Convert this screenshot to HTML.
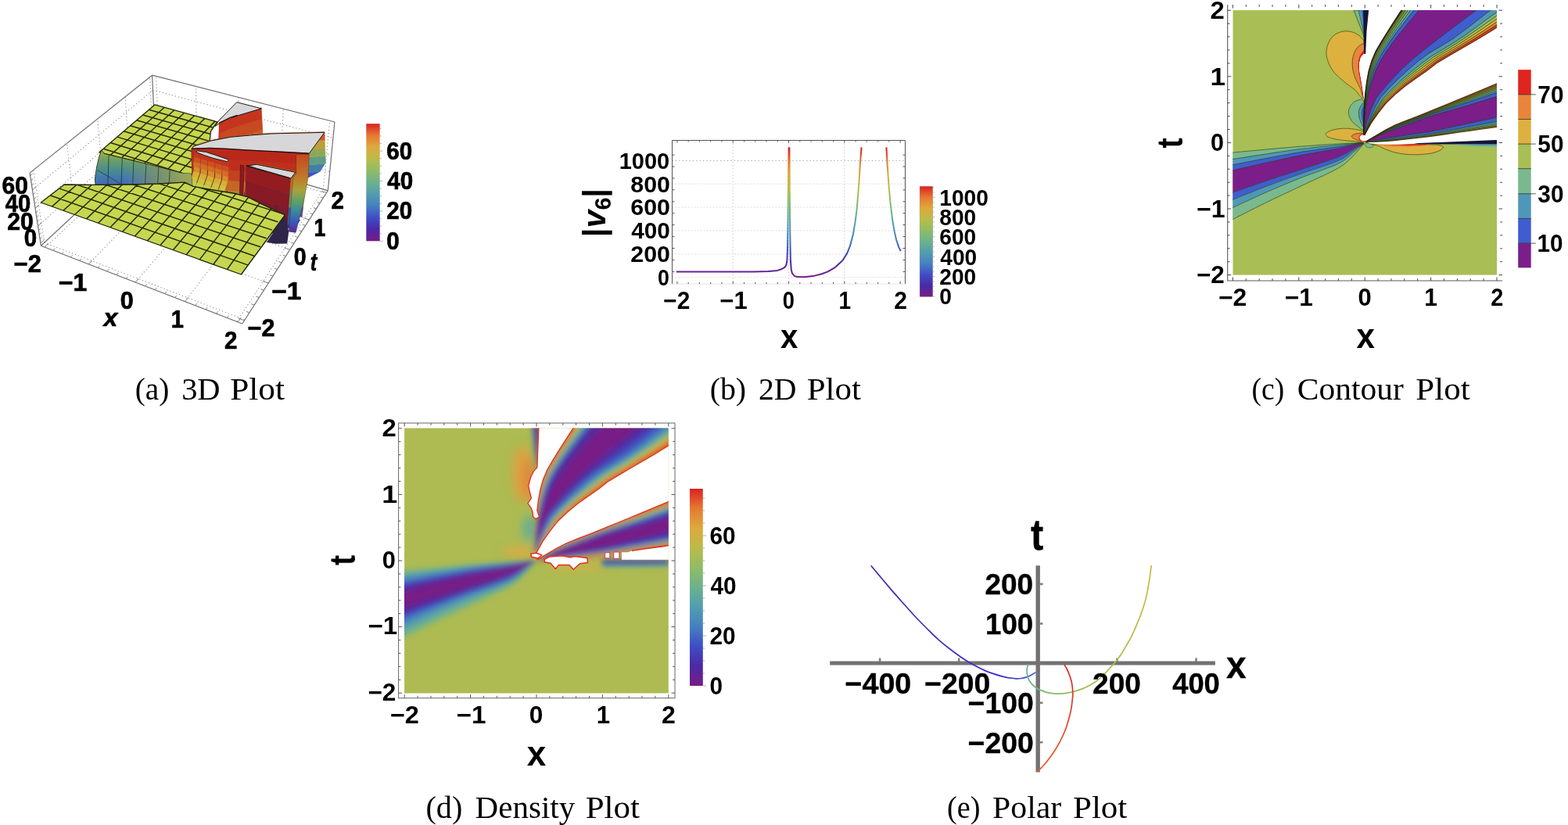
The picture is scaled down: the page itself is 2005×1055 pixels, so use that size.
<!DOCTYPE html>
<html lang="en"><head><meta charset="utf-8"><title>Figure</title>
<style>
html,body{margin:0;padding:0;background:#fff;overflow:hidden}
svg{display:block}
.s{font-family:"Liberation Sans",sans-serif;font-weight:bold;fill:#000}
.si{font-family:"Liberation Sans",sans-serif;font-weight:bold;font-style:italic;fill:#000}
.k7 text{stroke:#000;stroke-width:0.7px;stroke-linejoin:round}
.k4 text{stroke:#000;stroke-width:0.4px;stroke-linejoin:round}
.c{font-family:"Liberation Serif",serif;fill:#000}
</style></head><body>
<svg width="2005" height="1055" viewBox="0 0 2005 1055">
<rect width="2005" height="1055" fill="#fff"/>
<!-- 10_a.svg -->
<g id="plot-a" class="k7">
<g stroke="#6e6e6e" stroke-width="1.2" fill="none"><line x1="38.1" y1="221.1" x2="194.6" y2="96.2"/><line x1="194.6" y1="96.2" x2="427.9" y2="156.0"/><line x1="194.6" y1="96.2" x2="198.4" y2="178.6"/><line x1="427.9" y1="156.0" x2="419.3" y2="243.8"/><line x1="38.1" y1="221.1" x2="52.4" y2="314.2"/><line x1="52.4" y1="314.2" x2="309.8" y2="414.0"/><line x1="309.8" y1="414.0" x2="419.3" y2="243.8"/><line x1="52.4" y1="314.2" x2="198.4" y2="178.6"/><line x1="198.4" y1="178.6" x2="419.3" y2="243.8"/></g>
<g stroke="#7e7e7e" stroke-width="1.05" stroke-dasharray="1.1 3.1" fill="none"><line x1="113.3" y1="337.8" x2="251.6" y2="194.3"/><line x1="96.3" y1="273.5" x2="343.3" y2="362.0"/><line x1="96.3" y1="273.5" x2="85.5" y2="183.3"/><line x1="251.6" y1="194.3" x2="250.5" y2="110.5"/><line x1="173.1" y1="361.0" x2="303.3" y2="209.5"/><line x1="132.8" y1="239.6" x2="370.7" y2="319.3"/><line x1="132.8" y1="239.6" x2="124.7" y2="152.0"/><line x1="303.3" y1="209.5" x2="305.0" y2="124.5"/><line x1="236.6" y1="385.6" x2="357.6" y2="225.6"/><line x1="165.9" y1="208.8" x2="395.4" y2="281.0"/><line x1="165.9" y1="208.8" x2="160.0" y2="123.8"/><line x1="357.6" y1="225.6" x2="362.4" y2="139.2"/><line x1="48.6" y1="288.9" x2="197.4" y2="156.0"/><line x1="197.4" y1="156.0" x2="421.7" y2="219.9"/><line x1="45.1" y1="266.2" x2="196.4" y2="135.9"/><line x1="196.4" y1="135.9" x2="423.8" y2="198.4"/><line x1="41.5" y1="242.8" x2="195.5" y2="115.3"/><line x1="195.5" y1="115.3" x2="425.9" y2="176.4"/><line x1="56.7" y1="310.2" x2="42.7" y2="217.4"/><line x1="195.6" y1="181.2" x2="191.5" y2="98.7"/><line x1="203.2" y1="180.0" x2="199.6" y2="97.5"/><line x1="413.4" y1="242.1" x2="421.7" y2="154.4"/><line x1="57.9" y1="316.3" x2="203.2" y2="180.0"/><line x1="302.9" y1="411.3" x2="413.4" y2="242.1"/><line x1="56.7" y1="310.2" x2="313.1" y2="408.9"/><line x1="195.6" y1="181.2" x2="417.2" y2="247.1"/></g>
<g stroke="#777" stroke-width="0.9" fill="none"><line x1="56.8" y1="315.9" x2="61.5" y2="311.5"/><line x1="312.5" y1="409.9" x2="304.8" y2="407.0"/><line x1="67.9" y1="320.2" x2="70.4" y2="317.8"/><line x1="318.9" y1="399.9" x2="314.8" y2="398.3"/><line x1="79.0" y1="324.5" x2="81.5" y2="322.1"/><line x1="325.2" y1="390.1" x2="321.1" y2="388.6"/><line x1="90.3" y1="328.9" x2="92.8" y2="326.4"/><line x1="331.4" y1="380.5" x2="327.3" y2="379.0"/><line x1="101.7" y1="333.3" x2="104.2" y2="330.8"/><line x1="337.4" y1="371.2" x2="333.4" y2="369.7"/><line x1="113.3" y1="337.8" x2="117.7" y2="333.1"/><line x1="343.3" y1="362.0" x2="335.9" y2="359.4"/><line x1="125.0" y1="342.3" x2="127.4" y2="339.8"/><line x1="349.0" y1="353.1" x2="345.0" y2="351.7"/><line x1="136.8" y1="346.9" x2="139.2" y2="344.3"/><line x1="354.6" y1="344.4" x2="350.7" y2="343.0"/><line x1="148.7" y1="351.5" x2="151.1" y2="348.9"/><line x1="360.1" y1="335.9" x2="356.2" y2="334.5"/><line x1="160.9" y1="356.2" x2="163.2" y2="353.6"/><line x1="365.5" y1="327.5" x2="361.6" y2="326.2"/><line x1="173.1" y1="361.0" x2="177.3" y2="356.1"/><line x1="370.7" y1="319.3" x2="363.7" y2="317.0"/><line x1="185.5" y1="365.8" x2="187.8" y2="363.1"/><line x1="375.9" y1="311.3" x2="372.1" y2="310.1"/><line x1="198.1" y1="370.7" x2="200.3" y2="367.9"/><line x1="380.9" y1="303.5" x2="377.1" y2="302.3"/><line x1="210.8" y1="375.6" x2="213.0" y2="372.8"/><line x1="385.8" y1="295.9" x2="382.1" y2="294.6"/><line x1="223.6" y1="380.6" x2="225.8" y2="377.8"/><line x1="390.7" y1="288.4" x2="386.9" y2="287.2"/><line x1="236.6" y1="385.6" x2="240.6" y2="380.4"/><line x1="395.4" y1="281.0" x2="388.7" y2="278.9"/><line x1="249.8" y1="390.7" x2="252.0" y2="387.8"/><line x1="400.0" y1="273.8" x2="396.4" y2="272.7"/><line x1="263.2" y1="395.9" x2="265.3" y2="393.0"/><line x1="404.5" y1="266.8" x2="400.9" y2="265.6"/><line x1="276.7" y1="401.2" x2="278.8" y2="398.2"/><line x1="409.0" y1="259.8" x2="405.4" y2="258.7"/><line x1="290.4" y1="406.5" x2="292.4" y2="403.5"/><line x1="413.3" y1="253.1" x2="409.8" y2="252.0"/><line x1="304.2" y1="411.9" x2="307.9" y2="406.3"/><line x1="417.6" y1="246.4" x2="411.2" y2="244.5"/><line x1="51.9" y1="311.0" x2="56.7" y2="306.6"/><line x1="51.1" y1="305.5" x2="53.7" y2="303.1"/><line x1="50.3" y1="300.0" x2="52.9" y2="297.7"/><line x1="49.4" y1="294.5" x2="52.0" y2="292.2"/><line x1="48.6" y1="288.9" x2="53.4" y2="284.6"/><line x1="47.7" y1="283.3" x2="50.3" y2="281.0"/><line x1="46.8" y1="277.7" x2="49.5" y2="275.3"/><line x1="45.9" y1="272.0" x2="48.6" y2="269.7"/><line x1="45.1" y1="266.2" x2="50.0" y2="262.0"/><line x1="44.2" y1="260.4" x2="46.9" y2="258.1"/><line x1="43.3" y1="254.6" x2="46.0" y2="252.3"/><line x1="42.4" y1="248.7" x2="45.1" y2="246.5"/><line x1="41.5" y1="242.8" x2="46.4" y2="238.7"/><line x1="40.5" y1="236.8" x2="43.3" y2="234.6"/><line x1="39.6" y1="230.8" x2="42.4" y2="228.6"/><line x1="38.7" y1="224.7" x2="41.4" y2="222.5"/></g>
<defs><clipPath id="cpS2"><polygon points="197.8,133.9 277.8,155.8 269.5,167.8 267.7,184.2 271.7,195.3 280.1,190.8 268.1,199.9 257.2,209.9 247.1,220.6 243.0,223.7 243.2,224.6 231.9,221.5 215.1,216.9 204.0,214.0 192.9,211.1 181.9,208.3 165.5,204.2 154.6,201.6 143.9,199.0 133.2,196.4 126.9,194.8"/></clipPath></defs><polygon points="197.8,133.9 277.8,155.8 269.5,167.8 267.7,184.2 271.7,195.3 280.1,190.8 268.1,199.9 257.2,209.9 247.1,220.6 243.0,223.7 243.2,224.6 231.9,221.5 215.1,216.9 204.0,214.0 192.9,211.1 181.9,208.3 165.5,204.2 154.6,201.6 143.9,199.0 133.2,196.4 126.9,194.8" fill="#c7d650" stroke="#1c2408" stroke-width="1.3" stroke-linejoin="round"/>
<path d="M127.4,210.4L210.3,137.3M141.1,214.8L222.9,140.8M155.1,219.3L235.7,144.3M169.2,223.8L248.7,147.8M183.5,228.4L261.8,151.4M198.0,233.1L275.1,155.1M113.8,206.0L242.8,247.5M212.7,237.8L288.6,158.8M123.2,198.0L251.0,238.4M227.7,242.6L302.2,162.5M132.3,190.2L259.0,229.5M242.8,247.5L316.0,166.3M141.2,182.5L266.8,220.9M149.9,175.1L274.4,212.5M158.3,167.8L281.8,204.3M166.6,160.7L289.0,196.3M174.7,153.7L296.0,188.5M182.6,147.0L302.8,180.9M190.3,140.3L309.5,173.5" stroke="#232b0a" stroke-width="1.5" fill="none" clip-path="url(#cpS2)"/>
<g><polygon points="330.5,220.8 346.2,217.0 367.7,220.9 391.5,226.6 368.0,228.8" fill="#4a2aa5" stroke="#4a2aa5" stroke-width="0.5" stroke-linejoin="round"/>
<polygon points="312.3,225.4 330.5,220.8 368.0,228.8 344.3,231.1" fill="#4a2aa5" stroke="#4a2aa5" stroke-width="0.5" stroke-linejoin="round"/>
<polygon points="395.7,226.2 391.5,226.6 367.7,220.9" fill="#4a2aa5" stroke="#4a2aa5" stroke-width="0.5" stroke-linejoin="round"/>
<polygon points="303.3,228.1 312.3,225.4 344.3,231.1 332.5,232.4" fill="#4a2aa5" stroke="#4a2aa5" stroke-width="0.5" stroke-linejoin="round"/>
<polygon points="286.4,234.5 303.3,228.1 332.5,232.4 309.0,235.6" fill="#4a2aa5" stroke="#4a2aa5" stroke-width="0.5" stroke-linejoin="round"/>
<polygon points="391.5,226.6 395.7,226.2 409.2,219.4 403.0,220.0" fill="#3f4dc5" stroke="#3f4dc5" stroke-width="0.5" stroke-linejoin="round"/>
<polygon points="368.0,228.8 391.5,226.6 403.0,220.0 378.4,222.5" fill="#3f4dc5" stroke="#3f4dc5" stroke-width="0.5" stroke-linejoin="round"/>
<polygon points="344.3,231.1 368.0,228.8 378.4,222.5 353.1,224.0" fill="#3f4dc5" stroke="#3f4dc5" stroke-width="0.5" stroke-linejoin="round"/>
<polygon points="271.8,243.2 286.4,234.5 309.0,235.6 286.0,240.4" fill="#4a2aa5" stroke="#4a2aa5" stroke-width="0.5" stroke-linejoin="round"/>
<polygon points="332.5,232.4 344.3,231.1 353.1,224.0 340.3,224.3" fill="#3f4dc5" stroke="#3f4dc5" stroke-width="0.5" stroke-linejoin="round"/>
<polygon points="309.0,235.6 332.5,232.4 340.3,224.3 315.3,227.0" fill="#3f4dc5" stroke="#3f4dc5" stroke-width="0.5" stroke-linejoin="round"/>
<polygon points="403.0,220.0 409.2,219.4 415.7,209.2 404.4,210.2" fill="#437ea7" stroke="#437ea7" stroke-width="0.5" stroke-linejoin="round"/>
<polygon points="378.4,222.5 403.0,220.0 404.4,210.2 379.6,212.3" fill="#437ea7" stroke="#437ea7" stroke-width="0.5" stroke-linejoin="round"/>
<polygon points="286.0,240.4 309.0,235.6 315.3,227.0 290.7,231.1" fill="#3f4dc5" stroke="#3f4dc5" stroke-width="0.5" stroke-linejoin="round"/>
<polygon points="353.1,224.0 378.4,222.5 379.6,212.3 354.2,213.6" fill="#437ea7" stroke="#437ea7" stroke-width="0.5" stroke-linejoin="round"/>
<polygon points="259.0,253.2 271.8,243.2 286.0,240.4 265.0,247.9" fill="#4a2aa5" stroke="#4a2aa5" stroke-width="0.5" stroke-linejoin="round"/>
<polygon points="340.3,224.3 353.1,224.0 354.2,213.6 341.4,213.9" fill="#437ea7" stroke="#437ea7" stroke-width="0.5" stroke-linejoin="round"/>
<polygon points="315.3,227.0 340.3,224.3 341.4,213.9 316.2,216.5" fill="#437ea7" stroke="#437ea7" stroke-width="0.5" stroke-linejoin="round"/>
<polygon points="404.4,210.2 415.7,209.2 416.4,208.2 416.0,199.4 405.9,200.1" fill="#5e9d84" stroke="#5e9d84" stroke-width="0.5" stroke-linejoin="round"/>
<polygon points="379.6,212.3 404.4,210.2 405.9,200.1 380.8,201.9" fill="#5e9d84" stroke="#5e9d84" stroke-width="0.5" stroke-linejoin="round"/>
<polygon points="265.0,247.9 286.0,240.4 290.7,231.1 267.8,238.0" fill="#3f4dc5" stroke="#3f4dc5" stroke-width="0.5" stroke-linejoin="round"/>
<polygon points="290.7,231.1 315.3,227.0 316.2,216.5 291.4,220.2" fill="#437ea7" stroke="#437ea7" stroke-width="0.5" stroke-linejoin="round"/>
<polygon points="354.2,213.6 379.6,212.3 380.8,201.9 355.3,203.0" fill="#5e9d84" stroke="#5e9d84" stroke-width="0.5" stroke-linejoin="round"/>
<polygon points="341.4,213.9 354.2,213.6 355.3,203.0 342.4,203.3" fill="#5e9d84" stroke="#5e9d84" stroke-width="0.5" stroke-linejoin="round"/>
<polygon points="316.2,216.5 341.4,213.9 342.4,203.3 317.2,205.7" fill="#5e9d84" stroke="#5e9d84" stroke-width="0.5" stroke-linejoin="round"/>
<polygon points="248.0,264.4 259.0,253.2 265.0,247.9 248.1,259.1" fill="#4a2aa5" stroke="#4a2aa5" stroke-width="0.5" stroke-linejoin="round"/>
<polygon points="405.9,200.1 416.0,199.4 415.7,189.4 407.3,189.9" fill="#8ea953" stroke="#8ea953" stroke-width="0.5" stroke-linejoin="round"/>
<polygon points="267.8,238.0 290.7,231.1 291.4,220.2 268.2,226.6" fill="#437ea7" stroke="#437ea7" stroke-width="0.5" stroke-linejoin="round"/>
<polygon points="380.8,201.9 405.9,200.1 407.3,189.9 382.0,191.3" fill="#8ea953" stroke="#8ea953" stroke-width="0.5" stroke-linejoin="round"/>
<polygon points="291.4,220.2 316.2,216.5 317.2,205.7 292.2,209.1" fill="#5e9d84" stroke="#5e9d84" stroke-width="0.5" stroke-linejoin="round"/>
<polygon points="355.3,203.0 380.8,201.9 382.0,191.3 356.4,192.2" fill="#8ea953" stroke="#8ea953" stroke-width="0.5" stroke-linejoin="round"/>
<polygon points="342.4,203.3 355.3,203.0 356.4,192.2 343.5,192.5" fill="#8ea953" stroke="#8ea953" stroke-width="0.5" stroke-linejoin="round"/>
<polygon points="248.1,259.1 265.0,247.9 267.8,238.0 248.1,248.4" fill="#3f4dc5" stroke="#3f4dc5" stroke-width="0.5" stroke-linejoin="round"/>
<polygon points="317.2,205.7 342.4,203.3 343.5,192.5 318.2,194.8" fill="#8ea953" stroke="#8ea953" stroke-width="0.5" stroke-linejoin="round"/>
<polygon points="268.2,226.6 291.4,220.2 292.2,209.1 268.7,215.1" fill="#5e9d84" stroke="#5e9d84" stroke-width="0.5" stroke-linejoin="round"/>
<polygon points="407.3,189.9 415.7,189.4 415.3,179.1 408.8,179.4" fill="#c19d39" stroke="#c19d39" stroke-width="0.5" stroke-linejoin="round"/>
<polygon points="292.2,209.1 317.2,205.7 318.2,194.8 293.0,197.8" fill="#8ea953" stroke="#8ea953" stroke-width="0.5" stroke-linejoin="round"/>
<polygon points="382.0,191.3 407.3,189.9 408.8,179.4 383.3,180.5" fill="#c19d39" stroke="#c19d39" stroke-width="0.5" stroke-linejoin="round"/>
<polygon points="248.1,248.4 267.8,238.0 268.2,226.6 247.9,236.4" fill="#437ea7" stroke="#437ea7" stroke-width="0.5" stroke-linejoin="round"/>
<polygon points="356.4,192.2 382.0,191.3 383.3,180.5 357.5,181.1" fill="#c19d39" stroke="#c19d39" stroke-width="0.5" stroke-linejoin="round"/>
<polygon points="343.5,192.5 356.4,192.2 357.5,181.1 344.6,181.5" fill="#c19d39" stroke="#c19d39" stroke-width="0.5" stroke-linejoin="round"/>
<polygon points="318.2,194.8 343.5,192.5 344.6,181.5 319.2,183.6" fill="#c19d39" stroke="#c19d39" stroke-width="0.5" stroke-linejoin="round"/>
<polygon points="268.7,215.1 292.2,209.1 293.0,197.8 269.2,203.3" fill="#8ea953" stroke="#8ea953" stroke-width="0.5" stroke-linejoin="round"/>
<polygon points="293.0,197.8 318.2,194.8 319.2,183.6 293.9,186.3" fill="#c19d39" stroke="#c19d39" stroke-width="0.5" stroke-linejoin="round"/>
<polygon points="247.9,236.4 268.2,226.6 268.7,215.1 247.7,224.2" fill="#5e9d84" stroke="#5e9d84" stroke-width="0.5" stroke-linejoin="round"/>
<polygon points="408.8,179.4 415.3,179.1 415.0,168.5 410.3,168.7" fill="#cc5829" stroke="#cc5829" stroke-width="0.5" stroke-linejoin="round"/>
<polygon points="383.3,180.5 408.8,179.4 410.3,168.7 384.6,169.4" fill="#cc5829" stroke="#cc5829" stroke-width="0.5" stroke-linejoin="round"/>
<polygon points="357.5,181.1 383.3,180.5 384.6,169.4 358.7,169.9" fill="#cc5829" stroke="#cc5829" stroke-width="0.5" stroke-linejoin="round"/>
<polygon points="344.6,181.5 357.5,181.1 358.7,169.9 345.8,170.2" fill="#cc5829" stroke="#cc5829" stroke-width="0.5" stroke-linejoin="round"/>
<polygon points="319.2,183.6 344.6,181.5 345.8,170.2 320.3,172.2" fill="#cc5829" stroke="#cc5829" stroke-width="0.5" stroke-linejoin="round"/>
<polygon points="269.2,203.3 293.0,197.8 293.9,186.3 269.6,191.4" fill="#c19d39" stroke="#c19d39" stroke-width="0.5" stroke-linejoin="round"/>
<polygon points="247.7,224.2 268.7,215.1 269.2,203.3 247.5,211.8" fill="#8ea953" stroke="#8ea953" stroke-width="0.5" stroke-linejoin="round"/>
<polygon points="293.9,186.3 319.2,183.6 320.3,172.2 294.7,174.5" fill="#cc5829" stroke="#cc5829" stroke-width="0.5" stroke-linejoin="round"/>
<polygon points="269.6,191.4 293.9,186.3 294.7,174.5 270.1,179.2" fill="#cc5829" stroke="#cc5829" stroke-width="0.5" stroke-linejoin="round"/>
<polygon points="247.5,211.8 269.2,203.3 269.6,191.4 247.4,199.2" fill="#c19d39" stroke="#c19d39" stroke-width="0.5" stroke-linejoin="round"/>
<polygon points="247.4,199.2 269.6,191.4 270.1,179.2 247.2,186.4" fill="#cc5829" stroke="#cc5829" stroke-width="0.5" stroke-linejoin="round"/></g>
<g><polygon points="322.8,184.0 336.5,180.0 337.3,193.5 323.4,197.6" fill="#ce7126" stroke="#ce7126" stroke-width="0.5" stroke-linejoin="round"/>
<polygon points="305.5,189.2 322.8,184.0 323.4,197.6 306.1,202.7" fill="#ce7126" stroke="#ce7126" stroke-width="0.5" stroke-linejoin="round"/>
<polygon points="322.1,170.3 335.8,166.3 336.5,180.0 322.8,184.0" fill="#cb5e23" stroke="#cb5e23" stroke-width="0.5" stroke-linejoin="round"/>
<line x1="320.8" y1="142.1" x2="323.4" y2="197.6" stroke="#3a1818" stroke-width="0.8"/>
<polygon points="297.0,192.0 305.5,189.2 306.1,202.7 297.6,205.6" fill="#ce7126" stroke="#ce7126" stroke-width="0.5" stroke-linejoin="round"/>
<polygon points="304.9,175.5 322.1,170.3 322.8,184.0 305.5,189.2" fill="#cb5e23" stroke="#cb5e23" stroke-width="0.5" stroke-linejoin="round"/>
<polygon points="321.5,156.3 335.0,152.3 335.8,166.3 322.1,170.3" fill="#c74a20" stroke="#c74a20" stroke-width="0.5" stroke-linejoin="round"/>
<line x1="303.6" y1="147.3" x2="306.1" y2="202.7" stroke="#3a1818" stroke-width="0.8"/>
<polygon points="281.8,199.3 297.0,192.0 297.6,205.6 282.3,212.8" fill="#ce7126" stroke="#ce7126" stroke-width="0.5" stroke-linejoin="round"/>
<polygon points="296.4,178.3 304.9,175.5 305.5,189.2 297.0,192.0" fill="#cb5e23" stroke="#cb5e23" stroke-width="0.5" stroke-linejoin="round"/>
<polygon points="304.3,161.5 321.5,156.3 322.1,170.3 304.9,175.5" fill="#c74a20" stroke="#c74a20" stroke-width="0.5" stroke-linejoin="round"/>
<polygon points="320.8,142.1 334.2,138.1 335.0,152.3 321.5,156.3" fill="#c4351c" stroke="#c4351c" stroke-width="0.5" stroke-linejoin="round"/>
<line x1="295.1" y1="150.0" x2="297.6" y2="205.6" stroke="#3a1818" stroke-width="0.8"/>
<polygon points="281.3,185.5 296.4,178.3 297.0,192.0 281.8,199.3" fill="#cb5e23" stroke="#cb5e23" stroke-width="0.5" stroke-linejoin="round"/>
<polygon points="295.8,164.3 304.3,161.5 304.9,175.5 296.4,178.3" fill="#c74a20" stroke="#c74a20" stroke-width="0.5" stroke-linejoin="round"/>
<line x1="320.8" y1="142.1" x2="334.2" y2="138.1" stroke="#111" stroke-width="1.3"/>
<polygon points="303.6,147.3 320.8,142.1 321.5,156.3 304.3,161.5" fill="#c4351c" stroke="#c4351c" stroke-width="0.5" stroke-linejoin="round"/>
<polygon points="269.2,212.6 282.0,203.6 283.9,216.3 270.3,225.1" fill="#99b45c" stroke="#99b45c" stroke-width="0.5" stroke-linejoin="round"/>
<line x1="280.3" y1="157.3" x2="282.3" y2="212.8" stroke="#3a1818" stroke-width="0.8"/>
<line x1="303.6" y1="147.3" x2="320.8" y2="142.1" stroke="#111" stroke-width="1.3"/>
<polygon points="280.8,171.5 295.8,164.3 296.4,178.3 281.3,185.5" fill="#c74a20" stroke="#c74a20" stroke-width="0.5" stroke-linejoin="round"/>
<polygon points="295.1,150.0 303.6,147.3 304.3,161.5 295.8,164.3" fill="#c4351c" stroke="#c4351c" stroke-width="0.5" stroke-linejoin="round"/>
<polygon points="268.1,200.0 280.1,190.8 282.0,203.6 269.2,212.6" fill="#b8ca54" stroke="#b8ca54" stroke-width="0.5" stroke-linejoin="round"/>
<polygon points="302.8,130.7 279.1,154.9 275.0,161.4 280.3,158.0 295.1,150.8 303.6,148.0 320.8,142.8 334.2,138.8" fill="#d7d7d9" stroke="#1a1a1a" stroke-width="1.0" stroke-linejoin="round"/>
<line x1="268.1" y1="200.0" x2="270.3" y2="225.1" stroke="#232b0a" stroke-width="0.8"/>
<polygon points="280.3,158.0 282.4,192.2 279.0,190.4" fill="#c8361e" stroke="#c8361e" stroke-width="0.5" stroke-linejoin="round"/>
<line x1="295.1" y1="150.0" x2="303.6" y2="147.3" stroke="#111" stroke-width="1.3"/>
<polygon points="257.7,222.6 269.2,212.6 270.3,225.1 258.3,235.1" fill="#99b45c" stroke="#99b45c" stroke-width="0.5" stroke-linejoin="round"/>
<polygon points="280.3,157.3 295.1,150.0 295.8,164.3 280.8,171.5" fill="#c4351c" stroke="#c4351c" stroke-width="0.5" stroke-linejoin="round"/>
<line x1="280.3" y1="157.3" x2="295.1" y2="150.0" stroke="#111" stroke-width="1.3"/>
<polygon points="257.2,210.0 268.1,200.0 269.2,212.6 257.7,222.6" fill="#b8ca54" stroke="#b8ca54" stroke-width="0.5" stroke-linejoin="round"/>
<line x1="257.2" y1="210.0" x2="258.3" y2="235.1" stroke="#232b0a" stroke-width="0.8"/>
<polygon points="247.3,233.5 257.7,222.6 258.3,235.1 247.6,246.1" fill="#99b45c" stroke="#99b45c" stroke-width="0.5" stroke-linejoin="round"/>
<polygon points="247.1,220.7 257.2,210.0 257.7,222.6 247.3,233.5" fill="#b8ca54" stroke="#b8ca54" stroke-width="0.5" stroke-linejoin="round"/>
<line x1="247.1" y1="220.7" x2="247.6" y2="246.1" stroke="#232b0a" stroke-width="0.8"/></g>
<g><polygon points="247.2,187.2 270.1,180.0 294.7,175.3 320.2,173.0 345.7,171.0 358.7,170.6 384.5,170.1 410.3,169.4 415.0,169.3 394.8,196.9 373.2,195.8 349.7,194.5 338.0,193.9 314.6,192.5 291.4,191.1 268.2,190.2 245.0,190.8" fill="#d7d7d9" stroke="#1a1a1a" stroke-width="1.0" stroke-linejoin="round"/></g>
<g><polygon points="246.5,267.6 268.0,268.4 266.5,271.8 246.6,267.8" fill="#5a2a8a" stroke="#5a2a8a" stroke-width="0.5" stroke-linejoin="round"/>
<polygon points="246.2,255.1 268.2,255.1 268.2,267.5 246.4,267.5" fill="#6b4b6f" stroke="#6b4b6f" stroke-width="0.5" stroke-linejoin="round"/>
<polygon points="268.2,255.1 290.2,256.3 289.9,268.9 268.2,267.5" fill="#6b4b6f" stroke="#6b4b6f" stroke-width="0.5" stroke-linejoin="round"/>
<polygon points="268.0,268.4 289.4,270.1 286.6,276.1 266.5,271.8" fill="#5a2a8a" stroke="#5a2a8a" stroke-width="0.5" stroke-linejoin="round"/>
<polygon points="290.2,256.3 312.2,257.9 311.7,270.5 289.9,268.9" fill="#6b4b6f" stroke="#6b4b6f" stroke-width="0.5" stroke-linejoin="round"/>
<polygon points="312.2,257.9 334.3,259.9 333.6,272.6 311.7,270.5" fill="#6b4b6f" stroke="#6b4b6f" stroke-width="0.5" stroke-linejoin="round"/>
<polygon points="289.4,270.1 311.0,271.9 306.8,280.6 286.6,276.1" fill="#5a2a8a" stroke="#5a2a8a" stroke-width="0.5" stroke-linejoin="round"/>
<polygon points="334.3,259.9 345.4,260.9 344.6,273.7 333.6,272.6" fill="#6b4b6f" stroke="#6b4b6f" stroke-width="0.5" stroke-linejoin="round"/>
<polygon points="245.9,242.5 268.2,242.4 268.2,255.1 246.2,255.1" fill="#ad8033" stroke="#ad8033" stroke-width="0.5" stroke-linejoin="round"/>
<polygon points="268.2,242.4 290.4,243.5 290.2,256.3 268.2,255.1" fill="#ad8033" stroke="#ad8033" stroke-width="0.5" stroke-linejoin="round"/>
<polygon points="345.4,260.9 367.7,262.8 366.6,275.7 344.6,273.7" fill="#6b4b6f" stroke="#6b4b6f" stroke-width="0.5" stroke-linejoin="round"/>
<polygon points="311.0,271.9 332.5,274.6 327.6,284.3 306.8,280.6" fill="#5a2a8a" stroke="#5a2a8a" stroke-width="0.5" stroke-linejoin="round"/>
<polygon points="290.4,243.5 312.7,245.1 312.2,257.9 290.2,256.3" fill="#ad8033" stroke="#ad8033" stroke-width="0.5" stroke-linejoin="round"/>
<polygon points="367.7,262.8 387.7,264.4 386.3,277.4 366.6,275.7" fill="#6b4b6f" stroke="#6b4b6f" stroke-width="0.5" stroke-linejoin="round"/>
<polygon points="312.7,245.1 335.0,246.9 334.3,259.9 312.2,257.9" fill="#ad8033" stroke="#ad8033" stroke-width="0.5" stroke-linejoin="round"/>
<polygon points="332.5,274.6 343.3,276.1 338.1,286.1 327.6,284.3" fill="#5a2a8a" stroke="#5a2a8a" stroke-width="0.5" stroke-linejoin="round"/>
<line x1="268.2" y1="189.4" x2="268.2" y2="267.5" stroke="#3a1818" stroke-width="0.8"/>
<line x1="245.0" y1="190.1" x2="246.4" y2="267.5" stroke="#3a1818" stroke-width="0.8"/>
<polygon points="335.0,246.9 346.2,247.9 345.4,260.9 334.3,259.9" fill="#ad8033" stroke="#ad8033" stroke-width="0.5" stroke-linejoin="round"/>
<line x1="291.4" y1="190.3" x2="289.9" y2="268.9" stroke="#3a1818" stroke-width="0.8"/>
<polygon points="245.7,229.8 268.2,229.5 268.2,242.4 245.9,242.5" fill="#c46625" stroke="#c46625" stroke-width="0.5" stroke-linejoin="round"/>
<polygon points="343.3,276.1 365.0,278.8 359.2,289.9 338.1,286.1" fill="#5a2a8a" stroke="#5a2a8a" stroke-width="0.5" stroke-linejoin="round"/>
<polygon points="268.2,229.5 290.6,230.5 290.4,243.5 268.2,242.4" fill="#c46625" stroke="#c46625" stroke-width="0.5" stroke-linejoin="round"/>
<polygon points="346.2,247.9 368.7,249.6 367.7,262.8 345.4,260.9" fill="#ad8033" stroke="#ad8033" stroke-width="0.5" stroke-linejoin="round"/>
<line x1="314.6" y1="191.8" x2="311.7" y2="270.5" stroke="#3a1818" stroke-width="0.8"/>
<polygon points="290.6,230.5 313.2,232.1 312.7,245.1 290.4,243.5" fill="#c46625" stroke="#c46625" stroke-width="0.5" stroke-linejoin="round"/>
<polygon points="368.7,249.6 389.1,251.2 387.7,264.4 367.7,262.8" fill="#ad8033" stroke="#ad8033" stroke-width="0.5" stroke-linejoin="round"/>
<line x1="338.0" y1="193.1" x2="333.6" y2="272.6" stroke="#3a1818" stroke-width="0.8"/>
<polygon points="365.0,278.8 383.9,281.1 376.1,292.9 359.2,289.9" fill="#5a2a8a" stroke="#5a2a8a" stroke-width="0.5" stroke-linejoin="round"/>
<polygon points="313.2,232.1 335.8,233.8 335.0,246.9 312.7,245.1" fill="#c46625" stroke="#c46625" stroke-width="0.5" stroke-linejoin="round"/>
<line x1="349.7" y1="193.7" x2="344.6" y2="273.7" stroke="#3a1818" stroke-width="0.8"/>
<polygon points="335.8,233.8 347.1,234.7 346.2,247.9 335.0,246.9" fill="#c46625" stroke="#c46625" stroke-width="0.5" stroke-linejoin="round"/>
<line x1="373.2" y1="195.0" x2="366.6" y2="275.7" stroke="#3a1818" stroke-width="0.8"/>
<polygon points="245.5,216.8 268.2,216.4 268.2,229.5 245.7,229.8" fill="#c3421f" stroke="#c3421f" stroke-width="0.5" stroke-linejoin="round"/>
<polygon points="347.1,234.7 369.8,236.3 368.7,249.6 346.2,247.9" fill="#c46625" stroke="#c46625" stroke-width="0.5" stroke-linejoin="round"/>
<polygon points="268.2,216.4 290.9,217.4 290.6,230.5 268.2,229.5" fill="#c3421f" stroke="#c3421f" stroke-width="0.5" stroke-linejoin="round"/>
<polygon points="290.9,217.4 313.6,218.9 313.2,232.1 290.6,230.5" fill="#c3421f" stroke="#c3421f" stroke-width="0.5" stroke-linejoin="round"/>
<polygon points="369.8,236.3 390.5,237.7 389.1,251.2 368.7,249.6" fill="#c46625" stroke="#c46625" stroke-width="0.5" stroke-linejoin="round"/>
<polygon points="313.6,218.9 336.5,220.5 335.8,233.8 313.2,232.1" fill="#c3421f" stroke="#c3421f" stroke-width="0.5" stroke-linejoin="round"/>
<polygon points="336.5,220.5 348.0,221.2 347.1,234.7 335.8,233.8" fill="#c3421f" stroke="#c3421f" stroke-width="0.5" stroke-linejoin="round"/>
<polygon points="348.0,221.2 371.0,222.7 369.8,236.3 347.1,234.7" fill="#c3421f" stroke="#c3421f" stroke-width="0.5" stroke-linejoin="round"/>
<polygon points="245.2,203.5 268.2,203.0 268.2,216.4 245.5,216.8" fill="#bf2f1b" stroke="#bf2f1b" stroke-width="0.5" stroke-linejoin="round"/>
<polygon points="268.2,203.0 291.1,203.9 290.9,217.4 268.2,216.4" fill="#bf2f1b" stroke="#bf2f1b" stroke-width="0.5" stroke-linejoin="round"/>
<polygon points="371.0,222.7 391.9,224.1 390.5,237.7 369.8,236.3" fill="#c3421f" stroke="#c3421f" stroke-width="0.5" stroke-linejoin="round"/>
<polygon points="291.1,203.9 314.1,205.4 313.6,218.9 290.9,217.4" fill="#bf2f1b" stroke="#bf2f1b" stroke-width="0.5" stroke-linejoin="round"/>
<polygon points="314.1,205.4 337.2,206.9 336.5,220.5 313.6,218.9" fill="#bf2f1b" stroke="#bf2f1b" stroke-width="0.5" stroke-linejoin="round"/>
<polygon points="337.2,206.9 348.8,207.6 348.0,221.2 336.5,220.5" fill="#bf2f1b" stroke="#bf2f1b" stroke-width="0.5" stroke-linejoin="round"/>
<polygon points="348.8,207.6 372.1,209.0 371.0,222.7 348.0,221.2" fill="#bf2f1b" stroke="#bf2f1b" stroke-width="0.5" stroke-linejoin="round"/>
<polygon points="245.0,190.1 268.2,189.4 268.2,203.0 245.2,203.5" fill="#ba281a" stroke="#ba281a" stroke-width="0.5" stroke-linejoin="round"/>
<polygon points="268.2,189.4 291.4,190.3 291.1,203.9 268.2,203.0" fill="#ba281a" stroke="#ba281a" stroke-width="0.5" stroke-linejoin="round"/>
<polygon points="372.1,209.0 393.4,210.2 391.9,224.1 371.0,222.7" fill="#bf2f1b" stroke="#bf2f1b" stroke-width="0.5" stroke-linejoin="round"/>
<polygon points="291.4,190.3 314.6,191.8 314.1,205.4 291.1,203.9" fill="#ba281a" stroke="#ba281a" stroke-width="0.5" stroke-linejoin="round"/>
<polygon points="314.6,191.8 338.0,193.1 337.2,206.9 314.1,205.4" fill="#ba281a" stroke="#ba281a" stroke-width="0.5" stroke-linejoin="round"/>
<polygon points="338.0,193.1 349.7,193.7 348.8,207.6 337.2,206.9" fill="#ba281a" stroke="#ba281a" stroke-width="0.5" stroke-linejoin="round"/>
<polygon points="349.7,193.7 373.2,195.0 372.1,209.0 348.8,207.6" fill="#ba281a" stroke="#ba281a" stroke-width="0.5" stroke-linejoin="round"/>
<line x1="245.0" y1="190.1" x2="268.2" y2="189.4" stroke="#111" stroke-width="1.3"/>
<line x1="268.2" y1="189.4" x2="291.4" y2="190.3" stroke="#111" stroke-width="1.3"/>
<polygon points="373.2,195.0 394.9,196.1 393.4,210.2 372.1,209.0" fill="#ba281a" stroke="#ba281a" stroke-width="0.5" stroke-linejoin="round"/>
<line x1="291.4" y1="190.3" x2="314.6" y2="191.8" stroke="#111" stroke-width="1.3"/>
<line x1="314.6" y1="191.8" x2="338.0" y2="193.1" stroke="#111" stroke-width="1.3"/>
<line x1="338.0" y1="193.1" x2="349.7" y2="193.7" stroke="#111" stroke-width="1.3"/>
<line x1="349.7" y1="193.7" x2="373.2" y2="195.0" stroke="#111" stroke-width="1.3"/>
<line x1="373.2" y1="195.0" x2="394.9" y2="196.1" stroke="#111" stroke-width="1.3"/></g>
<g><polygon points="327.8,280.0 338.3,281.8 338.5,259.3 327.8,257.3" fill="#365e9a" stroke="#365e9a" stroke-width="0.5" stroke-linejoin="round"/>
<polygon points="338.3,281.8 359.5,285.5 359.9,263.3 338.5,259.3" fill="#365e9a" stroke="#365e9a" stroke-width="0.5" stroke-linejoin="round"/>
<polygon points="359.5,285.5 376.4,288.5 376.9,266.4 359.9,263.3" fill="#365e9a" stroke="#365e9a" stroke-width="0.5" stroke-linejoin="round"/>
<polygon points="327.8,257.3 338.5,259.3 338.6,235.9 327.9,233.9" fill="#6a935c" stroke="#6a935c" stroke-width="0.5" stroke-linejoin="round"/>
<polygon points="338.5,259.3 359.9,263.3 360.3,240.1 338.6,235.9" fill="#6a935c" stroke="#6a935c" stroke-width="0.5" stroke-linejoin="round"/>
<polygon points="359.9,263.3 376.9,266.4 377.3,243.4 360.3,240.1" fill="#6a935c" stroke="#6a935c" stroke-width="0.5" stroke-linejoin="round"/>
<polygon points="327.9,233.9 338.6,235.9 338.8,211.7 328.0,209.5" fill="#b5722b" stroke="#b5722b" stroke-width="0.5" stroke-linejoin="round"/>
<polygon points="338.6,235.9 360.3,240.1 360.7,216.1 338.8,211.7" fill="#b5722b" stroke="#b5722b" stroke-width="0.5" stroke-linejoin="round"/>
<polygon points="360.3,240.1 377.3,243.4 377.8,219.5 360.7,216.1" fill="#b5722b" stroke="#b5722b" stroke-width="0.5" stroke-linejoin="round"/></g>
<g><defs><linearGradient id="gas" gradientUnits="userSpaceOnUse" x1="0" y1="197" x2="0" y2="298"><stop offset="0" stop-color="#c4481e"/><stop offset="0.3" stop-color="#c07a28"/><stop offset="0.46" stop-color="#a8a23a"/><stop offset="0.6" stop-color="#5fa06a"/><stop offset="0.72" stop-color="#3a8a9c"/><stop offset="0.86" stop-color="#3a58b8"/><stop offset="1" stop-color="#5a2890"/></linearGradient></defs><polygon points="378.5,197.4 395.4,197.4 394.1,227 389.2,254.1 383,278.7 378.1,297.4 369.3,296.2 374.8,227 378.8,222" fill="url(#gas)" stroke="#1a1a1a" stroke-width="0.6" stroke-opacity="0.5"/></g>
<g><polygon points="313.5,268.3 326.5,272.4 325.7,290.5 312.9,286.3" fill="#701834" stroke="#701834" stroke-width="0.5" stroke-linejoin="round"/>
<polygon points="326.5,272.4 339.6,276.6 338.7,294.8 325.7,290.5" fill="#701834" stroke="#701834" stroke-width="0.5" stroke-linejoin="round"/>
<line x1="315.3" y1="211.5" x2="312.9" y2="286.3" stroke="#4a0c10" stroke-width="0.8"/>
<polygon points="339.6,276.6 353.0,280.9 351.9,299.1 338.7,294.8" fill="#701834" stroke="#701834" stroke-width="0.5" stroke-linejoin="round"/>
<polygon points="314.1,249.8 327.2,253.9 326.5,272.4 313.5,268.3" fill="#7c1a2e" stroke="#7c1a2e" stroke-width="0.5" stroke-linejoin="round"/>
<line x1="328.8" y1="215.5" x2="325.7" y2="290.5" stroke="#4a0c10" stroke-width="0.8"/>
<polygon points="353.0,280.9 366.5,285.2 365.2,303.5 351.9,299.1" fill="#701834" stroke="#701834" stroke-width="0.5" stroke-linejoin="round"/>
<polygon points="327.2,253.9 340.6,258.1 339.6,276.6 326.5,272.4" fill="#7c1a2e" stroke="#7c1a2e" stroke-width="0.5" stroke-linejoin="round"/>
<polygon points="366.5,285.2 367.6,285.6 366.3,303.8 365.2,303.5" fill="#701834" stroke="#701834" stroke-width="0.5" stroke-linejoin="round"/>
<line x1="342.5" y1="219.5" x2="338.7" y2="294.8" stroke="#4a0c10" stroke-width="0.8"/>
<polygon points="340.6,258.1 354.1,262.3 353.0,280.9 339.6,276.6" fill="#7c1a2e" stroke="#7c1a2e" stroke-width="0.5" stroke-linejoin="round"/>
<polygon points="314.7,230.9 328.0,234.9 327.2,253.9 314.1,249.8" fill="#881a26" stroke="#881a26" stroke-width="0.5" stroke-linejoin="round"/>
<line x1="356.3" y1="223.6" x2="351.9" y2="299.1" stroke="#4a0c10" stroke-width="0.8"/>
<polygon points="307.5,211.0 312.0,212.3 310.1,272.9 305.8,271.5" fill="#8a1a22" stroke="#4a0c10" stroke-width="0.6" stroke-linejoin="round"/>
<polygon points="354.1,262.3 367.7,266.6 366.5,285.2 353.0,280.9" fill="#7c1a2e" stroke="#7c1a2e" stroke-width="0.5" stroke-linejoin="round"/>
<polygon points="328.0,234.9 341.5,239.0 340.6,258.1 327.2,253.9" fill="#881a26" stroke="#881a26" stroke-width="0.5" stroke-linejoin="round"/>
<line x1="370.4" y1="227.7" x2="365.2" y2="303.5" stroke="#4a0c10" stroke-width="0.8"/>
<polygon points="367.7,266.6 368.8,266.9 367.6,285.6 366.5,285.2" fill="#7c1a2e" stroke="#7c1a2e" stroke-width="0.5" stroke-linejoin="round"/>
<polygon points="341.5,239.0 355.2,243.2 354.1,262.3 340.6,258.1" fill="#881a26" stroke="#881a26" stroke-width="0.5" stroke-linejoin="round"/>
<polygon points="315.3,211.5 328.8,215.5 328.0,234.9 314.7,230.9" fill="#941c20" stroke="#941c20" stroke-width="0.5" stroke-linejoin="round"/>
<polygon points="355.2,243.2 369.0,247.4 367.7,266.6 354.1,262.3" fill="#881a26" stroke="#881a26" stroke-width="0.5" stroke-linejoin="round"/>
<polygon points="328.8,215.5 342.5,219.5 341.5,239.0 328.0,234.9" fill="#941c20" stroke="#941c20" stroke-width="0.5" stroke-linejoin="round"/>
<polygon points="369.0,247.4 370.2,247.7 368.8,266.9 367.7,266.6" fill="#881a26" stroke="#881a26" stroke-width="0.5" stroke-linejoin="round"/>
<polygon points="315.3,212.3 327.9,210.3 338.8,212.4 360.6,216.9 377.7,220.3 371.5,228.8" fill="#d7d7d9" stroke="#1a1a1a" stroke-width="1.0" stroke-linejoin="round"/>
<line x1="315.3" y1="211.5" x2="328.8" y2="215.5" stroke="#111" stroke-width="1.3"/>
<polygon points="342.5,219.5 356.3,223.6 355.2,243.2 341.5,239.0" fill="#941c20" stroke="#941c20" stroke-width="0.5" stroke-linejoin="round"/>
<line x1="328.8" y1="215.5" x2="342.5" y2="219.5" stroke="#111" stroke-width="1.3"/>
<polygon points="356.3,223.6 370.4,227.7 369.0,247.4 355.2,243.2" fill="#941c20" stroke="#941c20" stroke-width="0.5" stroke-linejoin="round"/>
<polygon points="370.4,227.7 371.5,228.0 370.2,247.7 369.0,247.4" fill="#941c20" stroke="#941c20" stroke-width="0.5" stroke-linejoin="round"/>
<line x1="342.5" y1="219.5" x2="356.3" y2="223.6" stroke="#111" stroke-width="1.3"/>
<line x1="356.3" y1="223.6" x2="370.4" y2="227.7" stroke="#111" stroke-width="1.3"/>
<line x1="370.4" y1="227.7" x2="371.5" y2="228.0" stroke="#111" stroke-width="1.3"/></g>
<g><polygon points="247.9,194.6 250.6,191.9 251.0,225.7 247.2,229.9" fill="#b03a2a" stroke="#b03a2a" stroke-width="0.5" stroke-linejoin="round"/>
<polygon points="247.0,218.5 256.0,221.3 253.8,227.6 244.8,224.8" fill="#daad38" stroke="#daad38" stroke-width="0.5" stroke-linejoin="round"/>
<polygon points="247.2,212.4 256.3,215.2 256.0,221.3 247.0,218.5" fill="#d98c2c" stroke="#d98c2c" stroke-width="0.5" stroke-linejoin="round"/>
<polygon points="244.8,224.8 253.8,227.6 251.6,233.9 242.6,231.1" fill="#d2bf42" stroke="#d2bf42" stroke-width="0.5" stroke-linejoin="round"/>
<line x1="247.0" y1="218.5" x2="240.4" y2="237.4" stroke="#2a3010" stroke-width="0.8"/>
<polygon points="242.6,231.1 251.6,233.9 249.4,240.2 240.4,237.4" fill="#cacf4c" stroke="#cacf4c" stroke-width="0.5" stroke-linejoin="round"/>
<line x1="247.9" y1="193.8" x2="247.0" y2="218.5" stroke="#3a1818" stroke-width="0.8"/>
<polygon points="256.0,221.3 265.2,224.1 263.0,230.4 253.8,227.6" fill="#daad38" stroke="#daad38" stroke-width="0.5" stroke-linejoin="round"/>
<polygon points="247.5,206.2 256.6,209.0 256.3,215.2 247.2,212.4" fill="#d36e26" stroke="#d36e26" stroke-width="0.5" stroke-linejoin="round"/>
<polygon points="256.3,215.2 265.5,217.9 265.2,224.1 256.0,221.3" fill="#d98c2c" stroke="#d98c2c" stroke-width="0.5" stroke-linejoin="round"/>
<polygon points="253.8,227.6 263.0,230.4 260.7,236.8 251.6,233.9" fill="#d2bf42" stroke="#d2bf42" stroke-width="0.5" stroke-linejoin="round"/>
<line x1="256.0" y1="221.3" x2="249.4" y2="240.2" stroke="#2a3010" stroke-width="0.8"/>
<polygon points="251.6,233.9 260.7,236.8 258.5,243.1 249.4,240.2" fill="#cacf4c" stroke="#cacf4c" stroke-width="0.5" stroke-linejoin="round"/>
<polygon points="247.7,200.0 256.8,202.8 256.6,209.0 247.5,206.2" fill="#cd5222" stroke="#cd5222" stroke-width="0.5" stroke-linejoin="round"/>
<line x1="257.1" y1="196.5" x2="256.0" y2="221.3" stroke="#3a1818" stroke-width="0.8"/>
<polygon points="265.2,224.1 274.4,226.9 272.2,233.3 263.0,230.4" fill="#daad38" stroke="#daad38" stroke-width="0.5" stroke-linejoin="round"/>
<polygon points="256.6,209.0 265.7,211.8 265.5,217.9 256.3,215.2" fill="#d36e26" stroke="#d36e26" stroke-width="0.5" stroke-linejoin="round"/>
<polygon points="265.5,217.9 274.7,220.8 274.4,226.9 265.2,224.1" fill="#d98c2c" stroke="#d98c2c" stroke-width="0.5" stroke-linejoin="round"/>
<polygon points="263.0,230.4 272.2,233.3 269.9,239.7 260.7,236.8" fill="#d2bf42" stroke="#d2bf42" stroke-width="0.5" stroke-linejoin="round"/>
<line x1="265.2" y1="224.1" x2="258.5" y2="243.1" stroke="#2a3010" stroke-width="0.8"/>
<polygon points="247.9,193.8 257.1,196.5 256.8,202.8 247.7,200.0" fill="#c7341c" stroke="#c7341c" stroke-width="0.5" stroke-linejoin="round"/>
<polygon points="260.7,236.8 269.9,239.7 267.7,246.1 258.5,243.1" fill="#cacf4c" stroke="#cacf4c" stroke-width="0.5" stroke-linejoin="round"/>
<polygon points="256.8,202.8 266.0,205.5 265.7,211.8 256.6,209.0" fill="#cd5222" stroke="#cd5222" stroke-width="0.5" stroke-linejoin="round"/>
<line x1="266.3" y1="199.3" x2="265.2" y2="224.1" stroke="#3a1818" stroke-width="0.8"/>
<polygon points="274.4,226.9 283.6,229.8 281.4,236.2 272.2,233.3" fill="#daad38" stroke="#daad38" stroke-width="0.5" stroke-linejoin="round"/>
<polygon points="265.7,211.8 275.0,214.5 274.7,220.8 265.5,217.9" fill="#d36e26" stroke="#d36e26" stroke-width="0.5" stroke-linejoin="round"/>
<polygon points="274.7,220.8 284.0,223.6 283.6,229.8 274.4,226.9" fill="#d98c2c" stroke="#d98c2c" stroke-width="0.5" stroke-linejoin="round"/>
<polygon points="272.2,233.3 281.4,236.2 279.2,242.6 269.9,239.7" fill="#d2bf42" stroke="#d2bf42" stroke-width="0.5" stroke-linejoin="round"/>
<line x1="274.4" y1="226.9" x2="267.7" y2="246.1" stroke="#2a3010" stroke-width="0.8"/>
<polygon points="257.1,196.5 266.3,199.3 266.0,205.5 256.8,202.8" fill="#c7341c" stroke="#c7341c" stroke-width="0.5" stroke-linejoin="round"/>
<polygon points="269.9,239.7 279.2,242.6 277.0,249.0 267.7,246.1" fill="#cacf4c" stroke="#cacf4c" stroke-width="0.5" stroke-linejoin="round"/>
<polygon points="266.0,205.5 275.3,208.3 275.0,214.5 265.7,211.8" fill="#cd5222" stroke="#cd5222" stroke-width="0.5" stroke-linejoin="round"/>
<line x1="275.7" y1="202.0" x2="274.4" y2="226.9" stroke="#3a1818" stroke-width="0.8"/>
<polygon points="283.6,229.8 291.1,232.1 288.9,238.5 281.4,236.2" fill="#daad38" stroke="#daad38" stroke-width="0.5" stroke-linejoin="round"/>
<polygon points="275.0,214.5 284.3,217.4 284.0,223.6 274.7,220.8" fill="#d36e26" stroke="#d36e26" stroke-width="0.5" stroke-linejoin="round"/>
<polygon points="284.0,223.6 291.5,225.9 291.1,232.1 283.6,229.8" fill="#d98c2c" stroke="#d98c2c" stroke-width="0.5" stroke-linejoin="round"/>
<polygon points="281.4,236.2 288.9,238.5 286.7,244.9 279.2,242.6" fill="#d2bf42" stroke="#d2bf42" stroke-width="0.5" stroke-linejoin="round"/>
<line x1="283.6" y1="229.8" x2="277.0" y2="249.0" stroke="#2a3010" stroke-width="0.8"/>
<polygon points="279.2,242.6 286.7,244.9 284.5,251.4 277.0,249.0" fill="#cacf4c" stroke="#cacf4c" stroke-width="0.5" stroke-linejoin="round"/>
<polygon points="266.3,199.3 275.7,202.0 275.3,208.3 266.0,205.5" fill="#c7341c" stroke="#c7341c" stroke-width="0.5" stroke-linejoin="round"/>
<polygon points="275.3,208.3 284.7,211.1 284.3,217.4 275.0,214.5" fill="#cd5222" stroke="#cd5222" stroke-width="0.5" stroke-linejoin="round"/>
<line x1="285.1" y1="204.8" x2="283.6" y2="229.8" stroke="#3a1818" stroke-width="0.8"/>
<polygon points="284.3,217.4 291.9,219.6 291.5,225.9 284.0,223.6" fill="#d36e26" stroke="#d36e26" stroke-width="0.5" stroke-linejoin="round"/>
<polygon points="275.7,202.0 285.1,204.8 284.7,211.1 275.3,208.3" fill="#c7341c" stroke="#c7341c" stroke-width="0.5" stroke-linejoin="round"/>
<polygon points="284.7,211.1 292.3,213.4 291.9,219.6 284.3,217.4" fill="#cd5222" stroke="#cd5222" stroke-width="0.5" stroke-linejoin="round"/>
<polygon points="285.1,204.8 292.6,207.0 292.3,213.4 284.7,211.1" fill="#c7341c" stroke="#c7341c" stroke-width="0.5" stroke-linejoin="round"/>
<polygon points="252.1,192.8 263.7,194.5 275.7,198.4 292.6,204.2 290.4,206.7 272.2,202.2 260.2,198.2 250.4,194.4" fill="#d7d7d9" stroke="#1a1a1a" stroke-width="1.0" stroke-linejoin="round"/></g>
<g><defs><linearGradient id="gcl" gradientUnits="userSpaceOnUse" x1="0" y1="192" x2="0" y2="237"><stop offset="0" stop-color="#9fb24e"/><stop offset="0.25" stop-color="#74a062"/><stop offset="0.5" stop-color="#4f9284"/><stop offset="0.75" stop-color="#437caa"/><stop offset="1" stop-color="#4466bc"/></linearGradient><linearGradient id="gcl2" gradientUnits="userSpaceOnUse" x1="160" y1="0" x2="236" y2="0"><stop offset="0" stop-color="#7f9468" stop-opacity="0"/><stop offset="0.5" stop-color="#7f9468" stop-opacity="0.75"/><stop offset="1" stop-color="#98a458" stop-opacity="1"/></linearGradient></defs><polygon points="129.9,191.7 133.2,196.4 143.9,199.0 154.6,201.6 165.5,204.2 181.9,208.3 192.9,211.1 204.0,214.0 215.1,216.9 231.9,221.5 244.5,222.0 246.0,238.0 236.0,233.2 203.0,235.0 170.0,236.0 122.0,236.4 121.4,229.0 123.5,214.0 126.5,201.0" fill="url(#gcl)" stroke="#1c2408" stroke-width="0.8"/><polygon points="129.9,191.7 133.2,196.4 143.9,199.0 154.6,201.6 165.5,204.2 181.9,208.3 192.9,211.1 204.0,214.0 215.1,216.9 231.9,221.5 244.5,222.0 246.0,238.0 236.0,233.2 203.0,235.0 170.0,236.0 122.0,236.4 121.4,229.0 123.5,214.0 126.5,201.0" fill="url(#gcl2)"/><path d="M139.1,197.8L137.9,236M156.3,202.0L155.1,236M170.9,205.6L169.7,236M186.8,209.6L185.6,236M202.8,213.7L201.6,236M217.2,217.5L216.0,236M124.6,217.6L153.8,234.8" stroke="#1f3328" stroke-width="0.9" fill="none" stroke-opacity="0.85"/></g>
<defs><clipPath id="cpS1"><polygon points="52.3,259.0 308.4,351.0 364.4,275.0 332.3,259.8 317.6,252.2 300.5,247.5 270.0,242.5 247.0,238.4 236.0,233.2 203.0,235.0 170.0,236.0 122.0,236.4 82.3,236.0"/></clipPath></defs><polygon points="52.3,259.0 308.4,351.0 364.4,275.0 332.3,259.8 317.6,252.2 300.5,247.5 270.0,242.5 247.0,238.4 236.0,233.2 203.0,235.0 170.0,236.0 122.0,236.4 82.3,236.0" fill="#c7d650" stroke="#1c2408" stroke-width="1.3" stroke-linejoin="round"/>
<path d="M66.5,264.1L145.6,194.3M63.2,249.5L316.8,338.9M80.9,269.3L159.1,198.5M73.9,240.4L325.0,327.2M95.6,274.5L172.8,202.8M84.3,231.4L332.9,315.8M110.5,279.9L186.7,207.1M94.4,222.7L340.6,304.8M125.6,285.3L200.8,211.4M104.2,214.3L348.0,294.1M141.0,290.8L215.0,215.9M113.8,206.0L355.3,283.7M156.5,296.4L229.5,220.4M123.2,198.0L362.3,273.6M172.4,302.1L244.2,224.9M132.3,190.2L369.2,263.8M188.4,307.9L259.0,229.5M204.8,313.8L274.1,234.2M221.3,319.7L289.4,239.0M238.2,325.8L304.9,243.8M255.3,331.9L320.6,248.7M272.7,338.2L336.6,253.6M290.4,344.5L352.7,258.7" stroke="#232b0a" stroke-width="1.5" fill="none" clip-path="url(#cpS1)"/>
<polygon points="340.9,309.8 364.4,275 369.3,296 367.2,311.6 352,311.8" fill="#2e2549"/>
<text class="s" x="2.62" y="248.20" font-size="30.5" textLength="33.30" lengthAdjust="spacingAndGlyphs">60</text>
<text class="s" x="6.80" y="271.00" font-size="30.5" textLength="32.50" lengthAdjust="spacingAndGlyphs">40</text>
<text class="s" x="9.21" y="294.00" font-size="30.5" textLength="33.51" lengthAdjust="spacingAndGlyphs">20</text>
<text class="s" x="30.63" y="315.30" font-size="30.5" textLength="16.40" lengthAdjust="spacingAndGlyphs">0</text>
<text class="s" x="17.79" y="347.70" font-size="30.5" textLength="35.10" lengthAdjust="spacingAndGlyphs">−2</text>
<text class="s" x="74.95" y="371.70" font-size="30.5" textLength="36.46" lengthAdjust="spacingAndGlyphs">−1</text>
<text class="s" x="153.70" y="394.70" font-size="30.5" textLength="16.97" lengthAdjust="spacingAndGlyphs">0</text>
<text class="s" x="218.65" y="419.10" font-size="30.5" textLength="16.19" lengthAdjust="spacingAndGlyphs">1</text>
<text class="s" x="287.03" y="445.50" font-size="30.5" textLength="16.40" lengthAdjust="spacingAndGlyphs">2</text>
<text class="si" x="132.63" y="417.00" font-size="31" textLength="17.79" lengthAdjust="spacingAndGlyphs">x</text>
<text class="s" x="423.53" y="267.00" font-size="30.5" textLength="16.40" lengthAdjust="spacingAndGlyphs">2</text>
<text class="s" x="401.62" y="301.60" font-size="30.5" textLength="14.85" lengthAdjust="spacingAndGlyphs">1</text>
<text class="s" x="375.67" y="339.40" font-size="30.5" textLength="15.84" lengthAdjust="spacingAndGlyphs">0</text>
<text class="si" x="396.78" y="346.40" font-size="31" textLength="8.45" lengthAdjust="spacingAndGlyphs">t</text>
<text class="s" x="347.41" y="383.30" font-size="30.5" textLength="37.93" lengthAdjust="spacingAndGlyphs">−1</text>
<text class="s" x="316.80" y="430.00" font-size="30.5" textLength="34.78" lengthAdjust="spacingAndGlyphs">−2</text>
<defs><linearGradient id="gac" gradientUnits="userSpaceOnUse" x1="0" y1="308.3" x2="0" y2="158.2"><stop offset="0.000" stop-color="#781c86"/><stop offset="0.100" stop-color="#4a2aa5"/><stop offset="0.200" stop-color="#3f4dc5"/><stop offset="0.300" stop-color="#4580c0"/><stop offset="0.400" stop-color="#529db0"/><stop offset="0.500" stop-color="#6bb18e"/><stop offset="0.600" stop-color="#90bc65"/><stop offset="0.700" stop-color="#babc4a"/><stop offset="0.800" stop-color="#ddaa3c"/><stop offset="0.900" stop-color="#e67932"/><stop offset="1.000" stop-color="#db2122"/></linearGradient></defs>
<rect x="468.3" y="158.2" width="17.4" height="150.1" fill="url(#gac)"/>
<path d="M485.7,308.3 h3.5 M485.7,298.7 h2 M485.7,289.1 h2 M485.7,279.5 h2 M485.7,269.9 h3.5 M485.7,260.3 h2 M485.7,250.7 h2 M485.7,241.1 h2 M485.7,231.5 h3.5 M485.7,221.9 h2 M485.7,212.3 h2 M485.7,202.7 h2 M485.7,193.1 h3.5 M485.7,183.5 h2 M485.7,173.9 h2 M485.7,164.3 h2" stroke="#999" stroke-width="0.8" fill="none"/>
<text class="s" x="494.33" y="318.70" font-size="30.5" textLength="16.46" lengthAdjust="spacingAndGlyphs">0</text>
<text class="s" x="494.33" y="280.30" font-size="30.5" textLength="32.92" lengthAdjust="spacingAndGlyphs">20</text>
<text class="s" x="495.30" y="241.90" font-size="30.5" textLength="32.92" lengthAdjust="spacingAndGlyphs">40</text>
<text class="s" x="494.33" y="203.50" font-size="30.5" textLength="32.92" lengthAdjust="spacingAndGlyphs">60</text>
</g>

<!-- 20_b.svg -->
<g id="plot-b">
<defs><linearGradient id="gb" gradientUnits="userSpaceOnUse" x1="0" y1="354.6" x2="0" y2="190.425"><stop offset="0.000" stop-color="#781c86"/><stop offset="0.100" stop-color="#4a2aa5"/><stop offset="0.200" stop-color="#3f4dc5"/><stop offset="0.300" stop-color="#4580c0"/><stop offset="0.400" stop-color="#529db0"/><stop offset="0.500" stop-color="#6bb18e"/><stop offset="0.600" stop-color="#90bc65"/><stop offset="0.700" stop-color="#babc4a"/><stop offset="0.800" stop-color="#ddaa3c"/><stop offset="0.900" stop-color="#e67932"/><stop offset="1.000" stop-color="#db2122"/></linearGradient><linearGradient id="gbc" gradientUnits="userSpaceOnUse" x1="0" y1="379.4" x2="0" y2="238.3"><stop offset="0.000" stop-color="#781c86"/><stop offset="0.100" stop-color="#4a2aa5"/><stop offset="0.200" stop-color="#3f4dc5"/><stop offset="0.300" stop-color="#4580c0"/><stop offset="0.400" stop-color="#529db0"/><stop offset="0.500" stop-color="#6bb18e"/><stop offset="0.600" stop-color="#90bc65"/><stop offset="0.700" stop-color="#babc4a"/><stop offset="0.800" stop-color="#ddaa3c"/><stop offset="0.900" stop-color="#e67932"/><stop offset="1.000" stop-color="#db2122"/></linearGradient></defs>
<g stroke="#9a9a9a" stroke-width="0.8" stroke-dasharray="1 3" fill="none"><line x1="937.2" y1="179.5" x2="937.2" y2="363.0"/><line x1="1008.5" y1="179.5" x2="1008.5" y2="363.0"/><line x1="1079.8" y1="179.5" x2="1079.8" y2="363.0"/></g>
<g stroke="#8c8c8c" stroke-width="0.9" stroke-dasharray="1.2 3.2" fill="none"><line x1="859.5" y1="205.4" x2="1157.5" y2="205.4"/></g>
<g stroke="#e4e4e4" stroke-width="1.2" stroke-dasharray="2 2" fill="none"><line x1="859.5" y1="354.6" x2="1157.5" y2="354.6"/><line x1="859.5" y1="324.8" x2="1157.5" y2="324.8"/><line x1="859.5" y1="294.9" x2="1157.5" y2="294.9"/><line x1="859.5" y1="265.1" x2="1157.5" y2="265.1"/><line x1="859.5" y1="235.2" x2="1157.5" y2="235.2"/></g>
<path d="M859.5,363.0 L859.5,179.5 L1157.5,179.5 L1157.5,363.0" fill="none" stroke="#555" stroke-width="1"/>
<line x1="859.5" y1="363.0" x2="1157.5" y2="363.0" stroke="#ddd" stroke-width="0.8"/>
<path d="M865.9,363.0 v-3.2 M865.9,179.5 v3.2 M880.2,363.0 v-2 M880.2,179.5 v2 M894.4,363.0 v-2 M894.4,179.5 v2 M908.7,363.0 v-2 M908.7,179.5 v2 M922.9,363.0 v-2 M922.9,179.5 v2 M937.2,363.0 v-3.2 M937.2,179.5 v3.2 M951.5,363.0 v-2 M951.5,179.5 v2 M965.7,363.0 v-2 M965.7,179.5 v2 M980.0,363.0 v-2 M980.0,179.5 v2 M994.2,363.0 v-2 M994.2,179.5 v2 M1008.5,363.0 v-3.2 M1008.5,179.5 v3.2 M1022.8,363.0 v-2 M1022.8,179.5 v2 M1037.0,363.0 v-2 M1037.0,179.5 v2 M1051.3,363.0 v-2 M1051.3,179.5 v2 M1065.5,363.0 v-2 M1065.5,179.5 v2 M1079.8,363.0 v-3.2 M1079.8,179.5 v3.2 M1094.1,363.0 v-2 M1094.1,179.5 v2 M1108.3,363.0 v-2 M1108.3,179.5 v2 M1122.6,363.0 v-2 M1122.6,179.5 v2 M1136.8,363.0 v-2 M1136.8,179.5 v2 M1151.1,363.0 v-3.2 M1151.1,179.5 v3.2 M859.5,198.1 h3 M1157.5,198.1 h-3 M859.5,213.0 h3 M1157.5,213.0 h-3 M859.5,227.9 h3 M1157.5,227.9 h-3 M859.5,242.8 h3 M1157.5,242.8 h-3 M859.5,257.8 h3 M1157.5,257.8 h-3 M859.5,272.7 h3 M1157.5,272.7 h-3 M859.5,287.6 h3 M1157.5,287.6 h-3 M859.5,302.6 h3 M1157.5,302.6 h-3 M859.5,317.5 h3 M1157.5,317.5 h-3 M859.5,332.4 h3 M1157.5,332.4 h-3 M859.5,347.4 h3 M1157.5,347.4 h-3" stroke="#555" stroke-width="1" fill="none"/>
<path d="M864.8,347.6 L925.8,347.6 L963.7,347.4 L982.7,347.1 L994.1,345.9 L999.8,344.0 L1003.6,341.6 L1005.5,338.7 L1006.4,333.0 L1007.0,317.9 L1007.5,283.7 L1008.1,226.9 L1008.7,188.4" fill="none" stroke="url(#gb)" stroke-width="2" stroke-linejoin="round"/>
<path d="M1009.4,188.4 L1009.8,245.8 L1010.2,293.2 L1010.8,331.1 L1011.7,344.4 L1013.0,349.7 L1015.9,352.9 L1019.7,354.1 L1028.2,354.3 L1039.6,353.1 L1050.9,350.3 L1058.5,347.4 L1068.0,341.8 L1077.5,333.0 L1083.2,323.9 L1087.0,314.5 L1090.8,299.9 L1093.6,283.7 L1095.5,268.6 L1097.0,251.5 L1098.5,232.6 L1100.0,207.9 L1101.6,188.4" fill="none" stroke="url(#gb)" stroke-width="2" stroke-linejoin="round"/>
<path d="M1133.4,188.4 L1134.5,207.9 L1136.3,234.5 L1138.5,259.1 L1141.0,280.0 L1143.5,295.1 L1146.1,306.5 L1149.1,315.6 L1151.8,321.1" fill="none" stroke="url(#gb)" stroke-width="2" stroke-linejoin="round"/>
<text class="s" x="791.72" y="216.00" font-size="29.5" textLength="64.51" lengthAdjust="spacingAndGlyphs">1000</text>
<text class="s" x="806.27" y="245.50" font-size="29.5" textLength="50.60" lengthAdjust="spacingAndGlyphs">800</text>
<text class="s" x="806.27" y="275.00" font-size="29.5" textLength="50.60" lengthAdjust="spacingAndGlyphs">600</text>
<text class="s" x="807.30" y="305.00" font-size="29.5" textLength="49.54" lengthAdjust="spacingAndGlyphs">400</text>
<text class="s" x="806.27" y="335.30" font-size="29.5" textLength="50.60" lengthAdjust="spacingAndGlyphs">200</text>
<text class="s" x="841.09" y="364.80" font-size="29.5" textLength="14.89" lengthAdjust="spacingAndGlyphs">0</text>
<text class="s" x="848.22" y="394.90" font-size="30.5" textLength="34.04" lengthAdjust="spacingAndGlyphs">−2</text>
<text class="s" x="920.59" y="394.90" font-size="30.5" textLength="35.24" lengthAdjust="spacingAndGlyphs">−1</text>
<text class="s" x="1000.71" y="394.90" font-size="30.5" textLength="15.16" lengthAdjust="spacingAndGlyphs">0</text>
<text class="s" x="1072.58" y="394.90" font-size="30.5" textLength="15.59" lengthAdjust="spacingAndGlyphs">1</text>
<text class="s" x="1143.21" y="394.90" font-size="30.5" textLength="16.74" lengthAdjust="spacingAndGlyphs">2</text>
<text class="s" x="997.90" y="445.30" font-size="42" textLength="22.34" lengthAdjust="spacingAndGlyphs">x</text>
<g transform="translate(773.5,302.9) rotate(-90)"><text class="s" x="0" y="0" font-size="41">|<tspan font-style="italic">v</tspan><tspan font-size="29" dy="7.7">6</tspan><tspan dy="-7.7">|</tspan></text></g>
<rect x="1176.1" y="238.3" width="16.6" height="141.1" fill="url(#gbc)"/>
<rect x="1176.1" y="238.3" width="16.6" height="141.1" fill="none" stroke="#777" stroke-width="0.5" stroke-opacity="0.6"/>
<path d="M1192.7,379.0 h3 M1192.7,372.7 h2 M1192.7,366.3 h2 M1192.7,360.0 h2 M1192.7,353.6 h3 M1192.7,347.3 h2 M1192.7,341.0 h2 M1192.7,334.6 h2 M1192.7,328.3 h3 M1192.7,321.9 h2 M1192.7,315.6 h2 M1192.7,309.3 h2 M1192.7,302.9 h3 M1192.7,296.6 h2 M1192.7,290.2 h2 M1192.7,283.9 h2 M1192.7,277.6 h3 M1192.7,271.2 h2 M1192.7,264.9 h2 M1192.7,258.5 h2 M1192.7,252.2 h3 M1192.7,245.9 h2 M1192.7,239.5 h2" stroke="#aaa" stroke-width="0.8" fill="none"/>
<text class="s" x="1201.33" y="389.30" font-size="29" textLength="15.66" lengthAdjust="spacingAndGlyphs">0</text>
<text class="s" x="1201.33" y="363.94" font-size="29" textLength="46.94" lengthAdjust="spacingAndGlyphs">200</text>
<text class="s" x="1202.30" y="338.58" font-size="29" textLength="46.94" lengthAdjust="spacingAndGlyphs">400</text>
<text class="s" x="1201.33" y="313.22" font-size="29" textLength="46.94" lengthAdjust="spacingAndGlyphs">600</text>
<text class="s" x="1201.33" y="287.86" font-size="29" textLength="46.94" lengthAdjust="spacingAndGlyphs">800</text>
<text class="s" x="1201.33" y="262.50" font-size="29" textLength="62.58" lengthAdjust="spacingAndGlyphs">1000</text>
</g>

<!-- 30_c.svg -->
<g id="plot-c">
<defs><clipPath id="cpc"><rect x="1576.3" y="13.1" width="337.70000000000005" height="338.7"/></clipPath></defs>
<g clip-path="url(#cpc)"><rect x="1576.3" y="13.1" width="337.70000000000005" height="338.7" fill="#a9be55"/>
<polygon points="1743.8,182.4 1735.9,182.8 1728.0,183.1 1720.1,183.5 1712.1,183.9 1704.2,184.4 1696.3,184.9 1688.4,185.4 1680.5,186.0 1672.6,186.5 1664.7,187.1 1656.8,187.7 1648.9,188.4 1641.0,189.1 1633.1,189.8 1625.2,190.5 1617.3,191.2 1609.4,192.0 1601.6,192.7 1593.7,193.4 1585.8,194.2 1577.9,194.9 1570.0,195.7 1562.1,196.4 1554.2,197.2 1546.3,197.9 1546.6,208.2 1554.4,207.0 1562.3,205.8 1570.2,204.5 1578.0,203.3 1585.9,202.1 1593.7,200.8 1601.6,199.6 1609.5,198.4 1617.3,197.2 1625.2,196.0 1633.1,194.8 1641.0,193.7 1648.8,192.5 1656.7,191.4 1664.6,190.4 1672.5,189.5 1680.4,188.6 1688.3,187.7 1696.3,186.9 1704.2,186.1 1712.1,185.3 1720.0,184.5 1727.9,183.9 1735.9,183.2 1743.8,182.5" fill="#7ab98d" stroke="#7ab98d" stroke-width="0.4"/>
<polygon points="1743.8,182.5 1735.9,183.2 1727.9,183.9 1720.0,184.5 1712.1,185.3 1704.2,186.1 1696.3,186.9 1688.3,187.7 1680.4,188.6 1672.5,189.5 1664.6,190.4 1656.7,191.4 1648.8,192.5 1641.0,193.7 1633.1,194.8 1625.2,196.0 1617.3,197.2 1609.5,198.4 1601.6,199.6 1593.7,200.8 1585.9,202.1 1578.0,203.3 1570.2,204.5 1562.3,205.8 1554.4,207.0 1546.6,208.2 1546.7,216.5 1554.6,215.0 1562.5,213.5 1570.3,211.9 1578.2,210.4 1586.0,208.9 1593.9,207.3 1601.7,205.8 1609.6,204.3 1617.4,202.8 1625.3,201.3 1633.2,199.8 1641.0,198.4 1648.9,196.9 1656.8,195.5 1664.7,194.2 1672.6,193.0 1680.5,191.9 1688.4,190.8 1696.3,189.7 1704.3,188.6 1712.2,187.5 1720.1,186.3 1728.0,184.9 1735.9,183.7 1743.8,182.6" fill="#4f97b8" stroke="#4f97b8" stroke-width="0.4"/>
<polygon points="1743.8,182.6 1735.9,183.7 1728.0,184.9 1720.1,186.3 1712.2,187.5 1704.3,188.6 1696.3,189.7 1688.4,190.8 1680.5,191.9 1672.6,193.0 1664.7,194.2 1656.8,195.5 1648.9,196.9 1641.0,198.4 1633.2,199.8 1625.3,201.3 1617.4,202.8 1609.6,204.3 1601.7,205.8 1593.9,207.3 1586.0,208.9 1578.2,210.4 1570.3,211.9 1562.5,213.5 1554.6,215.0 1546.7,216.5 1547.0,224.6 1554.8,222.8 1562.7,221.0 1570.5,219.2 1578.4,217.4 1586.2,215.6 1594.0,213.8 1601.9,212.0 1609.7,210.2 1617.6,208.4 1625.5,206.7 1633.3,205.0 1641.2,203.3 1649.1,201.6 1657.0,200.0 1664.9,198.4 1672.8,196.9 1680.7,195.5 1688.6,194.1 1696.6,192.7 1704.5,191.3 1712.4,189.9 1720.3,188.1 1728.0,186.0 1735.9,184.2 1743.8,182.7" fill="#3f5dce" stroke="#3f5dce" stroke-width="0.4"/>
<polygon points="1743.8,182.7 1735.9,184.2 1728.0,186.0 1720.3,188.1 1712.4,189.9 1704.5,191.3 1696.6,192.7 1688.6,194.1 1680.7,195.5 1672.8,196.9 1664.9,198.4 1657.0,200.0 1649.1,201.6 1641.2,203.3 1633.3,205.0 1625.5,206.7 1617.6,208.4 1609.7,210.2 1601.9,212.0 1594.0,213.8 1586.2,215.6 1578.4,217.4 1570.5,219.2 1562.7,221.0 1554.8,222.8 1547.0,224.6 1547.9,256.2 1555.8,253.4 1563.7,250.7 1571.6,247.9 1579.5,245.1 1587.5,242.3 1595.4,239.5 1603.3,236.8 1611.2,234.0 1619.1,231.3 1627.1,228.6 1635.1,226.0 1643.0,223.5 1651.0,220.9 1659.0,218.3 1667.0,215.7 1674.9,213.1 1682.9,210.5 1690.9,207.8 1698.8,205.2 1706.7,202.4 1714.5,199.3 1722.0,195.6 1729.1,191.1 1736.4,187.0 1743.8,183.0" fill="#7b1e8a" stroke="#7b1e8a" stroke-width="0.4"/>
<polygon points="1743.8,183.0 1736.4,187.0 1729.1,191.1 1722.0,195.6 1714.5,199.3 1706.7,202.4 1698.8,205.2 1690.9,207.8 1682.9,210.5 1674.9,213.1 1667.0,215.7 1659.0,218.3 1651.0,220.9 1643.0,223.5 1635.1,226.0 1627.1,228.6 1619.1,231.3 1611.2,234.0 1603.3,236.8 1595.4,239.5 1587.5,242.3 1579.5,245.1 1571.6,247.9 1563.7,250.7 1555.8,253.4 1547.9,256.2 1548.3,266.3 1556.2,263.2 1564.2,260.0 1572.1,256.9 1580.1,253.8 1588.0,250.6 1595.9,247.4 1603.9,244.3 1611.8,241.2 1619.8,238.1 1627.8,235.1 1635.8,232.1 1643.8,229.2 1651.9,226.3 1659.9,223.5 1667.9,220.6 1676.0,217.9 1684.1,215.2 1692.2,212.5 1700.3,209.7 1708.3,206.7 1716.1,203.2 1723.3,198.6 1729.8,193.1 1736.8,188.2 1743.8,183.3" fill="#3f5dce" stroke="#3f5dce" stroke-width="0.4"/>
<polygon points="1743.8,183.3 1736.8,188.2 1729.8,193.1 1723.3,198.6 1716.1,203.2 1708.3,206.7 1700.3,209.7 1692.2,212.5 1684.1,215.2 1676.0,217.9 1667.9,220.6 1659.9,223.5 1651.9,226.3 1643.8,229.2 1635.8,232.1 1627.8,235.1 1619.8,238.1 1611.8,241.2 1603.9,244.3 1595.9,247.4 1588.0,250.6 1580.1,253.8 1572.1,256.9 1564.2,260.0 1556.2,263.2 1548.3,266.3 1549.0,278.3 1556.9,274.6 1564.8,271.0 1572.7,267.3 1580.6,263.6 1588.5,259.9 1596.4,256.2 1604.4,252.6 1612.3,248.9 1620.3,245.4 1628.3,241.9 1636.3,238.5 1644.3,235.2 1652.4,231.9 1660.5,228.6 1668.6,225.4 1676.8,222.4 1685.0,219.5 1693.2,216.5 1701.4,213.5 1709.5,210.2 1717.2,206.1 1724.2,200.9 1730.5,194.9 1737.2,189.3 1743.8,183.6" fill="#4f97b8" stroke="#4f97b8" stroke-width="0.4"/>
<polygon points="1743.8,183.6 1737.2,189.3 1730.5,194.9 1724.2,200.9 1717.2,206.1 1709.5,210.2 1701.4,213.5 1693.2,216.5 1685.0,219.5 1676.8,222.4 1668.6,225.4 1660.5,228.6 1652.4,231.9 1644.3,235.2 1636.3,238.5 1628.3,241.9 1620.3,245.4 1612.3,248.9 1604.4,252.6 1596.4,256.2 1588.5,259.9 1580.6,263.6 1572.7,267.3 1564.8,271.0 1556.9,274.6 1549.0,278.3 1549.4,294.0 1557.4,289.9 1565.5,285.9 1573.6,281.8 1581.6,277.8 1589.6,273.7 1597.7,269.6 1605.7,265.6 1613.8,261.5 1621.9,257.6 1630.0,253.7 1638.2,249.8 1646.3,246.0 1654.5,242.2 1662.6,238.3 1670.8,234.5 1679.0,230.7 1687.2,226.9 1695.3,223.1 1703.4,219.2 1711.4,214.9 1719.0,210.0 1725.7,204.1 1731.9,197.6 1738.0,190.9 1743.8,184.0" fill="#7ab98d" stroke="#7ab98d" stroke-width="0.4"/>
<polyline points="1743.8,182.4 1735.9,182.8 1728.0,183.1 1720.1,183.5 1712.1,183.9 1704.2,184.4 1696.3,184.9 1688.4,185.4 1680.5,186.0 1672.6,186.5 1664.7,187.1 1656.8,187.7 1648.9,188.4 1641.0,189.1 1633.1,189.8 1625.2,190.5 1617.3,191.2 1609.4,192.0 1601.6,192.7 1593.7,193.4 1585.8,194.2 1577.9,194.9 1570.0,195.7 1562.1,196.4 1554.2,197.2 1546.3,197.9" fill="none" stroke="#2a3a10" stroke-width="0.8" stroke-opacity="0.75"/>
<polyline points="1743.8,182.5 1735.9,183.2 1727.9,183.9 1720.0,184.5 1712.1,185.3 1704.2,186.1 1696.3,186.9 1688.3,187.7 1680.4,188.6 1672.5,189.5 1664.6,190.4 1656.7,191.4 1648.8,192.5 1641.0,193.7 1633.1,194.8 1625.2,196.0 1617.3,197.2 1609.5,198.4 1601.6,199.6 1593.7,200.8 1585.9,202.1 1578.0,203.3 1570.2,204.5 1562.3,205.8 1554.4,207.0 1546.6,208.2" fill="none" stroke="#2a3a10" stroke-width="0.8" stroke-opacity="0.75"/>
<polyline points="1743.8,182.6 1735.9,183.7 1728.0,184.9 1720.1,186.3 1712.2,187.5 1704.3,188.6 1696.3,189.7 1688.4,190.8 1680.5,191.9 1672.6,193.0 1664.7,194.2 1656.8,195.5 1648.9,196.9 1641.0,198.4 1633.2,199.8 1625.3,201.3 1617.4,202.8 1609.6,204.3 1601.7,205.8 1593.9,207.3 1586.0,208.9 1578.2,210.4 1570.3,211.9 1562.5,213.5 1554.6,215.0 1546.7,216.5" fill="none" stroke="#2a3a10" stroke-width="0.8" stroke-opacity="0.75"/>
<polyline points="1743.8,182.7 1735.9,184.2 1728.0,186.0 1720.3,188.1 1712.4,189.9 1704.5,191.3 1696.6,192.7 1688.6,194.1 1680.7,195.5 1672.8,196.9 1664.9,198.4 1657.0,200.0 1649.1,201.6 1641.2,203.3 1633.3,205.0 1625.5,206.7 1617.6,208.4 1609.7,210.2 1601.9,212.0 1594.0,213.8 1586.2,215.6 1578.4,217.4 1570.5,219.2 1562.7,221.0 1554.8,222.8 1547.0,224.6" fill="none" stroke="#2a3a10" stroke-width="0.8" stroke-opacity="0.75"/>
<polyline points="1743.8,183.0 1736.4,187.0 1729.1,191.1 1722.0,195.6 1714.5,199.3 1706.7,202.4 1698.8,205.2 1690.9,207.8 1682.9,210.5 1674.9,213.1 1667.0,215.7 1659.0,218.3 1651.0,220.9 1643.0,223.5 1635.1,226.0 1627.1,228.6 1619.1,231.3 1611.2,234.0 1603.3,236.8 1595.4,239.5 1587.5,242.3 1579.5,245.1 1571.6,247.9 1563.7,250.7 1555.8,253.4 1547.9,256.2" fill="none" stroke="#2a3a10" stroke-width="0.8" stroke-opacity="0.75"/>
<polyline points="1743.8,183.3 1736.8,188.2 1729.8,193.1 1723.3,198.6 1716.1,203.2 1708.3,206.7 1700.3,209.7 1692.2,212.5 1684.1,215.2 1676.0,217.9 1667.9,220.6 1659.9,223.5 1651.9,226.3 1643.8,229.2 1635.8,232.1 1627.8,235.1 1619.8,238.1 1611.8,241.2 1603.9,244.3 1595.9,247.4 1588.0,250.6 1580.1,253.8 1572.1,256.9 1564.2,260.0 1556.2,263.2 1548.3,266.3" fill="none" stroke="#2a3a10" stroke-width="0.8" stroke-opacity="0.75"/>
<polyline points="1743.8,183.6 1737.2,189.3 1730.5,194.9 1724.2,200.9 1717.2,206.1 1709.5,210.2 1701.4,213.5 1693.2,216.5 1685.0,219.5 1676.8,222.4 1668.6,225.4 1660.5,228.6 1652.4,231.9 1644.3,235.2 1636.3,238.5 1628.3,241.9 1620.3,245.4 1612.3,248.9 1604.4,252.6 1596.4,256.2 1588.5,259.9 1580.6,263.6 1572.7,267.3 1564.8,271.0 1556.9,274.6 1549.0,278.3" fill="none" stroke="#2a3a10" stroke-width="0.8" stroke-opacity="0.75"/>
<polyline points="1743.8,184.0 1738.0,190.9 1731.9,197.6 1725.7,204.1 1719.0,210.0 1711.4,214.9 1703.4,219.2 1695.3,223.1 1687.2,226.9 1679.0,230.7 1670.8,234.5 1662.6,238.3 1654.5,242.2 1646.3,246.0 1638.2,249.8 1630.0,253.7 1621.9,257.6 1613.8,261.5 1605.7,265.6 1597.7,269.6 1589.6,273.7 1581.6,277.8 1573.6,281.8 1565.5,285.9 1557.4,289.9 1549.4,294.0" fill="none" stroke="#2a3a10" stroke-width="0.8" stroke-opacity="0.75"/>
<path d="M1743.2,124.5 C1741.2,128.6 1736.7,118.2 1732.4,114.7 C1728.1,111.2 1722.2,107.6 1717.5,103.5 C1712.8,99.4 1707.4,94.8 1704.0,90.0 C1700.6,85.2 1698.3,79.5 1697.0,75.0 C1695.7,70.5 1695.6,67.1 1696.3,63.0 C1697.0,58.9 1698.7,53.9 1701.0,50.5 C1703.3,47.1 1706.5,44.3 1710.0,42.5 C1713.5,40.7 1717.9,39.8 1721.7,39.8 C1725.5,39.8 1729.6,40.9 1733.0,42.5 C1736.4,44.1 1740.1,46.9 1742.0,49.5 C1743.9,52.1 1743.8,51.2 1744.2,58.0 C1744.6,64.8 1744.7,78.9 1744.5,90.0 C1744.3,101.1 1745.2,120.4 1743.2,124.5Z" fill="#ddb13f" stroke="#2a3a10" stroke-width="0.8" stroke-opacity="0.8"/>
<path d="M1743.4,123.5 C1742.5,126.4 1740.9,116.2 1739.2,112.5 C1737.5,108.8 1735.0,105.0 1733.5,101.2 C1732.0,97.5 1730.7,93.9 1730.0,90.0 C1729.3,86.1 1729.0,81.7 1729.2,78.0 C1729.5,74.3 1730.4,70.9 1731.5,68.0 C1732.6,65.1 1734.1,62.5 1736.0,60.5 C1737.9,58.5 1741.6,55.8 1743.0,56.0 C1744.4,56.2 1744.3,55.5 1744.6,62.0 C1744.9,68.5 1744.8,84.8 1744.6,95.0 C1744.4,105.2 1744.3,120.6 1743.4,123.5Z" fill="#e8853a" stroke="#2a3a10" stroke-width="0.8" stroke-opacity="0.8"/>
<path d="M1743.8,125.5 C1743.0,127.8 1741.8,114.6 1740.7,108.7 C1739.6,102.8 1738.0,94.8 1737.4,90.0 C1736.8,85.2 1736.9,83.0 1737.2,80.0 C1737.5,77.0 1738.1,74.2 1739.0,72.0 C1739.9,69.8 1741.5,67.5 1742.5,66.5 C1743.5,65.5 1744.5,61.2 1745.0,66.0 C1745.5,70.8 1745.4,85.1 1745.2,95.0 C1745.0,104.9 1744.5,123.2 1743.8,125.5Z" fill="#e0241e" stroke="#7a1010" stroke-width="0.5" stroke-opacity="0.8"/>
<polygon points="1744.3,127.5 1741.6,108.7 1738.3,90.0 1738.1,81.0 1740.0,73.5 1744.0,68.5 1747.0,68.0 1752.0,90.0 1747.0,118.0" fill="#fff" stroke="none" stroke-width="0"/>
<path d="M1743.6,129.0 C1742.2,125.4 1738.6,127.6 1736.2,128.2 C1733.8,128.8 1730.9,130.4 1729.0,132.5 C1727.1,134.6 1725.2,138.2 1724.6,140.9 C1724.0,143.7 1724.6,146.4 1725.5,149.0 C1726.4,151.6 1728.1,154.3 1730.0,156.5 C1731.9,158.7 1734.8,160.8 1737.0,162.3 C1739.2,163.8 1742.0,167.4 1743.2,165.3 C1744.5,163.2 1744.4,156.1 1744.5,150.0 C1744.6,143.9 1745.0,132.6 1743.6,129.0Z" fill="#7ab98d" stroke="#2a3a10" stroke-width="0.8" stroke-opacity="0.8"/>
<path d="M1743.8,132.5 C1743.0,130.6 1740.6,134.8 1739.5,136.5 C1738.4,138.2 1737.7,140.2 1737.4,142.4 C1737.2,144.7 1737.5,147.6 1738.0,150.0 C1738.5,152.4 1739.6,155.1 1740.5,157.0 C1741.4,158.9 1742.6,163.0 1743.3,161.5 C1744.0,160.0 1744.4,152.8 1744.5,148.0 C1744.6,143.2 1744.6,134.4 1743.8,132.5Z" fill="#4f97b8" stroke="#2a3a10" stroke-width="0.8" stroke-opacity="0.8"/>
<path d="M1744.0,136.0 C1743.5,135.0 1742.1,139.2 1741.6,141.0 C1741.1,142.8 1741.1,144.8 1741.2,147.0 C1741.3,149.2 1741.8,152.0 1742.3,154.0 C1742.8,156.0 1743.6,160.2 1744.0,159.0 C1744.4,157.8 1744.8,150.8 1744.8,147.0 C1744.8,143.2 1744.5,137.0 1744.0,136.0Z" fill="#3f5dce" stroke="#2a3a10" stroke-width="0.5" stroke-opacity="0.8"/>
<path d="M1743.0,168.2 C1740.7,166.5 1734.2,165.7 1730.0,165.0 C1725.8,164.3 1721.7,164.0 1717.5,164.2 C1713.3,164.4 1708.3,165.2 1705.0,166.0 C1701.7,166.8 1699.1,168.0 1697.5,169.0 C1695.9,170.0 1695.3,170.9 1695.4,171.9 C1695.5,172.9 1696.2,174.1 1698.0,175.0 C1699.8,175.9 1702.8,176.9 1706.0,177.6 C1709.2,178.3 1713.5,178.9 1717.5,179.4 C1721.5,179.9 1726.1,180.2 1730.0,180.5 C1733.9,180.8 1738.7,182.1 1741.0,181.2 C1743.3,180.3 1743.7,177.2 1744.0,175.0 C1744.3,172.8 1745.3,169.9 1743.0,168.2Z" fill="#ddb13f" stroke="#2a3a10" stroke-width="0.8" stroke-opacity="0.8"/>
<path d="M1742.5,170.5 C1741.0,169.6 1737.1,170.5 1735.0,170.8 C1732.9,171.1 1731.1,171.9 1730.0,172.5 C1728.9,173.1 1728.3,173.6 1728.3,174.3 C1728.3,175.0 1728.8,175.8 1729.8,176.5 C1730.8,177.2 1732.1,177.9 1734.0,178.5 C1735.9,179.1 1739.3,180.7 1741.0,180.3 C1742.7,179.9 1743.8,177.6 1744.0,176.0 C1744.2,174.4 1744.0,171.4 1742.5,170.5Z" fill="#e8853a" stroke="#2a3a10" stroke-width="0.8" stroke-opacity="0.8"/>
<polygon points="1737.7,175.5 1740.0,172.3 1744.0,171.3 1747.5,173.0 1747.4,180.7 1742.0,180.9 1739.0,179.0" fill="#fff" stroke="#e0241e" stroke-width="1.2"/>
<path d="M1752.0,184.6 C1750.7,185.0 1759.1,185.5 1762.4,186.6 C1765.7,187.7 1768.2,189.6 1772.0,191.0 C1775.8,192.4 1780.3,194.2 1785.0,195.3 C1789.7,196.4 1795.0,197.1 1800.0,197.5 C1805.0,197.9 1810.0,197.8 1815.0,197.6 C1820.0,197.3 1825.7,196.8 1830.0,196.0 C1834.3,195.2 1838.4,193.8 1841.0,192.5 C1843.6,191.2 1845.2,189.6 1845.4,188.5 C1845.6,187.4 1844.6,186.6 1842.0,186.0 C1839.4,185.4 1837.0,185.2 1830.0,185.0 C1823.0,184.8 1810.0,184.7 1800.0,184.6 C1790.0,184.5 1778.0,184.3 1770.0,184.3 C1762.0,184.3 1753.3,184.2 1752.0,184.6Z" fill="#ddb13f" stroke="#2a3a10" stroke-width="0.8" stroke-opacity="0.8"/>
<polygon points="1756.0,184.0 1775.0,187.6 1800.0,187.8 1822.0,186.6 1830.0,185.4 1800.0,184.6" fill="#e8853a" stroke="none" stroke-width="0"/>
<polygon points="1770.0,184.8 1800.0,186.2 1822.0,185.6 1826.0,184.2" fill="#e0241e" stroke="none" stroke-width="0"/>
<path d="M1745.5,183.0 C1746.3,182.6 1748.4,183.0 1750.0,183.3 C1751.6,183.6 1754.1,184.3 1755.0,185.0 C1755.9,185.7 1756.0,186.8 1755.5,187.5 C1755.0,188.2 1753.3,188.9 1752.0,189.0 C1750.7,189.1 1748.6,188.6 1747.5,188.0 C1746.4,187.4 1745.5,186.3 1745.2,185.5 C1744.9,184.7 1744.7,183.4 1745.5,183.0Z" fill="#7ab98d" stroke="#2a3a10" stroke-width="0.6" stroke-opacity="0.8"/>
<polygon points="1731.0,13.1 1744.5,13.1 1744.5,49.0 1742.5,42.0" fill="#7ab98d" stroke="#2a3a10" stroke-width="0.7"/>
<polygon points="1737.0,13.1 1744.5,13.1 1744.5,45.0" fill="#4f97b8" stroke="#2a3a10" stroke-width="0.6"/>
<polygon points="1741.0,13.1 1744.5,13.1 1744.5,40.0" fill="#3f5dce" stroke="none" stroke-width="0"/>
<polygon points="1744.5,13.1 1744.5,68.5 1740.0,73.5 1738.1,81.0 1738.3,90.0 1741.6,108.7 1744.3,127.5 1746.0,118.3 1747.7,104.8 1750.1,91.5 1753.8,78.4 1759.1,65.9 1765.9,54.2 1773.1,42.6 1780.3,31.2 1787.7,19.7 1795.0,8.3 1802.2,-3.2 1809.5,-14.6 1816.8,-26.1 1824.1,-37.5" fill="#fff" stroke="none" stroke-width="0"/>
<polygon points="1743.2,13.1 1750.2,13.1 1747.5,40.0 1746.2,69.0 1744.2,69.0 1743.6,40.0" fill="#151530" stroke="none" stroke-width="0"/>
<polygon points="1745.0,172.5 1753.0,158.0 1762.5,144.5 1772.8,131.6 1784.9,120.2 1797.6,109.6 1811.0,100.0 1824.6,90.6 1837.6,80.5 1851.9,72.0 1866.2,63.7 1880.5,55.4 1894.8,47.1 1908.9,38.4 1922.9,29.7 1937.0,21.0 1951.1,12.3 1965.1,3.6 1969.0,84.1 1955.8,89.6 1942.6,95.1 1929.4,100.5 1916.2,106.0 1903.0,111.5 1889.8,117.0 1876.6,122.5 1863.4,127.9 1850.2,133.4 1836.9,138.8 1823.7,144.2 1810.4,149.5 1797.1,154.6 1783.8,159.9 1771.1,166.4 1758.8,173.7 1746.5,181.0" fill="#fff" stroke="none" stroke-width="0"/>
<polygon points="1744.0,172.5 1743.8,158.9 1744.1,145.4 1744.8,131.8 1746.0,118.3 1747.7,104.8 1750.1,91.5 1753.8,78.4 1759.1,65.9 1765.9,54.2 1773.1,42.6 1780.3,31.2 1787.7,19.7 1795.0,8.3 1802.2,-3.2 1809.5,-14.6 1816.8,-26.1 1824.1,-37.5 1827.0,-37.1 1819.5,-25.7 1812.1,-14.3 1804.6,-2.9 1797.2,8.5 1789.7,19.9 1782.2,31.2 1774.7,42.6 1767.5,54.2 1760.5,65.9 1755.0,78.3 1751.0,91.3 1748.4,104.6 1746.4,118.1 1745.0,131.7 1744.3,145.3 1743.9,158.9 1744.0,172.5" fill="#5a3a20" stroke="#5a3a20" stroke-width="0.4"/>
<polygon points="1744.0,172.5 1743.9,158.9 1744.3,145.3 1745.0,131.7 1746.4,118.1 1748.4,104.6 1751.0,91.3 1755.0,78.3 1760.5,65.9 1767.5,54.2 1774.7,42.6 1782.2,31.2 1789.7,19.9 1797.2,8.5 1804.6,-2.9 1812.1,-14.3 1819.5,-25.7 1827.0,-37.1 1830.4,-36.6 1822.8,-25.2 1815.1,-13.9 1807.4,-2.6 1799.8,8.7 1792.1,20.0 1784.4,31.3 1776.8,42.7 1769.3,54.1 1762.2,65.8 1756.4,78.2 1752.1,91.1 1749.2,104.5 1747.0,117.9 1745.3,131.5 1744.5,145.1 1744.0,158.8 1744.1,172.5" fill="#8a8a3a" stroke="#8a8a3a" stroke-width="0.4"/>
<polygon points="1744.1,172.5 1744.0,158.8 1744.5,145.1 1745.3,131.5 1747.0,117.9 1749.2,104.5 1752.1,91.1 1756.4,78.2 1762.2,65.8 1769.3,54.1 1776.8,42.7 1784.4,31.3 1792.1,20.0 1799.8,8.7 1807.4,-2.6 1815.1,-13.9 1822.8,-25.2 1830.4,-36.6 1835.0,-35.9 1827.1,-24.6 1819.2,-13.4 1811.2,-2.2 1803.3,9.1 1795.4,20.3 1787.4,31.5 1779.5,42.7 1771.7,54.1 1764.4,65.7 1758.3,78.0 1753.6,90.8 1750.3,104.2 1747.7,117.7 1745.8,131.3 1744.8,145.0 1744.1,158.7 1744.1,172.5" fill="#6f9a50" stroke="#6f9a50" stroke-width="0.4"/>
<polygon points="1744.1,172.5 1744.1,158.7 1744.8,145.0 1745.8,131.3 1747.7,117.7 1750.3,104.2 1753.6,90.8 1758.3,78.0 1764.4,65.7 1771.7,54.1 1779.5,42.7 1787.4,31.5 1795.4,20.3 1803.3,9.1 1811.2,-2.2 1819.2,-13.4 1827.1,-24.6 1835.0,-35.9 1839.1,-35.2 1830.9,-24.1 1822.7,-13.0 1814.5,-1.8 1806.4,9.3 1798.2,20.5 1790.0,31.6 1781.8,42.7 1773.9,54.0 1766.4,65.6 1759.9,77.8 1754.8,90.6 1751.3,104.0 1748.4,117.4 1746.1,131.1 1745.0,144.8 1744.3,158.7 1744.2,172.5" fill="#7ab98d" stroke="#7ab98d" stroke-width="0.4"/>
<polygon points="1744.2,172.5 1744.3,158.7 1745.0,144.8 1746.1,131.1 1748.4,117.4 1751.3,104.0 1754.8,90.6 1759.9,77.8 1766.4,65.6 1773.9,54.0 1781.8,42.7 1790.0,31.6 1798.2,20.5 1806.4,9.3 1814.5,-1.8 1822.7,-13.0 1830.9,-24.1 1839.1,-35.2 1844.2,-34.4 1835.8,-23.4 1827.3,-12.4 1818.8,-1.3 1810.3,9.7 1801.8,20.7 1793.3,31.7 1784.8,42.7 1776.6,54.0 1768.9,65.5 1762.1,77.6 1756.5,90.3 1752.6,103.7 1749.2,117.2 1746.6,130.8 1745.3,144.7 1744.5,158.6 1744.2,172.5" fill="#4f97b8" stroke="#4f97b8" stroke-width="0.4"/>
<polygon points="1744.2,172.5 1744.5,158.6 1745.3,144.7 1746.6,130.8 1749.2,117.2 1752.6,103.7 1756.5,90.3 1762.1,77.6 1768.9,65.5 1776.6,54.0 1784.8,42.7 1793.3,31.7 1801.8,20.7 1810.3,9.7 1818.8,-1.3 1827.3,-12.4 1835.8,-23.4 1844.2,-34.4 1852.9,-33.1 1843.9,-22.3 1834.9,-11.4 1825.9,-0.6 1816.9,10.3 1807.9,21.1 1798.9,31.9 1789.9,42.8 1781.2,53.9 1773.1,65.4 1765.6,77.3 1759.2,89.8 1754.6,103.2 1750.6,116.7 1747.3,130.4 1745.8,144.4 1744.7,158.4 1744.3,172.5" fill="#3f5dce" stroke="#3f5dce" stroke-width="0.4"/>
<polygon points="1744.3,172.5 1744.7,158.4 1745.8,144.4 1747.3,130.4 1750.6,116.7 1754.6,103.2 1759.2,89.8 1765.6,77.3 1773.1,65.4 1781.2,53.9 1789.9,42.8 1798.9,31.9 1807.9,21.1 1816.9,10.3 1825.9,-0.6 1834.9,-11.4 1843.9,-22.3 1852.9,-33.1 1935.5,-23.0 1922.3,-13.1 1909.1,-3.1 1896.0,6.8 1882.8,16.7 1869.6,26.6 1856.4,36.6 1843.2,46.5 1830.1,56.6 1817.2,66.8 1804.5,77.4 1792.3,88.5 1780.8,100.4 1769.9,112.7 1759.6,125.6 1752.8,140.6 1747.7,156.3 1744.6,172.5" fill="#7b1e8a" stroke="#7b1e8a" stroke-width="0.4"/>
<polygon points="1744.6,172.5 1747.7,156.3 1752.8,140.6 1759.6,125.6 1769.9,112.7 1780.8,100.4 1792.3,88.5 1804.5,77.4 1817.2,66.8 1830.1,56.6 1843.2,46.5 1856.4,36.6 1869.6,26.6 1882.8,16.7 1896.0,6.8 1909.1,-3.1 1922.3,-13.1 1935.5,-23.0 1953.2,-23.5 1939.5,-13.0 1925.9,-2.5 1912.3,8.0 1898.7,18.5 1885.2,29.1 1871.6,39.6 1857.7,49.7 1843.0,58.7 1828.3,67.4 1814.3,77.5 1801.3,88.7 1788.7,100.3 1776.5,112.4 1765.1,125.3 1756.8,140.3 1750.2,156.2 1744.8,172.5" fill="#3f5dce" stroke="#3f5dce" stroke-width="0.4"/>
<polygon points="1744.8,172.5 1750.2,156.2 1756.8,140.3 1765.1,125.3 1776.5,112.4 1788.7,100.3 1801.3,88.7 1814.3,77.5 1828.3,67.4 1843.0,58.7 1857.7,49.7 1871.6,39.6 1885.2,29.1 1898.7,18.5 1912.3,8.0 1925.9,-2.5 1939.5,-13.0 1953.2,-23.5 1956.8,-15.4 1943.0,-5.4 1929.2,4.5 1915.5,14.5 1901.7,24.4 1888.1,34.5 1874.3,44.4 1860.2,53.9 1845.7,62.7 1831.1,71.4 1817.4,81.4 1804.2,92.1 1791.3,103.1 1779.0,114.8 1767.4,127.2 1758.5,141.6 1751.0,156.7 1744.9,172.5" fill="#4f97b8" stroke="#4f97b8" stroke-width="0.4"/>
<polygon points="1744.9,172.5 1751.0,156.7 1758.5,141.6 1767.4,127.2 1779.0,114.8 1791.3,103.1 1804.2,92.1 1817.4,81.4 1831.1,71.4 1845.7,62.7 1860.2,53.9 1874.3,44.4 1888.1,34.5 1901.7,24.4 1915.5,14.5 1929.2,4.5 1943.0,-5.4 1956.8,-15.4 1958.6,-11.3 1944.7,-1.6 1930.9,8.0 1917.1,17.7 1903.3,27.4 1889.5,37.2 1875.6,46.7 1861.5,56.0 1847.0,64.7 1832.5,73.3 1819.0,83.4 1805.7,93.8 1792.7,104.5 1780.2,115.9 1768.6,128.1 1759.4,142.2 1751.4,157.0 1744.9,172.5" fill="#7ab98d" stroke="#7ab98d" stroke-width="0.4"/>
<polygon points="1744.9,172.5 1751.4,157.0 1759.4,142.2 1768.6,128.1 1780.2,115.9 1792.7,104.5 1805.7,93.8 1819.0,83.4 1832.5,73.3 1847.0,64.7 1861.5,56.0 1875.6,46.7 1889.5,37.2 1903.3,27.4 1917.1,17.7 1930.9,8.0 1944.7,-1.6 1958.6,-11.3 1960.3,-7.3 1946.5,2.2 1932.6,11.6 1918.7,21.0 1904.8,30.4 1890.9,39.9 1876.9,49.1 1862.8,58.1 1848.3,66.7 1833.9,75.3 1820.5,85.3 1807.1,95.5 1794.0,105.9 1781.5,117.1 1769.7,129.1 1760.2,142.8 1751.9,157.3 1744.9,172.5" fill="#a9be55" stroke="#a9be55" stroke-width="0.4"/>
<polygon points="1744.9,172.5 1751.9,157.3 1760.2,142.8 1769.7,129.1 1781.5,117.1 1794.0,105.9 1807.1,95.5 1820.5,85.3 1833.9,75.3 1848.3,66.7 1862.8,58.1 1876.9,49.1 1890.9,39.9 1904.8,30.4 1918.7,21.0 1932.6,11.6 1946.5,2.2 1960.3,-7.3 1962.0,-3.5 1948.1,5.7 1934.1,14.8 1920.2,24.0 1906.2,33.2 1892.3,42.4 1878.2,51.3 1864.0,60.0 1849.6,68.5 1835.2,77.1 1821.9,87.2 1808.5,97.1 1795.2,107.2 1782.7,118.2 1770.8,129.9 1761.0,143.4 1752.3,157.5 1744.9,172.5" fill="#ddb13f" stroke="#ddb13f" stroke-width="0.4"/>
<polygon points="1744.9,172.5 1752.3,157.5 1761.0,143.4 1770.8,129.9 1782.7,118.2 1795.2,107.2 1808.5,97.1 1821.9,87.2 1835.2,77.1 1849.6,68.5 1864.0,60.0 1878.2,51.3 1892.3,42.4 1906.2,33.2 1920.2,24.0 1934.1,14.8 1948.1,5.7 1962.0,-3.5 1963.6,0.0 1949.6,9.0 1935.5,17.9 1921.5,26.8 1907.5,35.8 1893.5,44.7 1879.3,53.3 1865.1,61.9 1850.7,70.3 1836.4,78.8 1823.3,88.9 1809.8,98.6 1796.4,108.4 1783.8,119.2 1771.8,130.8 1761.8,143.9 1752.6,157.8 1745.0,172.5" fill="#e8853a" stroke="#e8853a" stroke-width="0.4"/>
<polygon points="1745.0,172.5 1752.6,157.8 1761.8,143.9 1771.8,130.8 1783.8,119.2 1796.4,108.4 1809.8,98.6 1823.3,88.9 1836.4,78.8 1850.7,70.3 1865.1,61.9 1879.3,53.3 1893.5,44.7 1907.5,35.8 1921.5,26.8 1935.5,17.9 1949.6,9.0 1963.6,0.0 1965.1,3.6 1951.1,12.3 1937.0,21.0 1922.9,29.7 1908.9,38.4 1894.8,47.1 1880.5,55.4 1866.2,63.7 1851.9,72.0 1837.6,80.5 1824.6,90.6 1811.0,100.0 1797.6,109.6 1784.9,120.2 1772.8,131.6 1762.5,144.5 1753.0,158.0 1745.0,172.5" fill="#c8401e" stroke="#c8401e" stroke-width="0.4"/>
<polyline points="1744.0,172.5 1743.8,158.9 1744.1,145.4 1744.8,131.8 1746.0,118.3 1747.7,104.8 1750.1,91.5 1753.8,78.4 1759.1,65.9 1765.9,54.2 1773.1,42.6 1780.3,31.2 1787.7,19.7 1795.0,8.3 1802.2,-3.2 1809.5,-14.6 1816.8,-26.1 1824.1,-37.5" fill="none" stroke="#2a3a10" stroke-width="0.6" stroke-opacity="0.75"/>
<polyline points="1744.0,172.5 1743.9,158.9 1744.3,145.3 1745.0,131.7 1746.4,118.1 1748.4,104.6 1751.0,91.3 1755.0,78.3 1760.5,65.9 1767.5,54.2 1774.7,42.6 1782.2,31.2 1789.7,19.9 1797.2,8.5 1804.6,-2.9 1812.1,-14.3 1819.5,-25.7 1827.0,-37.1" fill="none" stroke="#2a3a10" stroke-width="0.6" stroke-opacity="0.75"/>
<polyline points="1744.0,172.5 1743.9,158.9 1744.3,145.3 1745.0,131.7 1746.4,118.1 1748.4,104.6 1751.0,91.3 1755.0,78.3 1760.5,65.9 1767.5,54.2 1774.7,42.6 1782.2,31.2 1789.7,19.9 1797.2,8.5 1804.6,-2.9 1812.1,-14.3 1819.5,-25.7 1827.0,-37.1" fill="none" stroke="#2a3a10" stroke-width="0.6" stroke-opacity="0.75"/>
<polyline points="1744.1,172.5 1744.0,158.8 1744.5,145.1 1745.3,131.5 1747.0,117.9 1749.2,104.5 1752.1,91.1 1756.4,78.2 1762.2,65.8 1769.3,54.1 1776.8,42.7 1784.4,31.3 1792.1,20.0 1799.8,8.7 1807.4,-2.6 1815.1,-13.9 1822.8,-25.2 1830.4,-36.6" fill="none" stroke="#2a3a10" stroke-width="0.6" stroke-opacity="0.75"/>
<polyline points="1744.1,172.5 1744.0,158.8 1744.5,145.1 1745.3,131.5 1747.0,117.9 1749.2,104.5 1752.1,91.1 1756.4,78.2 1762.2,65.8 1769.3,54.1 1776.8,42.7 1784.4,31.3 1792.1,20.0 1799.8,8.7 1807.4,-2.6 1815.1,-13.9 1822.8,-25.2 1830.4,-36.6" fill="none" stroke="#2a3a10" stroke-width="0.6" stroke-opacity="0.75"/>
<polyline points="1744.1,172.5 1744.1,158.7 1744.8,145.0 1745.8,131.3 1747.7,117.7 1750.3,104.2 1753.6,90.8 1758.3,78.0 1764.4,65.7 1771.7,54.1 1779.5,42.7 1787.4,31.5 1795.4,20.3 1803.3,9.1 1811.2,-2.2 1819.2,-13.4 1827.1,-24.6 1835.0,-35.9" fill="none" stroke="#2a3a10" stroke-width="0.6" stroke-opacity="0.75"/>
<polyline points="1744.1,172.5 1744.1,158.7 1744.8,145.0 1745.8,131.3 1747.7,117.7 1750.3,104.2 1753.6,90.8 1758.3,78.0 1764.4,65.7 1771.7,54.1 1779.5,42.7 1787.4,31.5 1795.4,20.3 1803.3,9.1 1811.2,-2.2 1819.2,-13.4 1827.1,-24.6 1835.0,-35.9" fill="none" stroke="#2a3a10" stroke-width="0.6" stroke-opacity="0.75"/>
<polyline points="1744.2,172.5 1744.3,158.7 1745.0,144.8 1746.1,131.1 1748.4,117.4 1751.3,104.0 1754.8,90.6 1759.9,77.8 1766.4,65.6 1773.9,54.0 1781.8,42.7 1790.0,31.6 1798.2,20.5 1806.4,9.3 1814.5,-1.8 1822.7,-13.0 1830.9,-24.1 1839.1,-35.2" fill="none" stroke="#2a3a10" stroke-width="0.6" stroke-opacity="0.75"/>
<polyline points="1744.2,172.5 1744.3,158.7 1745.0,144.8 1746.1,131.1 1748.4,117.4 1751.3,104.0 1754.8,90.6 1759.9,77.8 1766.4,65.6 1773.9,54.0 1781.8,42.7 1790.0,31.6 1798.2,20.5 1806.4,9.3 1814.5,-1.8 1822.7,-13.0 1830.9,-24.1 1839.1,-35.2" fill="none" stroke="#2a3a10" stroke-width="0.6" stroke-opacity="0.75"/>
<polyline points="1744.2,172.5 1744.5,158.6 1745.3,144.7 1746.6,130.8 1749.2,117.2 1752.6,103.7 1756.5,90.3 1762.1,77.6 1768.9,65.5 1776.6,54.0 1784.8,42.7 1793.3,31.7 1801.8,20.7 1810.3,9.7 1818.8,-1.3 1827.3,-12.4 1835.8,-23.4 1844.2,-34.4" fill="none" stroke="#2a3a10" stroke-width="0.6" stroke-opacity="0.75"/>
<polyline points="1744.2,172.5 1744.5,158.6 1745.3,144.7 1746.6,130.8 1749.2,117.2 1752.6,103.7 1756.5,90.3 1762.1,77.6 1768.9,65.5 1776.6,54.0 1784.8,42.7 1793.3,31.7 1801.8,20.7 1810.3,9.7 1818.8,-1.3 1827.3,-12.4 1835.8,-23.4 1844.2,-34.4" fill="none" stroke="#2a3a10" stroke-width="0.6" stroke-opacity="0.75"/>
<polyline points="1744.3,172.5 1744.7,158.4 1745.8,144.4 1747.3,130.4 1750.6,116.7 1754.6,103.2 1759.2,89.8 1765.6,77.3 1773.1,65.4 1781.2,53.9 1789.9,42.8 1798.9,31.9 1807.9,21.1 1816.9,10.3 1825.9,-0.6 1834.9,-11.4 1843.9,-22.3 1852.9,-33.1" fill="none" stroke="#2a3a10" stroke-width="0.6" stroke-opacity="0.75"/>
<polyline points="1744.3,172.5 1744.7,158.4 1745.8,144.4 1747.3,130.4 1750.6,116.7 1754.6,103.2 1759.2,89.8 1765.6,77.3 1773.1,65.4 1781.2,53.9 1789.9,42.8 1798.9,31.9 1807.9,21.1 1816.9,10.3 1825.9,-0.6 1834.9,-11.4 1843.9,-22.3 1852.9,-33.1" fill="none" stroke="#2a3a10" stroke-width="0.6" stroke-opacity="0.75"/>
<polyline points="1744.6,172.5 1747.7,156.3 1752.8,140.6 1759.6,125.6 1769.9,112.7 1780.8,100.4 1792.3,88.5 1804.5,77.4 1817.2,66.8 1830.1,56.6 1843.2,46.5 1856.4,36.6 1869.6,26.6 1882.8,16.7 1896.0,6.8 1909.1,-3.1 1922.3,-13.1 1935.5,-23.0" fill="none" stroke="#2a3a10" stroke-width="0.6" stroke-opacity="0.75"/>
<polyline points="1744.6,172.5 1747.7,156.3 1752.8,140.6 1759.6,125.6 1769.9,112.7 1780.8,100.4 1792.3,88.5 1804.5,77.4 1817.2,66.8 1830.1,56.6 1843.2,46.5 1856.4,36.6 1869.6,26.6 1882.8,16.7 1896.0,6.8 1909.1,-3.1 1922.3,-13.1 1935.5,-23.0" fill="none" stroke="#2a3a10" stroke-width="0.6" stroke-opacity="0.75"/>
<polyline points="1744.8,172.5 1750.2,156.2 1756.8,140.3 1765.1,125.3 1776.5,112.4 1788.7,100.3 1801.3,88.7 1814.3,77.5 1828.3,67.4 1843.0,58.7 1857.7,49.7 1871.6,39.6 1885.2,29.1 1898.7,18.5 1912.3,8.0 1925.9,-2.5 1939.5,-13.0 1953.2,-23.5" fill="none" stroke="#2a3a10" stroke-width="0.6" stroke-opacity="0.75"/>
<polyline points="1744.8,172.5 1750.2,156.2 1756.8,140.3 1765.1,125.3 1776.5,112.4 1788.7,100.3 1801.3,88.7 1814.3,77.5 1828.3,67.4 1843.0,58.7 1857.7,49.7 1871.6,39.6 1885.2,29.1 1898.7,18.5 1912.3,8.0 1925.9,-2.5 1939.5,-13.0 1953.2,-23.5" fill="none" stroke="#2a3a10" stroke-width="0.6" stroke-opacity="0.75"/>
<polyline points="1744.9,172.5 1751.0,156.7 1758.5,141.6 1767.4,127.2 1779.0,114.8 1791.3,103.1 1804.2,92.1 1817.4,81.4 1831.1,71.4 1845.7,62.7 1860.2,53.9 1874.3,44.4 1888.1,34.5 1901.7,24.4 1915.5,14.5 1929.2,4.5 1943.0,-5.4 1956.8,-15.4" fill="none" stroke="#2a3a10" stroke-width="0.6" stroke-opacity="0.75"/>
<polyline points="1744.9,172.5 1751.0,156.7 1758.5,141.6 1767.4,127.2 1779.0,114.8 1791.3,103.1 1804.2,92.1 1817.4,81.4 1831.1,71.4 1845.7,62.7 1860.2,53.9 1874.3,44.4 1888.1,34.5 1901.7,24.4 1915.5,14.5 1929.2,4.5 1943.0,-5.4 1956.8,-15.4" fill="none" stroke="#2a3a10" stroke-width="0.6" stroke-opacity="0.75"/>
<polyline points="1744.9,172.5 1751.4,157.0 1759.4,142.2 1768.6,128.1 1780.2,115.9 1792.7,104.5 1805.7,93.8 1819.0,83.4 1832.5,73.3 1847.0,64.7 1861.5,56.0 1875.6,46.7 1889.5,37.2 1903.3,27.4 1917.1,17.7 1930.9,8.0 1944.7,-1.6 1958.6,-11.3" fill="none" stroke="#2a3a10" stroke-width="0.6" stroke-opacity="0.75"/>
<polyline points="1744.9,172.5 1751.4,157.0 1759.4,142.2 1768.6,128.1 1780.2,115.9 1792.7,104.5 1805.7,93.8 1819.0,83.4 1832.5,73.3 1847.0,64.7 1861.5,56.0 1875.6,46.7 1889.5,37.2 1903.3,27.4 1917.1,17.7 1930.9,8.0 1944.7,-1.6 1958.6,-11.3" fill="none" stroke="#2a3a10" stroke-width="0.6" stroke-opacity="0.75"/>
<polyline points="1744.9,172.5 1751.9,157.3 1760.2,142.8 1769.7,129.1 1781.5,117.1 1794.0,105.9 1807.1,95.5 1820.5,85.3 1833.9,75.3 1848.3,66.7 1862.8,58.1 1876.9,49.1 1890.9,39.9 1904.8,30.4 1918.7,21.0 1932.6,11.6 1946.5,2.2 1960.3,-7.3" fill="none" stroke="#2a3a10" stroke-width="0.6" stroke-opacity="0.75"/>
<polyline points="1744.9,172.5 1751.9,157.3 1760.2,142.8 1769.7,129.1 1781.5,117.1 1794.0,105.9 1807.1,95.5 1820.5,85.3 1833.9,75.3 1848.3,66.7 1862.8,58.1 1876.9,49.1 1890.9,39.9 1904.8,30.4 1918.7,21.0 1932.6,11.6 1946.5,2.2 1960.3,-7.3" fill="none" stroke="#2a3a10" stroke-width="0.6" stroke-opacity="0.75"/>
<polyline points="1744.9,172.5 1752.3,157.5 1761.0,143.4 1770.8,129.9 1782.7,118.2 1795.2,107.2 1808.5,97.1 1821.9,87.2 1835.2,77.1 1849.6,68.5 1864.0,60.0 1878.2,51.3 1892.3,42.4 1906.2,33.2 1920.2,24.0 1934.1,14.8 1948.1,5.7 1962.0,-3.5" fill="none" stroke="#2a3a10" stroke-width="0.6" stroke-opacity="0.75"/>
<polyline points="1744.9,172.5 1752.3,157.5 1761.0,143.4 1770.8,129.9 1782.7,118.2 1795.2,107.2 1808.5,97.1 1821.9,87.2 1835.2,77.1 1849.6,68.5 1864.0,60.0 1878.2,51.3 1892.3,42.4 1906.2,33.2 1920.2,24.0 1934.1,14.8 1948.1,5.7 1962.0,-3.5" fill="none" stroke="#2a3a10" stroke-width="0.6" stroke-opacity="0.75"/>
<polyline points="1745.0,172.5 1752.6,157.8 1761.8,143.9 1771.8,130.8 1783.8,119.2 1796.4,108.4 1809.8,98.6 1823.3,88.9 1836.4,78.8 1850.7,70.3 1865.1,61.9 1879.3,53.3 1893.5,44.7 1907.5,35.8 1921.5,26.8 1935.5,17.9 1949.6,9.0 1963.6,0.0" fill="none" stroke="#2a3a10" stroke-width="0.6" stroke-opacity="0.75"/>
<polyline points="1745.0,172.5 1752.6,157.8 1761.8,143.9 1771.8,130.8 1783.8,119.2 1796.4,108.4 1809.8,98.6 1823.3,88.9 1836.4,78.8 1850.7,70.3 1865.1,61.9 1879.3,53.3 1893.5,44.7 1907.5,35.8 1921.5,26.8 1935.5,17.9 1949.6,9.0 1963.6,0.0" fill="none" stroke="#2a3a10" stroke-width="0.6" stroke-opacity="0.75"/>
<polyline points="1745.0,172.5 1753.0,158.0 1762.5,144.5 1772.8,131.6 1784.9,120.2 1797.6,109.6 1811.0,100.0 1824.6,90.6 1837.6,80.5 1851.9,72.0 1866.2,63.7 1880.5,55.4 1894.8,47.1 1908.9,38.4 1922.9,29.7 1937.0,21.0 1951.1,12.3 1965.1,3.6" fill="none" stroke="#2a3a10" stroke-width="0.6" stroke-opacity="0.75"/>
<polyline points="1744.0,172.5 1743.8,158.9 1744.1,145.4 1744.8,131.8 1746.0,118.3 1747.7,104.8 1750.1,91.5 1753.8,78.4 1759.1,65.9 1765.9,54.2 1773.1,42.6 1780.3,31.2 1787.7,19.7 1795.0,8.3 1802.2,-3.2 1809.5,-14.6 1816.8,-26.1 1824.1,-37.5" fill="none" stroke="#1a1a1a" stroke-width="1.3" stroke-opacity="0.9"/>
<polyline points="1745.0,172.5 1753.0,158.0 1762.5,144.5 1772.8,131.6 1784.9,120.2 1797.6,109.6 1811.0,100.0 1824.6,90.6 1837.6,80.5 1851.9,72.0 1866.2,63.7 1880.5,55.4 1894.8,47.1 1908.9,38.4 1922.9,29.7 1937.0,21.0 1951.1,12.3 1965.1,3.6" fill="none" stroke="#5a1a10" stroke-width="0.9" stroke-opacity="0.8"/>
<polygon points="1746.5,181.0 1758.8,173.7 1771.1,166.4 1783.8,159.9 1797.1,154.6 1810.4,149.5 1823.7,144.2 1836.9,138.8 1850.2,133.4 1863.4,127.9 1876.6,122.5 1889.8,117.0 1903.0,111.5 1916.2,106.0 1929.4,100.5 1942.6,95.1 1955.8,89.6 1969.0,84.1 1969.3,87.2 1956.1,92.5 1942.9,97.8 1929.6,103.0 1916.4,108.3 1903.2,113.6 1890.0,118.9 1876.8,124.2 1863.5,129.4 1850.3,134.6 1837.0,139.8 1823.8,145.0 1810.5,150.2 1797.2,155.4 1784.0,160.5 1771.2,166.8 1758.9,173.9 1746.5,181.0" fill="#a04a1e" stroke="#a04a1e" stroke-width="0.4"/>
<polygon points="1746.5,181.0 1758.9,173.9 1771.2,166.8 1784.0,160.5 1797.2,155.4 1810.5,150.2 1823.8,145.0 1837.0,139.8 1850.3,134.6 1863.5,129.4 1876.8,124.2 1890.0,118.9 1903.2,113.6 1916.4,108.3 1929.6,103.0 1942.9,97.8 1956.1,92.5 1969.3,87.2 1969.6,90.3 1956.3,95.4 1943.1,100.5 1929.9,105.5 1916.6,110.6 1903.4,115.7 1890.2,120.8 1876.9,125.9 1863.7,130.9 1850.4,135.9 1837.1,140.8 1823.9,145.8 1810.7,151.0 1797.4,156.1 1784.2,161.2 1771.4,167.3 1759.0,174.1 1746.6,181.1" fill="#8a7a2a" stroke="#8a7a2a" stroke-width="0.4"/>
<polygon points="1746.6,181.1 1759.0,174.1 1771.4,167.3 1784.2,161.2 1797.4,156.1 1810.7,151.0 1823.9,145.8 1837.1,140.8 1850.4,135.9 1863.7,130.9 1876.9,125.9 1890.2,120.8 1903.4,115.7 1916.6,110.6 1929.9,105.5 1943.1,100.5 1956.3,95.4 1969.6,90.3 1969.8,93.4 1956.6,98.3 1943.3,103.1 1930.1,108.0 1916.8,112.9 1903.6,117.8 1890.3,122.7 1877.1,127.6 1863.8,132.4 1850.5,137.1 1837.2,141.8 1823.9,146.7 1810.8,151.8 1797.5,156.8 1784.3,161.8 1771.5,167.7 1759.0,174.4 1746.6,181.1" fill="#6f9040" stroke="#6f9040" stroke-width="0.4"/>
<polygon points="1746.6,181.1 1759.0,174.4 1771.5,167.7 1784.3,161.8 1797.5,156.8 1810.8,151.8 1823.9,146.7 1837.2,141.8 1850.5,137.1 1863.8,132.4 1877.1,127.6 1890.3,122.7 1903.6,117.8 1916.8,112.9 1930.1,108.0 1943.3,103.1 1956.6,98.3 1969.8,93.4 1970.1,96.0 1956.8,100.7 1943.6,105.5 1930.3,110.2 1917.0,114.9 1903.8,119.6 1890.5,124.4 1877.2,129.1 1863.9,133.7 1850.6,138.2 1837.3,142.7 1824.0,147.4 1810.9,152.5 1797.7,157.4 1784.5,162.4 1771.6,168.1 1759.1,174.5 1746.7,181.1" fill="#7ab98d" stroke="#7ab98d" stroke-width="0.4"/>
<polygon points="1746.7,181.1 1759.1,174.5 1771.6,168.1 1784.5,162.4 1797.7,157.4 1810.9,152.5 1824.0,147.4 1837.3,142.7 1850.6,138.2 1863.9,133.7 1877.2,129.1 1890.5,124.4 1903.8,119.6 1917.0,114.9 1930.3,110.2 1943.6,105.5 1956.8,100.7 1970.1,96.0 1970.4,99.1 1957.1,103.6 1943.8,108.2 1930.5,112.7 1917.2,117.2 1904.0,121.7 1890.7,126.3 1877.4,130.8 1864.1,135.2 1850.7,139.4 1837.4,143.7 1824.1,148.2 1811.0,153.3 1797.8,158.2 1784.7,163.0 1771.8,168.6 1759.2,174.8 1746.7,181.1" fill="#4f97b8" stroke="#4f97b8" stroke-width="0.4"/>
<polygon points="1746.7,181.1 1759.2,174.8 1771.8,168.6 1784.7,163.0 1797.8,158.2 1811.0,153.3 1824.1,148.2 1837.4,143.7 1850.7,139.4 1864.1,135.2 1877.4,130.8 1890.7,126.3 1904.0,121.7 1917.2,117.2 1930.5,112.7 1943.8,108.2 1957.1,103.6 1970.4,99.1 1971.0,106.2 1957.7,110.3 1944.4,114.3 1931.0,118.4 1917.7,122.4 1904.4,126.5 1891.1,130.6 1877.8,134.7 1864.4,138.6 1851.0,142.3 1837.6,146.0 1824.3,150.1 1811.3,155.1 1798.2,159.8 1785.1,164.5 1772.1,169.6 1759.4,175.3 1746.8,181.2" fill="#3f5dce" stroke="#3f5dce" stroke-width="0.4"/>
<polygon points="1746.8,181.2 1759.4,175.3 1772.1,169.6 1785.1,164.5 1798.2,159.8 1811.3,155.1 1824.3,150.1 1837.6,146.0 1851.0,142.3 1864.4,138.6 1877.8,134.7 1891.1,130.6 1904.4,126.5 1917.7,122.4 1931.0,118.4 1944.4,114.3 1957.7,110.3 1971.0,106.2 1972.3,137.7 1959.1,140.5 1945.9,143.3 1932.7,146.1 1919.5,148.9 1906.3,151.8 1893.1,154.6 1879.9,157.4 1866.7,160.2 1853.5,163.1 1840.3,166.0 1827.1,168.7 1813.8,170.6 1800.4,172.6 1787.1,174.7 1773.8,176.8 1760.5,179.1 1747.2,181.6" fill="#7b1e8a" stroke="#7b1e8a" stroke-width="0.4"/>
<polygon points="1747.2,181.6 1760.5,179.1 1773.8,176.8 1787.1,174.7 1800.4,172.6 1813.8,170.6 1827.1,168.7 1840.3,166.0 1853.5,163.1 1866.7,160.2 1879.9,157.4 1893.1,154.6 1906.3,151.8 1919.5,148.9 1932.7,146.1 1945.9,143.3 1959.1,140.5 1972.3,137.7 1972.6,144.8 1959.4,147.2 1946.2,149.6 1932.9,152.0 1919.7,154.5 1906.5,156.9 1893.3,159.3 1880.1,161.7 1866.9,164.2 1853.7,166.6 1840.5,169.1 1827.2,171.4 1813.9,173.2 1800.6,175.0 1787.3,176.8 1774.0,178.6 1760.6,180.2 1747.3,181.8" fill="#3f5dce" stroke="#3f5dce" stroke-width="0.4"/>
<polygon points="1747.3,181.8 1760.6,180.2 1774.0,178.6 1787.3,176.8 1800.6,175.0 1813.9,173.2 1827.2,171.4 1840.5,169.1 1853.7,166.6 1866.9,164.2 1880.1,161.7 1893.3,159.3 1906.5,156.9 1919.7,154.5 1932.9,152.0 1946.2,149.6 1959.4,147.2 1972.6,144.8 1972.7,148.1 1959.5,150.4 1946.3,152.6 1933.1,154.9 1919.8,157.1 1906.6,159.3 1893.4,161.6 1880.2,163.8 1866.9,166.0 1853.7,168.3 1840.5,170.6 1827.3,172.7 1814.0,174.4 1800.7,176.1 1787.4,177.9 1774.0,179.5 1760.7,180.8 1747.4,181.8" fill="#4f97b8" stroke="#4f97b8" stroke-width="0.4"/>
<polygon points="1747.4,181.8 1760.7,180.8 1774.0,179.5 1787.4,177.9 1800.7,176.1 1814.0,174.4 1827.3,172.7 1840.5,170.6 1853.7,168.3 1866.9,166.0 1880.2,163.8 1893.4,161.6 1906.6,159.3 1919.8,157.1 1933.1,154.9 1946.3,152.6 1959.5,150.4 1972.7,148.1 1972.8,150.5 1959.6,152.6 1946.4,154.7 1933.1,156.8 1919.9,158.9 1906.7,161.0 1893.5,163.1 1880.2,165.2 1867.0,167.4 1853.8,169.5 1840.6,171.6 1827.3,173.7 1814.0,175.3 1800.7,176.9 1787.4,178.6 1774.1,180.0 1760.8,181.1 1747.4,181.9" fill="#7ab98d" stroke="#7ab98d" stroke-width="0.4"/>
<polygon points="1747.4,181.9 1760.8,181.1 1774.1,180.0 1787.4,178.6 1800.7,176.9 1814.0,175.3 1827.3,173.7 1840.6,171.6 1853.8,169.5 1867.0,167.4 1880.2,165.2 1893.5,163.1 1906.7,161.0 1919.9,158.9 1933.1,156.8 1946.4,154.7 1959.6,152.6 1972.8,150.5 1972.9,152.5 1959.7,154.5 1946.4,156.5 1933.2,158.5 1920.0,160.5 1906.8,162.5 1893.5,164.5 1880.3,166.5 1867.1,168.5 1853.8,170.5 1840.6,172.5 1827.3,174.4 1814.1,176.0 1800.8,177.6 1787.5,179.2 1774.2,180.6 1760.8,181.4 1747.5,182.0" fill="#7f9a40" stroke="#7f9a40" stroke-width="0.4"/>
<polygon points="1747.5,182.0 1760.8,181.4 1774.2,180.6 1787.5,179.2 1800.8,177.6 1814.1,176.0 1827.3,174.4 1840.6,172.5 1853.8,170.5 1867.1,168.5 1880.3,166.5 1893.5,164.5 1906.8,162.5 1920.0,160.5 1933.2,158.5 1946.4,156.5 1959.7,154.5 1972.9,152.5 1973.0,154.6 1959.8,156.4 1946.5,158.3 1933.3,160.2 1920.1,162.1 1906.8,164.0 1893.6,165.8 1880.3,167.7 1867.1,169.6 1853.9,171.5 1840.6,173.4 1827.4,175.2 1814.1,176.8 1800.8,178.3 1787.5,179.8 1774.2,181.1 1760.9,181.8 1747.5,182.0" fill="#9a6a25" stroke="#9a6a25" stroke-width="0.4"/>
<polyline points="1746.5,181.0 1758.8,173.7 1771.1,166.4 1783.8,159.9 1797.1,154.6 1810.4,149.5 1823.7,144.2 1836.9,138.8 1850.2,133.4 1863.4,127.9 1876.6,122.5 1889.8,117.0 1903.0,111.5 1916.2,106.0 1929.4,100.5 1942.6,95.1 1955.8,89.6 1969.0,84.1" fill="none" stroke="#2a3a10" stroke-width="0.6" stroke-opacity="0.75"/>
<polyline points="1746.5,181.0 1758.9,173.9 1771.2,166.8 1784.0,160.5 1797.2,155.4 1810.5,150.2 1823.8,145.0 1837.0,139.8 1850.3,134.6 1863.5,129.4 1876.8,124.2 1890.0,118.9 1903.2,113.6 1916.4,108.3 1929.6,103.0 1942.9,97.8 1956.1,92.5 1969.3,87.2" fill="none" stroke="#2a3a10" stroke-width="0.6" stroke-opacity="0.75"/>
<polyline points="1746.5,181.0 1758.9,173.9 1771.2,166.8 1784.0,160.5 1797.2,155.4 1810.5,150.2 1823.8,145.0 1837.0,139.8 1850.3,134.6 1863.5,129.4 1876.8,124.2 1890.0,118.9 1903.2,113.6 1916.4,108.3 1929.6,103.0 1942.9,97.8 1956.1,92.5 1969.3,87.2" fill="none" stroke="#2a3a10" stroke-width="0.6" stroke-opacity="0.75"/>
<polyline points="1746.6,181.1 1759.0,174.1 1771.4,167.3 1784.2,161.2 1797.4,156.1 1810.7,151.0 1823.9,145.8 1837.1,140.8 1850.4,135.9 1863.7,130.9 1876.9,125.9 1890.2,120.8 1903.4,115.7 1916.6,110.6 1929.9,105.5 1943.1,100.5 1956.3,95.4 1969.6,90.3" fill="none" stroke="#2a3a10" stroke-width="0.6" stroke-opacity="0.75"/>
<polyline points="1746.6,181.1 1759.0,174.1 1771.4,167.3 1784.2,161.2 1797.4,156.1 1810.7,151.0 1823.9,145.8 1837.1,140.8 1850.4,135.9 1863.7,130.9 1876.9,125.9 1890.2,120.8 1903.4,115.7 1916.6,110.6 1929.9,105.5 1943.1,100.5 1956.3,95.4 1969.6,90.3" fill="none" stroke="#2a3a10" stroke-width="0.6" stroke-opacity="0.75"/>
<polyline points="1746.6,181.1 1759.0,174.4 1771.5,167.7 1784.3,161.8 1797.5,156.8 1810.8,151.8 1823.9,146.7 1837.2,141.8 1850.5,137.1 1863.8,132.4 1877.1,127.6 1890.3,122.7 1903.6,117.8 1916.8,112.9 1930.1,108.0 1943.3,103.1 1956.6,98.3 1969.8,93.4" fill="none" stroke="#2a3a10" stroke-width="0.6" stroke-opacity="0.75"/>
<polyline points="1746.6,181.1 1759.0,174.4 1771.5,167.7 1784.3,161.8 1797.5,156.8 1810.8,151.8 1823.9,146.7 1837.2,141.8 1850.5,137.1 1863.8,132.4 1877.1,127.6 1890.3,122.7 1903.6,117.8 1916.8,112.9 1930.1,108.0 1943.3,103.1 1956.6,98.3 1969.8,93.4" fill="none" stroke="#2a3a10" stroke-width="0.6" stroke-opacity="0.75"/>
<polyline points="1746.7,181.1 1759.1,174.5 1771.6,168.1 1784.5,162.4 1797.7,157.4 1810.9,152.5 1824.0,147.4 1837.3,142.7 1850.6,138.2 1863.9,133.7 1877.2,129.1 1890.5,124.4 1903.8,119.6 1917.0,114.9 1930.3,110.2 1943.6,105.5 1956.8,100.7 1970.1,96.0" fill="none" stroke="#2a3a10" stroke-width="0.6" stroke-opacity="0.75"/>
<polyline points="1746.7,181.1 1759.1,174.5 1771.6,168.1 1784.5,162.4 1797.7,157.4 1810.9,152.5 1824.0,147.4 1837.3,142.7 1850.6,138.2 1863.9,133.7 1877.2,129.1 1890.5,124.4 1903.8,119.6 1917.0,114.9 1930.3,110.2 1943.6,105.5 1956.8,100.7 1970.1,96.0" fill="none" stroke="#2a3a10" stroke-width="0.6" stroke-opacity="0.75"/>
<polyline points="1746.7,181.1 1759.2,174.8 1771.8,168.6 1784.7,163.0 1797.8,158.2 1811.0,153.3 1824.1,148.2 1837.4,143.7 1850.7,139.4 1864.1,135.2 1877.4,130.8 1890.7,126.3 1904.0,121.7 1917.2,117.2 1930.5,112.7 1943.8,108.2 1957.1,103.6 1970.4,99.1" fill="none" stroke="#2a3a10" stroke-width="0.6" stroke-opacity="0.75"/>
<polyline points="1746.7,181.1 1759.2,174.8 1771.8,168.6 1784.7,163.0 1797.8,158.2 1811.0,153.3 1824.1,148.2 1837.4,143.7 1850.7,139.4 1864.1,135.2 1877.4,130.8 1890.7,126.3 1904.0,121.7 1917.2,117.2 1930.5,112.7 1943.8,108.2 1957.1,103.6 1970.4,99.1" fill="none" stroke="#2a3a10" stroke-width="0.6" stroke-opacity="0.75"/>
<polyline points="1746.8,181.2 1759.4,175.3 1772.1,169.6 1785.1,164.5 1798.2,159.8 1811.3,155.1 1824.3,150.1 1837.6,146.0 1851.0,142.3 1864.4,138.6 1877.8,134.7 1891.1,130.6 1904.4,126.5 1917.7,122.4 1931.0,118.4 1944.4,114.3 1957.7,110.3 1971.0,106.2" fill="none" stroke="#2a3a10" stroke-width="0.6" stroke-opacity="0.75"/>
<polyline points="1746.8,181.2 1759.4,175.3 1772.1,169.6 1785.1,164.5 1798.2,159.8 1811.3,155.1 1824.3,150.1 1837.6,146.0 1851.0,142.3 1864.4,138.6 1877.8,134.7 1891.1,130.6 1904.4,126.5 1917.7,122.4 1931.0,118.4 1944.4,114.3 1957.7,110.3 1971.0,106.2" fill="none" stroke="#2a3a10" stroke-width="0.6" stroke-opacity="0.75"/>
<polyline points="1747.2,181.6 1760.5,179.1 1773.8,176.8 1787.1,174.7 1800.4,172.6 1813.8,170.6 1827.1,168.7 1840.3,166.0 1853.5,163.1 1866.7,160.2 1879.9,157.4 1893.1,154.6 1906.3,151.8 1919.5,148.9 1932.7,146.1 1945.9,143.3 1959.1,140.5 1972.3,137.7" fill="none" stroke="#2a3a10" stroke-width="0.6" stroke-opacity="0.75"/>
<polyline points="1747.2,181.6 1760.5,179.1 1773.8,176.8 1787.1,174.7 1800.4,172.6 1813.8,170.6 1827.1,168.7 1840.3,166.0 1853.5,163.1 1866.7,160.2 1879.9,157.4 1893.1,154.6 1906.3,151.8 1919.5,148.9 1932.7,146.1 1945.9,143.3 1959.1,140.5 1972.3,137.7" fill="none" stroke="#2a3a10" stroke-width="0.6" stroke-opacity="0.75"/>
<polyline points="1747.3,181.8 1760.6,180.2 1774.0,178.6 1787.3,176.8 1800.6,175.0 1813.9,173.2 1827.2,171.4 1840.5,169.1 1853.7,166.6 1866.9,164.2 1880.1,161.7 1893.3,159.3 1906.5,156.9 1919.7,154.5 1932.9,152.0 1946.2,149.6 1959.4,147.2 1972.6,144.8" fill="none" stroke="#2a3a10" stroke-width="0.6" stroke-opacity="0.75"/>
<polyline points="1747.3,181.8 1760.6,180.2 1774.0,178.6 1787.3,176.8 1800.6,175.0 1813.9,173.2 1827.2,171.4 1840.5,169.1 1853.7,166.6 1866.9,164.2 1880.1,161.7 1893.3,159.3 1906.5,156.9 1919.7,154.5 1932.9,152.0 1946.2,149.6 1959.4,147.2 1972.6,144.8" fill="none" stroke="#2a3a10" stroke-width="0.6" stroke-opacity="0.75"/>
<polyline points="1747.4,181.8 1760.7,180.8 1774.0,179.5 1787.4,177.9 1800.7,176.1 1814.0,174.4 1827.3,172.7 1840.5,170.6 1853.7,168.3 1866.9,166.0 1880.2,163.8 1893.4,161.6 1906.6,159.3 1919.8,157.1 1933.1,154.9 1946.3,152.6 1959.5,150.4 1972.7,148.1" fill="none" stroke="#2a3a10" stroke-width="0.6" stroke-opacity="0.75"/>
<polyline points="1747.4,181.8 1760.7,180.8 1774.0,179.5 1787.4,177.9 1800.7,176.1 1814.0,174.4 1827.3,172.7 1840.5,170.6 1853.7,168.3 1866.9,166.0 1880.2,163.8 1893.4,161.6 1906.6,159.3 1919.8,157.1 1933.1,154.9 1946.3,152.6 1959.5,150.4 1972.7,148.1" fill="none" stroke="#2a3a10" stroke-width="0.6" stroke-opacity="0.75"/>
<polyline points="1747.4,181.9 1760.8,181.1 1774.1,180.0 1787.4,178.6 1800.7,176.9 1814.0,175.3 1827.3,173.7 1840.6,171.6 1853.8,169.5 1867.0,167.4 1880.2,165.2 1893.5,163.1 1906.7,161.0 1919.9,158.9 1933.1,156.8 1946.4,154.7 1959.6,152.6 1972.8,150.5" fill="none" stroke="#2a3a10" stroke-width="0.6" stroke-opacity="0.75"/>
<polyline points="1747.4,181.9 1760.8,181.1 1774.1,180.0 1787.4,178.6 1800.7,176.9 1814.0,175.3 1827.3,173.7 1840.6,171.6 1853.8,169.5 1867.0,167.4 1880.2,165.2 1893.5,163.1 1906.7,161.0 1919.9,158.9 1933.1,156.8 1946.4,154.7 1959.6,152.6 1972.8,150.5" fill="none" stroke="#2a3a10" stroke-width="0.6" stroke-opacity="0.75"/>
<polyline points="1747.5,182.0 1760.8,181.4 1774.2,180.6 1787.5,179.2 1800.8,177.6 1814.1,176.0 1827.3,174.4 1840.6,172.5 1853.8,170.5 1867.1,168.5 1880.3,166.5 1893.5,164.5 1906.8,162.5 1920.0,160.5 1933.2,158.5 1946.4,156.5 1959.7,154.5 1972.9,152.5" fill="none" stroke="#2a3a10" stroke-width="0.6" stroke-opacity="0.75"/>
<polyline points="1747.5,182.0 1760.8,181.4 1774.2,180.6 1787.5,179.2 1800.8,177.6 1814.1,176.0 1827.3,174.4 1840.6,172.5 1853.8,170.5 1867.1,168.5 1880.3,166.5 1893.5,164.5 1906.8,162.5 1920.0,160.5 1933.2,158.5 1946.4,156.5 1959.7,154.5 1972.9,152.5" fill="none" stroke="#2a3a10" stroke-width="0.6" stroke-opacity="0.75"/>
<polyline points="1747.5,182.0 1760.9,181.8 1774.2,181.1 1787.5,179.8 1800.8,178.3 1814.1,176.8 1827.4,175.2 1840.6,173.4 1853.9,171.5 1867.1,169.6 1880.3,167.7 1893.6,165.8 1906.8,164.0 1920.1,162.1 1933.3,160.2 1946.5,158.3 1959.8,156.4 1973.0,154.6" fill="none" stroke="#2a3a10" stroke-width="0.6" stroke-opacity="0.75"/>
<polyline points="1746.5,181.0 1758.8,173.7 1771.1,166.4 1783.8,159.9 1797.1,154.6 1810.4,149.5 1823.7,144.2 1836.9,138.8 1850.2,133.4 1863.4,127.9 1876.6,122.5 1889.8,117.0 1903.0,111.5 1916.2,106.0 1929.4,100.5 1942.6,95.1 1955.8,89.6 1969.0,84.1" fill="none" stroke="#5a1a10" stroke-width="0.9" stroke-opacity="0.8"/>
<polyline points="1747.5,182.0 1760.9,181.8 1774.2,181.1 1787.5,179.8 1800.8,178.3 1814.1,176.8 1827.4,175.2 1840.6,173.4 1853.9,171.5 1867.1,169.6 1880.3,167.7 1893.6,165.8 1906.8,164.0 1920.1,162.1 1933.3,160.2 1946.5,158.3 1959.8,156.4 1973.0,154.6" fill="none" stroke="#5a1a10" stroke-width="0.9" stroke-opacity="0.8"/>
<polygon points="1747.5,182.0 1760.9,181.8 1774.2,181.1 1787.5,179.8 1800.8,178.3 1814.1,176.8 1827.4,175.2 1840.6,173.4 1853.9,171.5 1867.1,169.6 1880.3,167.7 1893.6,165.8 1906.8,164.0 1920.1,162.1 1933.3,160.2 1946.5,158.3 1959.8,156.4 1973.0,154.6 1960.0,179.0 1914.0,179.3 1811.0,183.6 1790.0,184.8 1765.0,184.5 1752.0,183.2" fill="#fff" stroke="none" stroke-width="0"/>
<polygon points="1808.0,183.2 1860.0,181.2 1914.0,179.1 1914.0,184.4 1860.0,184.4 1815.0,184.2" fill="#14143a" stroke="none" stroke-width="0"/>
<polygon points="1850.0,184.4 1914.0,184.4 1914.0,186.6 1880.0,185.8" fill="#4f97b8" stroke="none" stroke-width="0"/>
<polygon points="1860.0,185.6 1914.0,186.6 1914.0,188.6 1885.0,187.2" fill="#7ab98d" stroke="none" stroke-width="0"/></g>
<path d="M1569.7,6 V359.0 H1921" fill="none" stroke="#5a5a5a" stroke-width="1.1"/>
<path d="M1576.4,359.0 v-4.5 M1576.4,6 v4.5 M1569.7,351.6 h4.5 M1921,351.6 h-4.5 M1593.3,359.0 v-2.8 M1593.3,6 v2.8 M1569.7,334.7 h2.8 M1921,334.7 h-2.8 M1610.2,359.0 v-2.8 M1610.2,6 v2.8 M1569.7,317.8 h2.8 M1921,317.8 h-2.8 M1627.0,359.0 v-2.8 M1627.0,6 v2.8 M1569.7,300.8 h2.8 M1921,300.8 h-2.8 M1643.9,359.0 v-2.8 M1643.9,6 v2.8 M1569.7,283.9 h2.8 M1921,283.9 h-2.8 M1660.8,359.0 v-4.5 M1660.8,6 v4.5 M1569.7,267.0 h4.5 M1921,267.0 h-4.5 M1677.7,359.0 v-2.8 M1677.7,6 v2.8 M1569.7,250.1 h2.8 M1921,250.1 h-2.8 M1694.6,359.0 v-2.8 M1694.6,6 v2.8 M1569.7,233.2 h2.8 M1921,233.2 h-2.8 M1711.4,359.0 v-2.8 M1711.4,6 v2.8 M1569.7,216.2 h2.8 M1921,216.2 h-2.8 M1728.3,359.0 v-2.8 M1728.3,6 v2.8 M1569.7,199.3 h2.8 M1921,199.3 h-2.8 M1745.2,359.0 v-4.5 M1745.2,6 v4.5 M1569.7,182.4 h4.5 M1921,182.4 h-4.5 M1762.1,359.0 v-2.8 M1762.1,6 v2.8 M1569.7,165.5 h2.8 M1921,165.5 h-2.8 M1779.0,359.0 v-2.8 M1779.0,6 v2.8 M1569.7,148.6 h2.8 M1921,148.6 h-2.8 M1795.8,359.0 v-2.8 M1795.8,6 v2.8 M1569.7,131.6 h2.8 M1921,131.6 h-2.8 M1812.7,359.0 v-2.8 M1812.7,6 v2.8 M1569.7,114.7 h2.8 M1921,114.7 h-2.8 M1829.6,359.0 v-4.5 M1829.6,6 v4.5 M1569.7,97.8 h4.5 M1921,97.8 h-4.5 M1846.5,359.0 v-2.8 M1846.5,6 v2.8 M1569.7,80.9 h2.8 M1921,80.9 h-2.8 M1863.4,359.0 v-2.8 M1863.4,6 v2.8 M1569.7,64.0 h2.8 M1921,64.0 h-2.8 M1880.2,359.0 v-2.8 M1880.2,6 v2.8 M1569.7,47.0 h2.8 M1921,47.0 h-2.8 M1897.1,359.0 v-2.8 M1897.1,6 v2.8 M1569.7,30.1 h2.8 M1921,30.1 h-2.8 M1914.0,359.0 v-4.5 M1914.0,6 v4.5 M1569.7,13.2 h4.5 M1921,13.2 h-4.5" stroke="#444" stroke-width="1" fill="none"/>
<text class="s" x="1547.54" y="23.90" font-size="31" textLength="18.29" lengthAdjust="spacingAndGlyphs">2</text>
<text class="s" x="1547.44" y="109.00" font-size="31" textLength="19.50" lengthAdjust="spacingAndGlyphs">1</text>
<text class="s" x="1548.11" y="192.90" font-size="31" textLength="17.02" lengthAdjust="spacingAndGlyphs">0</text>
<text class="s" x="1529.96" y="277.80" font-size="31" textLength="36.62" lengthAdjust="spacingAndGlyphs">−1</text>
<text class="s" x="1529.98" y="362.00" font-size="31" textLength="35.90" lengthAdjust="spacingAndGlyphs">−2</text>
<text class="s" x="1557.97" y="390.90" font-size="31" textLength="36.32" lengthAdjust="spacingAndGlyphs">−2</text>
<text class="s" x="1642.68" y="390.90" font-size="31" textLength="36.14" lengthAdjust="spacingAndGlyphs">−1</text>
<text class="s" x="1736.50" y="390.90" font-size="31" textLength="17.25" lengthAdjust="spacingAndGlyphs">0</text>
<text class="s" x="1821.37" y="390.90" font-size="31" textLength="16.67" lengthAdjust="spacingAndGlyphs">1</text>
<text class="s" x="1906.17" y="390.90" font-size="31" textLength="16.10" lengthAdjust="spacingAndGlyphs">2</text>
<text class="s" x="1734.50" y="444.50" font-size="44" textLength="23.46" lengthAdjust="spacingAndGlyphs">x</text>
<g transform="translate(1511.9,183.0) rotate(-90)"><text class="s" x="-6.45" y="0.00" font-size="46" textLength="13.18" lengthAdjust="spacingAndGlyphs">t</text></g>
<rect x="1941.2" y="89.2" width="16.5" height="32.0" fill="#e0241e"/>
<rect x="1941.2" y="120.9" width="16.5" height="31.9" fill="#e8853a"/>
<rect x="1941.2" y="152.5" width="16.5" height="31.9" fill="#ddb13f"/>
<rect x="1941.2" y="184.1" width="16.5" height="31.9" fill="#a9be55"/>
<rect x="1941.2" y="215.7" width="16.5" height="32.4" fill="#7ab98d"/>
<rect x="1941.2" y="247.8" width="16.5" height="32.0" fill="#4f97b8"/>
<rect x="1941.2" y="279.5" width="16.5" height="31.9" fill="#3f5dce"/>
<rect x="1941.2" y="311.1" width="16.5" height="31.3" fill="#7b1e8a"/>
<path d="M1941.2,120.9 H1963.8 M1941.2,152.5 H1957.7 M1941.2,184.1 H1963.8 M1941.2,215.7 H1957.7 M1941.2,247.8 H1963.8 M1941.2,279.5 H1957.7 M1941.2,311.1 H1963.8" stroke="#333" stroke-width="0.8" fill="none"/>
<text class="s" x="1966.34" y="131.60" font-size="31" textLength="33.11" lengthAdjust="spacingAndGlyphs">70</text>
<text class="s" x="1966.34" y="194.80" font-size="31" textLength="33.11" lengthAdjust="spacingAndGlyphs">50</text>
<text class="s" x="1966.34" y="258.50" font-size="31" textLength="33.11" lengthAdjust="spacingAndGlyphs">30</text>
<text class="s" x="1965.38" y="321.80" font-size="31" textLength="33.11" lengthAdjust="spacingAndGlyphs">10</text>
</g>

<!-- 40_d.svg -->
<g id="plot-d">
<defs><clipPath id="cpd"><rect x="517.1" y="547.6" width="337.69999999999993" height="338.79999999999995"/></clipPath><filter id="bl3" x="-20%" y="-20%" width="140%" height="140%"><feGaussianBlur stdDeviation="3.2"/></filter><filter id="bl6" x="-50%" y="-50%" width="200%" height="200%"><feGaussianBlur stdDeviation="6"/></filter><filter id="bl10" x="-50%" y="-50%" width="200%" height="200%"><feGaussianBlur stdDeviation="9"/></filter></defs>
<g clip-path="url(#cpd)"><rect x="487.1" y="517.6" width="397.69999999999993" height="398.79999999999995" fill="#adbb52"/>
<g filter="url(#bl6)"><ellipse cx="668" cy="606" rx="13" ry="36" fill="#e0a040" opacity="0.9"/><ellipse cx="676" cy="612" rx="6" ry="28" fill="#e87a35" opacity="0.9"/><ellipse cx="677" cy="676" rx="9" ry="17" fill="#5fae9a" opacity="0.9"/><ellipse cx="664" cy="706" rx="20" ry="7" fill="#dfa843" opacity="0.9"/><ellipse cx="740" cy="724" rx="42" ry="6" fill="#d0b048" opacity="0.8"/></g>
<g filter="url(#bl3)"><polygon points="684.6,717.0 676.7,717.4 668.8,717.7 660.9,718.1 652.9,718.5 645.0,719.0 637.1,719.5 629.2,720.0 621.3,720.6 613.4,721.1 605.5,721.7 597.6,722.3 589.7,723.0 581.8,723.7 573.9,724.4 566.0,725.1 558.1,725.8 550.2,726.6 542.4,727.3 534.5,728.0 526.6,728.8 518.7,729.5 510.8,730.3 502.9,731.0 495.0,731.8 487.1,732.5 487.2,737.6 495.1,736.7 503.0,735.7 510.9,734.7 518.8,733.7 526.6,732.7 534.5,731.7 542.4,730.8 550.3,729.8 558.1,728.8 566.0,727.9 573.9,726.9 581.8,726.0 589.7,725.1 597.6,724.2 605.5,723.4 613.4,722.6 621.3,721.9 629.2,721.2 637.1,720.5 645.0,719.9 652.9,719.2 660.8,718.6 668.8,718.1 676.7,717.6 684.6,717.0" fill="#74b484" stroke="#74b484" stroke-width="0.5"/><polygon points="684.6,717.0 676.7,717.6 668.8,718.1 660.8,718.6 652.9,719.2 645.0,719.9 637.1,720.5 629.2,721.2 621.3,721.9 613.4,722.6 605.5,723.4 597.6,724.2 589.7,725.1 581.8,726.0 573.9,726.9 566.0,727.9 558.1,728.8 550.3,729.8 542.4,730.8 534.5,731.7 526.6,732.7 518.8,733.7 510.9,734.7 503.0,735.7 495.1,736.7 487.2,737.6 487.4,742.8 495.2,741.6 503.1,740.4 511.0,739.1 518.8,737.9 526.7,736.7 534.5,735.4 542.4,734.2 550.3,733.0 558.1,731.8 566.0,730.6 573.9,729.4 581.8,728.3 589.6,727.1 597.5,726.0 605.4,725.0 613.3,724.1 621.2,723.2 629.1,722.3 637.1,721.5 645.0,720.7 652.9,719.9 660.8,719.1 668.7,718.5 676.7,717.8 684.6,717.1" fill="#58a2a8" stroke="#58a2a8" stroke-width="0.5"/><polygon points="684.6,717.1 676.7,717.8 668.7,718.5 660.8,719.1 652.9,719.9 645.0,720.7 637.1,721.5 629.1,722.3 621.2,723.2 613.3,724.1 605.4,725.0 597.5,726.0 589.6,727.1 581.8,728.3 573.9,729.4 566.0,730.6 558.1,731.8 550.3,733.0 542.4,734.2 534.5,735.4 526.7,736.7 518.8,737.9 511.0,739.1 503.1,740.4 495.2,741.6 487.4,742.8 487.5,747.0 495.3,745.6 503.2,744.2 511.0,742.8 518.9,741.5 526.7,740.1 534.6,738.7 542.5,737.3 550.3,735.9 558.2,734.6 566.0,733.3 573.9,731.9 581.8,730.6 589.7,729.3 597.5,728.1 605.4,726.9 613.3,725.8 621.3,724.8 629.2,723.9 637.1,722.9 645.0,722.0 652.9,721.0 660.8,720.0 668.8,719.0 676.7,718.0 684.6,717.2" fill="#4c8eb8" stroke="#4c8eb8" stroke-width="0.5"/><polygon points="684.6,717.2 676.7,718.0 668.8,719.0 660.8,720.0 652.9,721.0 645.0,722.0 637.1,722.9 629.2,723.9 621.3,724.8 613.3,725.8 605.4,726.9 597.5,728.1 589.7,729.3 581.8,730.6 573.9,731.9 566.0,733.3 558.2,734.6 550.3,735.9 542.5,737.3 534.6,738.7 526.7,740.1 518.9,741.5 511.0,742.8 503.2,744.2 495.3,745.6 487.5,747.0 487.5,751.1 495.4,749.6 503.3,748.1 511.1,746.5 519.0,745.0 526.8,743.5 534.7,741.9 542.5,740.4 550.4,738.9 558.2,737.4 566.1,735.9 574.0,734.4 581.8,733.0 589.7,731.5 597.6,730.1 605.5,728.8 613.4,727.6 621.3,726.5 629.2,725.4 637.1,724.3 645.1,723.2 653.0,722.1 660.9,720.9 668.8,719.5 676.7,718.3 684.6,717.2" fill="#4473c1" stroke="#4473c1" stroke-width="0.5"/><polygon points="684.6,717.2 676.7,718.3 668.8,719.5 660.9,720.9 653.0,722.1 645.1,723.2 637.1,724.3 629.2,725.4 621.3,726.5 613.4,727.6 605.5,728.8 597.6,730.1 589.7,731.5 581.8,733.0 574.0,734.4 566.1,735.9 558.2,737.4 550.4,738.9 542.5,740.4 534.7,741.9 526.8,743.5 519.0,745.0 511.1,746.5 503.3,748.1 495.4,749.6 487.5,751.1 487.7,755.1 495.5,753.5 503.4,751.8 511.2,750.2 519.1,748.5 526.9,746.8 534.8,745.2 542.6,743.5 550.5,741.8 558.3,740.2 566.2,738.6 574.0,737.0 581.9,735.4 589.8,733.9 597.7,732.3 605.6,730.9 613.5,729.6 621.4,728.3 629.3,727.0 637.3,725.8 645.2,724.6 653.1,723.3 661.0,721.8 668.8,720.0 676.7,718.5 684.6,717.2" fill="#3f4dc5" stroke="#3f4dc5" stroke-width="0.5"/><polygon points="684.6,717.2 676.7,718.5 668.8,720.0 661.0,721.8 653.1,723.3 645.2,724.6 637.3,725.8 629.3,727.0 621.4,728.3 613.5,729.6 605.6,730.9 597.7,732.3 589.8,733.9 581.9,735.4 574.0,737.0 566.2,738.6 558.3,740.2 550.5,741.8 542.6,743.5 534.8,745.2 526.9,746.8 519.1,748.5 511.2,750.2 503.4,751.8 495.5,753.5 487.7,755.1 487.8,759.2 495.6,757.4 503.5,755.6 511.3,753.8 519.2,752.0 527.0,750.2 534.8,748.4 542.7,746.6 550.5,744.8 558.4,743.0 566.3,741.3 574.1,739.6 582.0,737.9 589.9,736.2 597.8,734.6 605.7,733.0 613.6,731.5 621.5,730.1 629.4,728.7 637.4,727.3 645.3,725.9 653.2,724.5 661.1,722.7 668.8,720.6 676.7,718.8 684.6,717.3" fill="#4a2aa5" stroke="#4a2aa5" stroke-width="0.5"/><polygon points="684.6,717.3 676.7,718.8 668.8,720.6 661.1,722.7 653.2,724.5 645.3,725.9 637.4,727.3 629.4,728.7 621.5,730.1 613.6,731.5 605.7,733.0 597.8,734.6 589.9,736.2 582.0,737.9 574.1,739.6 566.3,741.3 558.4,743.0 550.5,744.8 542.7,746.6 534.8,748.4 527.0,750.2 519.2,752.0 511.3,753.8 503.5,755.6 495.6,757.4 487.8,759.2 488.0,767.1 495.9,765.0 503.7,763.0 511.6,761.0 519.5,758.9 527.3,756.9 535.2,754.8 543.0,752.8 550.9,750.7 558.8,748.7 566.7,746.8 574.6,744.8 582.5,742.9 590.4,741.0 598.3,739.2 606.2,737.3 614.1,735.5 622.1,733.8 630.0,732.1 637.9,730.4 645.9,728.7 653.7,726.8 661.5,724.6 669.1,721.8 676.8,719.5 684.6,717.4" fill="#672192" stroke="#672192" stroke-width="0.5"/><polygon points="684.6,717.4 676.8,719.5 669.1,721.8 661.5,724.6 653.7,726.8 645.9,728.7 637.9,730.4 630.0,732.1 622.1,733.8 614.1,735.5 606.2,737.3 598.3,739.2 590.4,741.0 582.5,742.9 574.6,744.8 566.7,746.8 558.8,748.7 550.9,750.7 543.0,752.8 535.2,754.8 527.3,756.9 519.5,758.9 511.6,761.0 503.7,763.0 495.9,765.0 488.0,767.1 488.2,775.0 496.1,772.7 504.0,770.4 511.9,768.1 519.7,765.9 527.6,763.6 535.5,761.3 543.4,759.0 551.3,756.7 559.2,754.5 567.1,752.3 575.0,750.1 582.9,748.0 590.9,745.8 598.8,743.7 606.7,741.6 614.7,739.6 622.6,737.6 630.5,735.6 638.5,733.5 646.4,731.5 654.3,729.2 662.0,726.5 669.4,723.1 677.0,720.2 684.6,717.5" fill="#781c86" stroke="#781c86" stroke-width="0.5"/><polygon points="684.6,717.5 677.0,720.2 669.4,723.1 662.0,726.5 654.3,729.2 646.4,731.5 638.5,733.5 630.5,735.6 622.6,737.6 614.7,739.6 606.7,741.6 598.8,743.7 590.9,745.8 582.9,748.0 575.0,750.1 567.1,752.3 559.2,754.5 551.3,756.7 543.4,759.0 535.5,761.3 527.6,763.6 519.7,765.9 511.9,768.1 504.0,770.4 496.1,772.7 488.2,775.0 488.4,782.9 496.3,780.4 504.2,777.8 512.1,775.3 520.0,772.8 527.9,770.3 535.8,767.7 543.7,765.2 551.6,762.7 559.5,760.2 567.5,757.8 575.4,755.4 583.4,753.0 591.3,750.7 599.3,748.3 607.2,746.0 615.2,743.6 623.2,741.3 631.1,739.0 639.1,736.7 647.0,734.2 654.8,731.6 662.4,728.3 669.6,724.4 677.1,720.9 684.6,717.5" fill="#781c86" stroke="#781c86" stroke-width="0.5"/><polygon points="684.6,717.5 677.1,720.9 669.6,724.4 662.4,728.3 654.8,731.6 647.0,734.2 639.1,736.7 631.1,739.0 623.2,741.3 615.2,743.6 607.2,746.0 599.3,748.3 591.3,750.7 583.4,753.0 575.4,755.4 567.5,757.8 559.5,760.2 551.6,762.7 543.7,765.2 535.8,767.7 527.9,770.3 520.0,772.8 512.1,775.3 504.2,777.8 496.3,780.4 488.4,782.9 488.7,790.8 496.6,788.0 504.5,785.3 512.4,782.5 520.3,779.7 528.3,776.9 536.2,774.1 544.1,771.4 552.0,768.6 559.9,765.9 567.9,763.2 575.9,760.6 583.8,758.1 591.8,755.5 599.8,752.9 607.8,750.3 615.7,747.7 623.7,745.1 631.7,742.4 639.6,739.8 647.5,737.0 655.3,733.9 662.8,730.2 669.9,725.7 677.2,721.6 684.6,717.6" fill="#672192" stroke="#672192" stroke-width="0.5"/><polygon points="684.6,717.6 677.2,721.6 669.9,725.7 662.8,730.2 655.3,733.9 647.5,737.0 639.6,739.8 631.7,742.4 623.7,745.1 615.7,747.7 607.8,750.3 599.8,752.9 591.8,755.5 583.8,758.1 575.9,760.6 567.9,763.2 559.9,765.9 552.0,768.6 544.1,771.4 536.2,774.1 528.3,776.9 520.3,779.7 512.4,782.5 504.5,785.3 496.6,788.0 488.7,790.8 488.9,795.9 496.8,792.9 504.7,790.0 512.7,787.0 520.6,784.0 528.5,781.1 536.4,778.1 544.4,775.1 552.3,772.2 560.3,769.3 568.2,766.5 576.2,763.7 584.2,760.9 592.2,758.2 600.2,755.5 608.3,752.7 616.3,750.1 624.3,747.4 632.4,744.8 640.4,742.0 648.3,739.1 656.1,735.9 663.5,731.7 670.3,726.7 677.4,722.2 684.6,717.8" fill="#4a2aa5" stroke="#4a2aa5" stroke-width="0.5"/><polygon points="684.6,717.8 677.4,722.2 670.3,726.7 663.5,731.7 656.1,735.9 648.3,739.1 640.4,742.0 632.4,744.8 624.3,747.4 616.3,750.1 608.3,752.7 600.2,755.5 592.2,758.2 584.2,760.9 576.2,763.7 568.2,766.5 560.3,769.3 552.3,772.2 544.4,775.1 536.4,778.1 528.5,781.1 520.6,784.0 512.7,787.0 504.7,790.0 496.8,792.9 488.9,795.9 489.1,800.9 497.0,797.8 505.0,794.6 512.9,791.5 520.9,788.4 528.8,785.2 536.7,782.0 544.7,778.9 552.6,775.8 560.6,772.7 568.6,769.7 576.6,766.7 584.6,763.8 592.7,760.9 600.7,758.1 608.7,755.2 616.8,752.5 624.9,749.8 633.0,747.1 641.1,744.3 649.1,741.3 656.9,737.8 664.1,733.2 670.6,727.7 677.6,722.8 684.6,717.9" fill="#3f4dc5" stroke="#3f4dc5" stroke-width="0.5"/><polygon points="684.6,717.9 677.6,722.8 670.6,727.7 664.1,733.2 656.9,737.8 649.1,741.3 641.1,744.3 633.0,747.1 624.9,749.8 616.8,752.5 608.7,755.2 600.7,758.1 592.7,760.9 584.6,763.8 576.6,766.7 568.6,769.7 560.6,772.7 552.6,775.8 544.7,778.9 536.7,782.0 528.8,785.2 520.9,788.4 512.9,791.5 505.0,794.6 497.0,797.8 489.1,800.9 489.4,806.9 497.4,803.5 505.3,800.1 513.2,796.7 521.2,793.3 529.1,789.9 537.0,786.4 544.9,783.0 552.8,779.6 560.8,776.3 568.8,773.1 576.8,769.9 584.9,766.8 592.9,763.7 601.0,760.6 609.1,757.6 617.2,754.7 625.4,751.9 633.5,749.1 641.7,746.2 649.7,743.0 657.5,739.3 664.5,734.3 671.0,728.6 677.8,723.4 684.6,718.1" fill="#4473c1" stroke="#4473c1" stroke-width="0.5"/><polygon points="684.6,718.1 677.8,723.4 671.0,728.6 664.5,734.3 657.5,739.3 649.7,743.0 641.7,746.2 633.5,749.1 625.4,751.9 617.2,754.7 609.1,757.6 601.0,760.6 592.9,763.7 584.9,766.8 576.8,769.9 568.8,773.1 560.8,776.3 552.8,779.6 544.9,783.0 537.0,786.4 529.1,789.9 521.2,793.3 513.2,796.7 505.3,800.1 497.4,803.5 489.4,806.9 489.8,812.9 497.7,809.2 505.6,805.6 513.5,801.9 521.4,798.2 529.3,794.5 537.2,790.8 545.2,787.2 553.1,783.5 561.1,780.0 569.1,776.5 577.1,773.1 585.1,769.8 593.2,766.5 601.3,763.2 609.4,760.0 617.6,757.0 625.8,754.1 634.0,751.1 642.2,748.1 650.3,744.8 658.0,740.7 665.0,735.5 671.3,729.5 678.0,723.9 684.6,718.2" fill="#4c8eb8" stroke="#4c8eb8" stroke-width="0.5"/><polygon points="684.6,718.2 678.0,723.9 671.3,729.5 665.0,735.5 658.0,740.7 650.3,744.8 642.2,748.1 634.0,751.1 625.8,754.1 617.6,757.0 609.4,760.0 601.3,763.2 593.2,766.5 585.1,769.8 577.1,773.1 569.1,776.5 561.1,780.0 553.1,783.5 545.2,787.2 537.2,790.8 529.3,794.5 521.4,798.2 513.5,801.9 505.6,805.6 497.7,809.2 489.8,812.9 490.0,820.7 498.0,816.9 506.0,813.0 513.9,809.2 521.9,805.3 529.9,801.4 537.9,797.5 545.8,793.7 553.8,789.8 561.9,786.1 569.9,782.4 578.0,778.8 586.1,775.2 594.3,771.6 602.4,768.1 610.5,764.5 618.7,761.1 626.9,757.8 635.1,754.4 643.2,750.9 651.2,747.2 658.9,742.7 665.7,737.1 672.0,730.8 678.4,724.7 684.6,718.4" fill="#58a2a8" stroke="#58a2a8" stroke-width="0.5"/><polygon points="684.6,718.4 678.4,724.7 672.0,730.8 665.7,737.1 658.9,742.7 651.2,747.2 643.2,750.9 635.1,754.4 626.9,757.8 618.7,761.1 610.5,764.5 602.4,768.1 594.3,771.6 586.1,775.2 578.0,778.8 569.9,782.4 561.9,786.1 553.8,789.8 545.8,793.7 537.9,797.5 529.9,801.4 521.9,805.3 513.9,809.2 506.0,813.0 498.0,816.9 490.0,820.7 490.2,828.6 498.2,824.5 506.3,820.5 514.4,816.4 522.4,812.4 530.4,808.3 538.5,804.2 546.5,800.2 554.6,796.1 562.7,792.2 570.8,788.3 579.0,784.4 587.1,780.6 595.3,776.8 603.4,772.9 611.6,769.1 619.8,765.3 628.0,761.5 636.1,757.7 644.2,753.8 652.2,749.5 659.8,744.6 666.5,738.7 672.7,732.2 678.8,725.5 684.6,718.6" fill="#74b484" stroke="#74b484" stroke-width="0.5"/></g>
<g filter="url(#bl3)"><polygon points="684.8,707.1 684.4,693.6 684.7,680.1 685.2,666.6 686.1,653.1 687.5,639.7 689.6,626.3 692.8,613.1 697.8,600.6 704.4,588.8 711.3,577.2 718.4,565.7 725.4,554.1 732.5,542.6 739.5,531.0 746.5,519.5 753.5,507.9 760.6,496.4 768.3,497.6 760.9,509.0 753.4,520.4 745.9,531.7 738.4,543.1 730.9,554.5 723.4,565.9 715.9,577.2 708.6,588.7 701.6,600.5 696.0,612.9 692.0,625.9 689.3,639.2 687.3,652.7 685.9,666.2 685.1,679.8 684.7,693.5 684.8,707.1" fill="#de3726" stroke="#de3726" stroke-width="0.5"/><polygon points="684.8,707.1 684.7,693.5 685.1,679.8 685.9,666.2 687.3,652.7 689.3,639.2 692.0,625.9 696.0,612.9 701.6,600.5 708.6,588.7 715.9,577.2 723.4,565.9 730.9,554.5 738.4,543.1 745.9,531.7 753.4,520.4 760.9,509.0 768.3,497.6 773.5,498.4 765.7,509.7 757.9,520.9 750.1,532.2 742.3,543.5 734.5,554.8 726.7,566.0 718.9,577.3 711.3,588.7 704.1,600.4 698.1,612.7 693.7,625.6 690.6,638.9 688.2,652.4 686.4,666.0 685.4,679.7 684.9,693.4 684.9,707.1" fill="#ccb343" stroke="#ccb343" stroke-width="0.5"/><polygon points="684.9,707.1 684.9,693.4 685.4,679.7 686.4,666.0 688.2,652.4 690.6,638.9 693.7,625.6 698.1,612.7 704.1,600.4 711.3,588.7 718.9,577.3 726.7,566.0 734.5,554.8 742.3,543.5 750.1,532.2 757.9,520.9 765.7,509.7 773.5,498.4 779.3,499.3 771.1,510.4 763.0,521.6 754.9,532.7 746.7,543.9 738.6,555.0 730.4,566.1 722.3,577.3 714.4,588.6 706.9,600.3 700.5,612.5 695.5,625.3 692.0,638.6 689.1,652.1 686.9,665.7 685.8,679.5 685.1,693.3 684.9,707.1" fill="#82b874" stroke="#82b874" stroke-width="0.5"/><polygon points="684.9,707.1 685.1,693.3 685.8,679.5 686.9,665.7 689.1,652.1 692.0,638.6 695.5,625.3 700.5,612.5 706.9,600.3 714.4,588.6 722.3,577.3 730.4,566.1 738.6,555.0 746.7,543.9 754.9,532.7 763.0,521.6 771.1,510.4 779.3,499.3 785.0,500.2 776.6,511.2 768.1,522.2 759.6,533.3 751.1,544.3 742.6,555.3 734.1,566.3 725.6,577.3 717.4,588.6 709.7,600.1 702.9,612.2 697.3,624.9 693.4,638.3 690.0,651.8 687.4,665.4 686.1,679.3 685.3,693.2 685.0,707.1" fill="#4f96b4" stroke="#4f96b4" stroke-width="0.5"/><polygon points="685.0,707.1 685.3,693.2 686.1,679.3 687.4,665.4 690.0,651.8 693.4,638.3 697.3,624.9 702.9,612.2 709.7,600.1 717.4,588.6 725.6,577.3 734.1,566.3 742.6,555.3 751.1,544.3 759.6,533.3 768.1,522.2 776.6,511.2 785.0,500.2 789.3,500.8 780.6,511.8 771.9,522.7 763.2,533.6 754.4,544.6 745.7,555.5 736.9,566.4 728.2,577.4 719.7,588.5 711.8,600.1 704.6,612.1 698.6,624.7 694.4,638.0 690.7,651.5 687.8,665.2 686.3,679.1 685.4,693.1 685.1,707.1" fill="#4266c2" stroke="#4266c2" stroke-width="0.5"/><polygon points="685.1,707.1 685.4,693.1 686.3,679.1 687.8,665.2 690.7,651.5 694.4,638.0 698.6,624.7 704.6,612.1 711.8,600.1 719.7,588.5 728.2,577.4 736.9,566.4 745.7,555.5 754.4,544.6 763.2,533.6 771.9,522.7 780.6,511.8 789.3,500.8 793.7,501.5 784.7,512.3 775.7,523.2 766.7,534.0 757.7,544.9 748.7,555.7 739.7,566.5 730.7,577.4 722.0,588.5 713.9,600.0 706.4,611.9 700.0,624.4 695.4,637.8 691.4,651.3 688.1,665.0 686.6,679.0 685.5,693.0 685.1,707.1" fill="#443cb5" stroke="#443cb5" stroke-width="0.5"/><polygon points="685.1,707.1 685.5,693.0 686.6,679.0 688.1,665.0 691.4,651.3 695.4,637.8 700.0,624.4 706.4,611.9 713.9,600.0 722.0,588.5 730.7,577.4 739.7,566.5 748.7,555.7 757.7,544.9 766.7,534.0 775.7,523.2 784.7,512.3 793.7,501.5 810.2,503.5 800.4,514.2 790.5,524.8 780.7,535.5 770.9,546.2 761.0,556.8 751.2,567.4 741.4,578.1 731.8,589.0 722.7,600.3 714.2,611.9 706.6,624.2 700.7,637.2 695.3,650.5 690.6,664.0 688.0,678.2 686.1,692.6 685.2,707.1" fill="#56269d" stroke="#56269d" stroke-width="0.5"/><polygon points="685.2,707.1 686.1,692.6 688.0,678.2 690.6,664.0 695.3,650.5 700.7,637.2 706.6,624.2 714.2,611.9 722.7,600.3 731.8,589.0 741.4,578.1 751.2,567.4 761.0,556.8 770.9,546.2 780.7,535.5 790.5,524.8 800.4,514.2 810.2,503.5 859.8,509.6 847.4,519.7 835.1,529.8 822.8,539.9 810.4,550.0 798.0,560.1 785.7,570.2 773.4,580.4 761.2,590.6 749.2,601.1 737.5,612.0 726.5,623.4 716.4,635.5 706.8,648.1 698.0,661.2 692.2,675.9 687.9,691.3 685.3,707.1" fill="#781c86" stroke="#781c86" stroke-width="0.5"/><polygon points="685.3,707.1 687.9,691.3 692.2,675.9 698.0,661.2 706.8,648.1 716.4,635.5 726.5,623.4 737.5,612.0 749.2,601.1 761.2,590.6 773.4,580.4 785.7,570.2 798.0,560.1 810.4,550.0 822.8,539.9 835.1,529.8 847.4,519.7 859.8,509.6 876.3,511.6 863.1,521.5 849.9,531.5 836.8,541.4 823.6,551.3 810.4,561.2 797.2,571.2 784.0,581.1 770.9,591.2 758.0,601.4 745.3,612.0 733.1,623.1 721.6,635.0 710.7,647.3 700.4,660.2 693.6,675.2 688.5,690.9 685.4,707.1" fill="#56269d" stroke="#56269d" stroke-width="0.5"/><polygon points="685.4,707.1 688.5,690.9 693.6,675.2 700.4,660.2 710.7,647.3 721.6,635.0 733.1,623.1 745.3,612.0 758.0,601.4 770.9,591.2 784.0,581.1 797.2,571.2 810.4,561.2 823.6,551.3 836.8,541.4 849.9,531.5 863.1,521.5 876.3,511.6 885.1,511.4 871.7,521.6 858.3,531.8 844.9,542.0 831.5,552.2 818.2,562.5 804.8,572.7 791.3,582.7 777.4,592.2 763.5,601.7 750.2,612.1 737.6,623.2 725.5,635.0 714.0,647.2 703.2,660.1 695.6,675.1 689.7,690.8 685.5,707.1" fill="#443cb5" stroke="#443cb5" stroke-width="0.5"/><polygon points="685.5,707.1 689.7,690.8 695.6,675.1 703.2,660.1 714.0,647.2 725.5,635.0 737.6,623.2 750.2,612.1 763.5,601.7 777.4,592.2 791.3,582.7 804.8,572.7 818.2,562.5 831.5,552.2 844.9,542.0 858.3,531.8 871.7,521.6 885.1,511.4 894.0,511.1 880.3,521.6 866.7,532.1 853.1,542.6 839.5,553.1 826.0,563.7 812.4,574.2 798.5,584.3 783.8,593.3 769.1,602.0 755.1,612.1 742.1,623.3 729.5,634.9 717.3,647.0 705.9,659.9 697.6,674.9 691.0,690.8 685.6,707.1" fill="#405ac4" stroke="#405ac4" stroke-width="0.5"/><polygon points="685.6,707.1 691.0,690.8 697.6,674.9 705.9,659.9 717.3,647.0 729.5,634.9 742.1,623.3 755.1,612.1 769.1,602.0 783.8,593.3 798.5,584.3 812.4,574.2 826.0,563.7 839.5,553.1 853.1,542.6 866.7,532.1 880.3,521.6 894.0,511.1 896.4,516.5 882.6,526.6 868.9,536.8 855.2,546.9 841.5,557.0 827.9,567.3 814.2,577.4 800.2,587.1 785.6,595.9 770.9,604.7 757.2,614.7 744.0,625.6 731.2,636.8 718.9,648.6 707.4,661.2 698.8,675.8 691.5,691.2 685.6,707.1" fill="#4580c0" stroke="#4580c0" stroke-width="0.5"/><polygon points="685.6,707.1 691.5,691.2 698.8,675.8 707.4,661.2 718.9,648.6 731.2,636.8 744.0,625.6 757.2,614.7 770.9,604.7 785.6,595.9 800.2,587.1 814.2,577.4 827.9,567.3 841.5,557.0 855.2,546.9 868.9,536.8 882.6,526.6 896.4,516.5 898.3,520.9 884.5,530.7 870.7,540.5 856.9,550.4 843.2,560.2 829.4,570.2 815.6,579.9 801.5,589.3 787.0,598.1 772.4,606.7 758.8,616.8 745.6,627.4 732.7,638.3 720.3,649.8 708.7,662.2 699.7,676.4 692.0,691.4 685.7,707.1" fill="#529db0" stroke="#529db0" stroke-width="0.5"/><polygon points="685.7,707.1 692.0,691.4 699.7,676.4 708.7,662.2 720.3,649.8 732.7,638.3 745.6,627.4 758.8,616.8 772.4,606.7 787.0,598.1 801.5,589.3 815.6,579.9 829.4,570.2 843.2,560.2 856.9,550.4 870.7,540.5 884.5,530.7 898.3,520.9 899.9,524.6 886.1,534.2 872.3,543.8 858.4,553.4 844.6,563.0 830.8,572.7 816.8,582.1 802.7,591.3 788.2,599.9 773.8,608.6 760.3,618.6 747.0,629.0 733.9,639.6 721.5,650.9 709.8,663.0 700.5,677.0 692.4,691.7 685.7,707.1" fill="#6bb18e" stroke="#6bb18e" stroke-width="0.5"/><polygon points="685.7,707.1 692.4,691.7 700.5,677.0 709.8,663.0 721.5,650.9 733.9,639.6 747.0,629.0 760.3,618.6 773.8,608.6 788.2,599.9 802.7,591.3 816.8,582.1 830.8,572.7 844.6,563.0 858.4,553.4 872.3,543.8 886.1,534.2 899.9,524.6 901.6,528.4 887.7,537.8 873.8,547.1 859.9,556.4 846.0,565.8 832.1,575.2 818.1,584.3 803.9,593.2 789.5,601.8 775.1,610.4 761.7,620.5 748.3,630.6 735.2,640.9 722.6,652.0 710.8,663.9 701.3,677.6 692.8,692.0 685.7,707.1" fill="#9abc5e" stroke="#9abc5e" stroke-width="0.5"/><polygon points="685.7,707.1 692.8,692.0 701.3,677.6 710.8,663.9 722.6,652.0 735.2,640.9 748.3,630.6 761.7,620.5 775.1,610.4 789.5,601.8 803.9,593.2 818.1,584.3 832.1,575.2 846.0,565.8 859.9,556.4 873.8,547.1 887.7,537.8 901.6,528.4 903.3,532.2 889.3,541.3 875.4,550.4 861.4,559.5 847.4,568.6 833.5,577.7 819.3,586.5 805.1,595.2 790.7,603.7 776.4,612.2 763.2,622.3 749.7,632.1 736.4,642.2 723.8,653.1 711.9,664.8 702.1,678.2 693.2,692.2 685.8,707.1" fill="#ccb343" stroke="#ccb343" stroke-width="0.5"/><polygon points="685.8,707.1 693.2,692.2 702.1,678.2 711.9,664.8 723.8,653.1 736.4,642.2 749.7,632.1 763.2,622.3 776.4,612.2 790.7,603.7 805.1,595.2 819.3,586.5 833.5,577.7 847.4,568.6 861.4,559.5 875.4,550.4 889.3,541.3 903.3,532.2 904.7,535.5 890.7,544.3 876.7,553.2 862.7,562.1 848.6,571.0 834.6,579.9 820.4,588.4 806.1,596.9 791.8,605.3 777.5,613.8 764.4,623.9 750.9,633.5 737.5,643.3 724.8,654.1 712.8,665.5 702.7,678.7 693.5,692.4 685.8,707.1" fill="#e48534" stroke="#e48534" stroke-width="0.5"/><polygon points="685.8,707.1 693.5,692.4 702.7,678.7 712.8,665.5 724.8,654.1 737.5,643.3 750.9,633.5 764.4,623.9 777.5,613.8 791.8,605.3 806.1,596.9 820.4,588.4 834.6,579.9 848.6,571.0 862.7,562.1 876.7,553.2 890.7,544.3 904.7,535.5 907.4,541.4 893.2,549.9 879.1,558.4 865.0,566.9 850.9,575.4 836.7,583.8 822.3,591.9 808.0,600.0 793.7,608.2 779.6,616.6 766.6,626.7 753.0,636.0 739.4,645.3 726.7,655.8 714.5,666.9 704.0,679.6 694.1,692.8 685.8,707.1" fill="#db2122" stroke="#db2122" stroke-width="0.5"/><polygon points="687.3,715.6 699.5,708.1 711.7,700.5 724.4,693.8 737.7,688.4 751.1,683.2 764.4,677.9 777.6,672.3 790.8,666.6 804.0,660.9 817.2,655.2 830.4,649.5 843.6,643.9 856.8,638.2 870.0,632.5 883.1,626.8 896.3,621.1 909.5,615.4 910.1,621.8 896.9,627.1 883.7,632.4 870.4,637.6 857.2,642.9 844.0,648.2 830.8,653.5 817.6,658.8 804.3,664.0 791.1,669.2 777.8,674.4 764.6,679.6 751.3,684.8 738.0,690.0 724.8,695.1 712.0,701.4 699.7,708.5 687.3,715.6" fill="#db2122" stroke="#db2122" stroke-width="0.5"/><polygon points="687.3,715.6 699.7,708.5 712.0,701.4 724.8,695.1 738.0,690.0 751.3,684.8 764.6,679.6 777.8,674.4 791.1,669.2 804.3,664.0 817.6,658.8 830.8,653.5 844.0,648.2 857.2,642.9 870.4,637.6 883.7,632.4 896.9,627.1 910.1,621.8 910.4,625.3 897.2,630.4 883.9,635.4 870.7,640.5 857.5,645.5 844.2,650.6 831.0,655.7 817.8,660.7 804.5,665.7 791.2,670.6 777.9,675.6 764.7,680.6 751.5,685.8 738.2,690.8 725.0,695.9 712.2,701.9 699.8,708.8 687.4,715.7" fill="#dea43b" stroke="#dea43b" stroke-width="0.5"/><polygon points="687.4,715.7 699.8,708.8 712.2,701.9 725.0,695.9 738.2,690.8 751.5,685.8 764.7,680.6 777.9,675.6 791.2,670.6 804.5,665.7 817.8,660.7 831.0,655.7 844.2,650.6 857.5,645.5 870.7,640.5 883.9,635.4 897.2,630.4 910.4,625.3 910.7,628.6 897.4,633.5 884.2,638.3 870.9,643.2 857.7,648.0 844.4,652.9 831.2,657.7 817.9,662.6 804.7,667.3 791.3,672.0 778.0,676.6 764.8,681.4 751.6,686.6 738.4,691.6 725.2,696.6 712.3,702.4 699.9,709.0 687.4,715.7" fill="#9abc5e" stroke="#9abc5e" stroke-width="0.5"/><polygon points="687.4,715.7 699.9,709.0 712.3,702.4 725.2,696.6 738.4,691.6 751.6,686.6 764.8,681.4 778.0,676.6 791.3,672.0 804.7,667.3 817.9,662.6 831.2,657.7 844.4,652.9 857.7,648.0 870.9,643.2 884.2,638.3 897.4,633.5 910.7,628.6 911.0,632.0 897.7,636.6 884.5,641.2 871.2,645.8 857.9,650.5 844.6,655.1 831.4,659.8 818.1,664.4 804.8,668.9 791.5,673.3 778.1,677.7 764.8,682.3 751.7,687.4 738.5,692.4 725.4,697.3 712.5,702.9 700.0,709.2 687.5,715.7" fill="#65ac96" stroke="#65ac96" stroke-width="0.5"/><polygon points="687.5,715.7 700.0,709.2 712.5,702.9 725.4,697.3 738.5,692.4 751.7,687.4 764.8,682.3 778.1,677.7 791.5,673.3 804.8,668.9 818.1,664.4 831.4,659.8 844.6,655.1 857.9,650.5 871.2,645.8 884.5,641.2 897.7,636.6 911.0,632.0 911.3,635.3 898.0,639.7 884.7,644.1 871.4,648.5 858.1,652.9 844.9,657.4 831.6,661.8 818.3,666.2 805.0,670.5 791.6,674.7 778.2,678.8 764.9,683.2 751.9,688.3 738.7,693.1 725.5,697.9 712.7,703.4 700.0,709.5 687.5,715.8" fill="#4887bc" stroke="#4887bc" stroke-width="0.5"/><polygon points="687.5,715.8 700.0,709.5 712.7,703.4 725.5,697.9 738.7,693.1 751.9,688.3 764.9,683.2 778.2,678.8 791.6,674.7 805.0,670.5 818.3,666.2 831.6,661.8 844.9,657.4 858.1,652.9 871.4,648.5 884.7,644.1 898.0,639.7 911.3,635.3 911.8,640.8 898.5,644.9 885.2,648.9 871.8,653.0 858.5,657.0 845.2,661.1 831.9,665.2 818.6,669.3 805.2,673.2 791.8,676.9 778.4,680.6 765.1,684.7 752.1,689.7 739.0,694.4 725.9,699.1 712.9,704.2 700.2,709.9 687.6,715.8" fill="#4244bd" stroke="#4244bd" stroke-width="0.5"/><polygon points="687.6,715.8 700.2,709.9 712.9,704.2 725.9,699.1 739.0,694.4 752.1,689.7 765.1,684.7 778.4,680.6 791.8,676.9 805.2,673.2 818.6,669.3 831.9,665.2 845.2,661.1 858.5,657.0 871.8,653.0 885.2,648.9 898.5,644.9 911.8,640.8 912.0,647.1 898.8,650.9 885.5,654.7 872.2,658.5 858.9,662.3 845.6,666.2 832.3,670.0 819.0,673.8 805.7,677.5 792.3,681.1 778.9,684.6 765.6,688.4 752.6,692.8 739.4,697.0 726.3,701.1 713.3,705.7 700.4,710.6 687.7,715.9" fill="#56269d" stroke="#56269d" stroke-width="0.5"/><polygon points="687.7,715.9 700.4,710.6 713.3,705.7 726.3,701.1 739.4,697.0 752.6,692.8 765.6,688.4 778.9,684.6 792.3,681.1 805.7,677.5 819.0,673.8 832.3,670.0 845.6,666.2 858.9,662.3 872.2,658.5 885.5,654.7 898.8,650.9 912.0,647.1 912.8,666.0 899.6,669.0 886.4,672.1 873.2,675.2 859.9,678.2 846.7,681.3 833.5,684.4 820.3,687.4 807.0,690.5 793.8,693.6 780.6,696.6 767.4,699.6 754.1,702.1 740.8,704.6 727.5,707.2 714.2,710.0 701.1,712.9 687.9,716.1" fill="#781c86" stroke="#781c86" stroke-width="0.5"/><polygon points="687.9,716.1 701.1,712.9 714.2,710.0 727.5,707.2 740.8,704.6 754.1,702.1 767.4,699.6 780.6,696.6 793.8,693.6 807.0,690.5 820.3,687.4 833.5,684.4 846.7,681.3 859.9,678.2 873.2,675.2 886.4,672.1 899.6,669.0 912.8,666.0 913.1,672.3 899.9,675.1 886.7,677.9 873.5,680.7 860.3,683.5 847.1,686.4 833.9,689.2 820.7,692.0 807.5,694.8 794.3,697.7 781.1,700.6 767.9,703.3 754.6,705.2 741.2,707.2 727.9,709.3 714.6,711.4 701.3,713.7 688.0,716.2" fill="#56269d" stroke="#56269d" stroke-width="0.5"/><polygon points="688.0,716.2 701.3,713.7 714.6,711.4 727.9,709.3 741.2,707.2 754.6,705.2 767.9,703.3 781.1,700.6 794.3,697.7 807.5,694.8 820.7,692.0 833.9,689.2 847.1,686.4 860.3,683.5 873.5,680.7 886.7,677.9 899.9,675.1 913.1,672.3 913.3,677.3 900.1,679.9 886.9,682.4 873.7,685.0 860.5,687.5 847.2,690.0 834.0,692.6 820.8,695.1 807.6,697.6 794.4,700.2 781.2,702.8 768.0,705.3 754.7,707.1 741.3,708.9 728.0,710.8 714.7,712.7 701.4,714.5 688.1,716.3" fill="#443cb5" stroke="#443cb5" stroke-width="0.5"/><polygon points="688.1,716.3 701.4,714.5 714.7,712.7 728.0,710.8 741.3,708.9 754.7,707.1 768.0,705.3 781.2,702.8 794.4,700.2 807.6,697.6 820.8,695.1 834.0,692.6 847.2,690.0 860.5,687.5 873.7,685.0 886.9,682.4 900.1,679.9 913.3,677.3 913.4,680.7 900.2,683.1 887.0,685.4 873.8,687.8 860.6,690.1 847.4,692.5 834.1,694.8 820.9,697.2 807.7,699.5 794.5,701.9 781.3,704.3 768.0,706.6 754.7,708.3 741.4,710.0 728.1,711.8 714.8,713.5 701.5,715.0 688.1,716.4" fill="#4473c1" stroke="#4473c1" stroke-width="0.5"/><polygon points="688.1,716.4 701.5,715.0 714.8,713.5 728.1,711.8 741.4,710.0 754.7,708.3 768.0,706.6 781.3,704.3 794.5,701.9 807.7,699.5 820.9,697.2 834.1,694.8 847.4,692.5 860.6,690.1 873.8,687.8 887.0,685.4 900.2,683.1 913.4,680.7 913.5,683.2 900.3,685.5 887.1,687.7 873.9,689.9 860.7,692.1 847.4,694.3 834.2,696.5 821.0,698.7 807.8,700.9 794.5,703.2 781.3,705.4 768.1,707.5 754.8,709.2 741.5,710.9 728.2,712.6 714.9,714.2 701.5,715.4 688.2,716.5" fill="#5ea79f" stroke="#5ea79f" stroke-width="0.5"/><polygon points="688.2,716.5 701.5,715.4 714.9,714.2 728.2,712.6 741.5,710.9 754.8,709.2 768.1,707.5 781.3,705.4 794.5,703.2 807.8,700.9 821.0,698.7 834.2,696.5 847.4,694.3 860.7,692.1 873.9,689.9 887.1,687.7 900.3,685.5 913.5,683.2 913.7,685.8 900.4,687.8 887.2,689.9 874.0,692.0 860.7,694.1 847.5,696.1 834.3,698.2 821.0,700.3 807.8,702.3 794.6,704.4 781.4,706.5 768.1,708.5 754.8,710.1 741.5,711.7 728.2,713.4 714.9,714.8 701.6,715.8 688.2,716.5" fill="#a5bc57" stroke="#a5bc57" stroke-width="0.5"/><polygon points="688.2,716.5 701.6,715.8 714.9,714.8 728.2,713.4 741.5,711.7 754.8,710.1 768.1,708.5 781.4,706.5 794.6,704.4 807.8,702.3 821.0,700.3 834.3,698.2 847.5,696.1 860.7,694.1 874.0,692.0 887.2,689.9 900.4,687.8 913.7,685.8 913.7,687.5 900.5,689.4 887.3,691.4 874.0,693.4 860.8,695.4 847.6,697.3 834.3,699.3 821.1,701.3 807.9,703.3 794.6,705.3 781.4,707.3 768.2,709.2 754.9,710.7 741.6,712.3 728.3,713.9 715.0,715.2 701.6,716.1 688.3,716.6" fill="#e29237" stroke="#e29237" stroke-width="0.5"/><polygon points="688.3,716.6 701.6,716.1 715.0,715.2 728.3,713.9 741.6,712.3 754.9,710.7 768.2,709.2 781.4,707.3 794.6,705.3 807.9,703.3 821.1,701.3 834.3,699.3 847.6,697.3 860.8,695.4 874.0,693.4 887.3,691.4 900.5,689.4 913.7,687.5 913.9,690.8 900.6,692.6 887.4,694.4 874.1,696.2 860.9,698.0 847.7,699.8 834.4,701.6 821.2,703.4 807.9,705.2 794.7,707.0 781.5,708.7 768.2,710.5 754.9,712.0 741.7,713.4 728.4,714.9 715.1,716.1 701.7,716.6 688.3,716.6" fill="#db2122" stroke="#db2122" stroke-width="0.5"/><polygon points="681.5,540.0 690.0,540.0 689.0,575.0 687.0,606.0 684.5,575.0" fill="#6a1a86" stroke="none" stroke-width="0" stroke-linejoin="round"/><polygon points="680.0,547.0 683.0,547.0 685.0,575.0 686.0,595.0 683.0,575.0" fill="#4784be" stroke="none" stroke-width="0" stroke-linejoin="round"/><polygon points="770.0,716.0 855.0,716.0 855.0,721.0 770.0,722.0" fill="#4a2aa5" stroke="none" stroke-width="0" stroke-linejoin="round"/><polygon points="770.0,721.0 855.0,720.5 855.0,724.0 770.0,725.0" fill="#4f96b4" stroke="none" stroke-width="0" stroke-linejoin="round"/></g>
<g><polygon points="688.9,545.4 687.8,573.7 686.9,597.9 682.4,602.6 678.8,610.0 675.7,620.8 677.0,627.5 679.5,637.0 674.9,643.7 678.8,649.1 681.1,654.5 681.6,660.5 684.8,663.6 689.6,661.2 686.8,652.9 688.5,639.4 690.9,626.1 694.6,613.0 699.9,600.5 706.7,588.8 713.9,577.2 721.1,565.8 728.5,554.3 735.8,542.9 743.0,531.4 750.3,520.0 757.6,508.5 764.9,497.1" fill="#fff" stroke="#e0301e" stroke-width="1.3" stroke-linejoin="round"/><polygon points="685.8,707.1 693.8,692.6 703.3,679.1 713.6,666.2 725.7,654.8 738.4,644.2 751.8,634.6 765.4,625.2 778.4,615.1 792.7,606.6 807.0,598.3 821.3,590.0 835.6,581.7 849.7,573.0 863.7,564.3 877.8,555.6 891.9,546.9 905.9,538.2 909.8,618.7 896.6,624.2 883.4,629.7 870.2,635.1 857.0,640.6 843.8,646.1 830.6,651.6 817.4,657.1 804.2,662.5 791.0,668.0 777.7,673.4 764.5,678.8 751.2,684.1 737.9,689.2 724.6,694.5 711.9,701.0 699.6,708.3 687.3,715.6" fill="#fff" stroke="#e0301e" stroke-width="1.3" stroke-linejoin="round"/><polygon points="678.8,708.0 686.2,707.3 692.9,710.0 687.5,714.1 679.5,712.0" fill="#fff" stroke="#e0301e" stroke-width="1.5" stroke-linejoin="round"/><polygon points="696.3,715.4 702.3,712.0 718.5,710.7 729.3,712.7 734.7,711.4 750.8,713.4 751.5,719.5 741.4,720.8 733.3,728.2 727.9,722.4 714.5,722.4 710.4,727.5 703.7,720.1 696.3,718.8" fill="#fff" stroke="#e0301e" stroke-width="1.5" stroke-linejoin="round"/><polygon points="807.9,704.2 821.1,702.3 834.4,700.4 847.6,698.6 860.9,696.7 874.1,694.8 887.3,692.9 900.6,691.0 913.8,689.2 870.0,706.0 870.0,715.8 795.0,715.8 795.0,706.3 803.0,706.3" fill="#fff" stroke="none" stroke-width="0" stroke-linejoin="round"/><polyline points="807.9,704.2 821.1,702.3 834.4,700.4 847.6,698.6 860.9,696.7 874.1,694.8 887.3,692.9 900.6,691.0 913.8,689.2" fill="none" stroke="#e0301e" stroke-width="1.6"/><polygon points="773.7,706.7 779.8,706.7 779.8,713.8 773.7,713.8" fill="#fff" stroke="#c04060" stroke-width="1" stroke-linejoin="round"/><polygon points="784.8,706.0 791.9,706.0 791.9,714.3 784.8,714.3" fill="#fff" stroke="#c04060" stroke-width="1" stroke-linejoin="round"/></g></g>
<rect x="509.6" y="541.0" width="353.4" height="351.70000000000005" fill="none" stroke="#666" stroke-width="1"/>
<path d="M517.2,892.7 v-4.5 M517.2,541.0 v4.5 M509.6,886.2 h4.5 M863.0,886.2 h-4.5 M534.1,892.7 v-2.8 M534.1,541.0 v2.8 M509.6,869.3 h2.8 M863.0,869.3 h-2.8 M551.0,892.7 v-2.8 M551.0,541.0 v2.8 M509.6,852.4 h2.8 M863.0,852.4 h-2.8 M567.8,892.7 v-2.8 M567.8,541.0 v2.8 M509.6,835.4 h2.8 M863.0,835.4 h-2.8 M584.7,892.7 v-2.8 M584.7,541.0 v2.8 M509.6,818.5 h2.8 M863.0,818.5 h-2.8 M601.6,892.7 v-4.5 M601.6,541.0 v4.5 M509.6,801.6 h4.5 M863.0,801.6 h-4.5 M618.5,892.7 v-2.8 M618.5,541.0 v2.8 M509.6,784.7 h2.8 M863.0,784.7 h-2.8 M635.4,892.7 v-2.8 M635.4,541.0 v2.8 M509.6,767.8 h2.8 M863.0,767.8 h-2.8 M652.2,892.7 v-2.8 M652.2,541.0 v2.8 M509.6,750.8 h2.8 M863.0,750.8 h-2.8 M669.1,892.7 v-2.8 M669.1,541.0 v2.8 M509.6,733.9 h2.8 M863.0,733.9 h-2.8 M686.0,892.7 v-4.5 M686.0,541.0 v4.5 M509.6,717.0 h4.5 M863.0,717.0 h-4.5 M702.9,892.7 v-2.8 M702.9,541.0 v2.8 M509.6,700.1 h2.8 M863.0,700.1 h-2.8 M719.8,892.7 v-2.8 M719.8,541.0 v2.8 M509.6,683.2 h2.8 M863.0,683.2 h-2.8 M736.6,892.7 v-2.8 M736.6,541.0 v2.8 M509.6,666.2 h2.8 M863.0,666.2 h-2.8 M753.5,892.7 v-2.8 M753.5,541.0 v2.8 M509.6,649.3 h2.8 M863.0,649.3 h-2.8 M770.4,892.7 v-4.5 M770.4,541.0 v4.5 M509.6,632.4 h4.5 M863.0,632.4 h-4.5 M787.3,892.7 v-2.8 M787.3,541.0 v2.8 M509.6,615.5 h2.8 M863.0,615.5 h-2.8 M804.2,892.7 v-2.8 M804.2,541.0 v2.8 M509.6,598.6 h2.8 M863.0,598.6 h-2.8 M821.0,892.7 v-2.8 M821.0,541.0 v2.8 M509.6,581.6 h2.8 M863.0,581.6 h-2.8 M837.9,892.7 v-2.8 M837.9,541.0 v2.8 M509.6,564.7 h2.8 M863.0,564.7 h-2.8 M854.8,892.7 v-4.5 M854.8,541.0 v4.5 M509.6,547.8 h4.5 M863.0,547.8 h-4.5" stroke="#555" stroke-width="1" fill="none"/>
<text class="s" x="488.64" y="557.90" font-size="31" textLength="18.29" lengthAdjust="spacingAndGlyphs">2</text>
<text class="s" x="488.28" y="643.00" font-size="31" textLength="20.00" lengthAdjust="spacingAndGlyphs">1</text>
<text class="s" x="488.71" y="727.00" font-size="31" textLength="17.14" lengthAdjust="spacingAndGlyphs">0</text>
<text class="s" x="470.43" y="811.40" font-size="31" textLength="37.83" lengthAdjust="spacingAndGlyphs">−1</text>
<text class="s" x="470.48" y="896.30" font-size="31" textLength="35.90" lengthAdjust="spacingAndGlyphs">−2</text>
<text class="s" x="498.75" y="924.50" font-size="31" textLength="37.07" lengthAdjust="spacingAndGlyphs">−2</text>
<text class="s" x="583.53" y="924.50" font-size="31" textLength="37.95" lengthAdjust="spacingAndGlyphs">−1</text>
<text class="s" x="676.78" y="924.50" font-size="31" textLength="17.60" lengthAdjust="spacingAndGlyphs">0</text>
<text class="s" x="762.79" y="924.50" font-size="31" textLength="17.33" lengthAdjust="spacingAndGlyphs">1</text>
<text class="s" x="846.07" y="924.50" font-size="31" textLength="17.83" lengthAdjust="spacingAndGlyphs">2</text>
<text class="s" x="673.70" y="978.80" font-size="44" textLength="24.48" lengthAdjust="spacingAndGlyphs">x</text>
<g transform="translate(453.8,716.5) rotate(-90)"><text class="s" x="-6.45" y="0.00" font-size="46" textLength="13.18" lengthAdjust="spacingAndGlyphs">t</text></g>
<defs><linearGradient id="gdc" gradientUnits="userSpaceOnUse" x1="0" y1="877.0" x2="0" y2="625.0"><stop offset="0.000" stop-color="#781c86"/><stop offset="0.100" stop-color="#4a2aa5"/><stop offset="0.200" stop-color="#3f4dc5"/><stop offset="0.300" stop-color="#4580c0"/><stop offset="0.400" stop-color="#529db0"/><stop offset="0.500" stop-color="#6bb18e"/><stop offset="0.600" stop-color="#90bc65"/><stop offset="0.700" stop-color="#babc4a"/><stop offset="0.800" stop-color="#ddaa3c"/><stop offset="0.900" stop-color="#e67932"/><stop offset="1.000" stop-color="#db2122"/></linearGradient></defs>
<rect x="882.0" y="625.0" width="16.8" height="252.0" fill="url(#gdc)"/>
<path d="M898.8,877.0 h4 M898.8,861.0 h2.5 M898.8,845.0 h2.5 M898.8,829.0 h2.5 M898.8,813.0 h4 M898.8,797.0 h2.5 M898.8,781.0 h2.5 M898.8,765.0 h2.5 M898.8,749.0 h4 M898.8,733.0 h2.5 M898.8,717.0 h2.5 M898.8,701.0 h2.5 M898.8,685.0 h4 M898.8,669.0 h2.5 M898.8,653.0 h2.5 M898.8,637.0 h2.5" stroke="#999" stroke-width="0.8" fill="none"/>
<text class="s" x="907.44" y="887.80" font-size="31" textLength="16.56" lengthAdjust="spacingAndGlyphs">0</text>
<text class="s" x="907.44" y="823.90" font-size="31" textLength="33.10" lengthAdjust="spacingAndGlyphs">20</text>
<text class="s" x="908.40" y="760.00" font-size="31" textLength="33.10" lengthAdjust="spacingAndGlyphs">40</text>
<text class="s" x="907.44" y="696.10" font-size="31" textLength="33.10" lengthAdjust="spacingAndGlyphs">60</text>
</g>

<!-- 50_e.svg -->
<g id="plot-e" class="k4">
<defs><linearGradient id="ge1" gradientUnits="userSpaceOnUse" x1="1113" y1="0" x2="1325" y2="0"><stop offset="0" stop-color="#4a2aa8"/><stop offset="0.8" stop-color="#3a2fd0"/><stop offset="1" stop-color="#4060c8"/></linearGradient><linearGradient id="ge2" gradientUnits="userSpaceOnUse" x1="1313" y1="0" x2="1472" y2="0"><stop offset="0" stop-color="#6bb18e"/><stop offset="0.25" stop-color="#8dbb60"/><stop offset="0.6" stop-color="#a9bc4c"/><stop offset="1" stop-color="#c8b840"/></linearGradient><linearGradient id="ge3" gradientUnits="userSpaceOnUse" x1="0" y1="850" x2="0" y2="985"><stop offset="0" stop-color="#d92a25"/><stop offset="0.5" stop-color="#e2402a"/><stop offset="1" stop-color="#e8602e"/></linearGradient></defs>
<line x1="1061.2" y1="848.1" x2="1553.9" y2="848.1" stroke="#727272" stroke-width="5"/>
<line x1="1327.2" y1="723.2" x2="1327.2" y2="987.5" stroke="#727272" stroke-width="5.4"/>
<path d="M1125.1,846 v-4.5 M1226.2,846 v-4.5 M1428.4,846 v-4.5 M1529.5,846 v-4.5 M1329,949.3 h4.5 M1329,898.7 h4.5 M1329,797.5 h4.5 M1329,746.9 h4.5" stroke="#808080" stroke-width="2.6" fill="none"/>
<path d="M1113.7,723.2 C1115.8,725.7 1121.6,732.8 1126.0,738.0 C1130.4,743.2 1135.1,748.8 1139.9,754.4 C1144.7,760.0 1150.0,765.9 1155.0,771.5 C1160.0,777.1 1164.8,782.7 1169.8,788.0 C1174.8,793.3 1180.0,798.5 1185.0,803.5 C1190.0,808.5 1194.3,813.0 1199.8,817.8 C1205.3,822.6 1211.8,827.8 1218.0,832.5 C1224.2,837.2 1230.2,841.6 1237.2,845.8 C1244.2,850.0 1252.2,854.4 1259.7,857.6 C1267.2,860.8 1275.9,863.4 1282.1,865.1 C1288.3,866.8 1293.1,867.2 1297.1,867.6 C1301.1,868.0 1303.3,867.8 1306.0,867.5 C1308.7,867.2 1310.8,866.5 1313.0,865.8 C1315.2,865.0 1317.1,864.0 1319.0,863.0 C1320.9,862.0 1323.6,860.2 1324.5,859.6" fill="none" stroke="url(#ge1)" stroke-width="1.7"/>
<path d="M1314.6,849.5 C1314.4,850.6 1313.3,853.5 1313.2,856.0 C1313.1,858.5 1313.3,862.1 1313.8,864.4 C1314.3,866.7 1315.0,868.2 1316.0,870.0 C1317.0,871.8 1318.2,873.4 1319.5,874.9 C1320.8,876.4 1322.2,877.5 1324.0,878.8 C1325.8,880.0 1327.0,881.2 1330.0,882.4 C1333.0,883.6 1337.7,885.4 1341.9,886.2 C1346.1,887.0 1350.9,887.3 1355.4,887.2 C1359.9,887.1 1364.2,886.5 1368.9,885.4 C1373.7,884.3 1379.4,882.6 1383.9,880.9 C1388.4,879.1 1392.3,876.9 1395.8,874.9 C1399.3,872.9 1401.3,871.9 1404.8,868.9 C1408.3,865.9 1413.0,860.9 1416.8,857.0 C1420.5,853.1 1424.3,849.0 1427.3,845.3 C1430.3,841.6 1431.5,840.0 1434.8,834.8 C1438.0,829.5 1443.0,821.3 1446.8,813.8 C1450.5,806.3 1454.3,797.6 1457.3,789.9 C1460.3,782.2 1462.7,774.9 1464.7,767.4 C1466.7,759.9 1468.0,752.3 1469.2,744.9 C1470.5,737.5 1471.7,726.8 1472.2,723.2" fill="none" stroke="url(#ge2)" stroke-width="1.7"/>
<path d="M1361.0,850.0 C1361.6,851.0 1363.4,853.8 1364.5,856.0 C1365.6,858.2 1366.5,860.5 1367.4,863.0 C1368.3,865.5 1369.3,868.3 1370.0,871.0 C1370.7,873.7 1371.0,876.6 1371.3,879.4 C1371.6,882.2 1371.8,885.2 1371.8,888.0 C1371.8,890.8 1371.4,893.1 1371.1,895.9 C1370.8,898.7 1370.5,902.0 1370.0,905.0 C1369.5,908.0 1369.3,909.4 1368.1,913.9 C1366.9,918.4 1365.0,926.1 1362.9,931.8 C1360.8,937.5 1358.2,943.0 1355.4,948.3 C1352.7,953.5 1349.4,958.8 1346.4,963.3 C1343.4,967.8 1340.1,971.9 1337.4,975.3 C1334.7,978.7 1331.7,981.6 1330.0,983.5 C1328.3,985.4 1327.9,986.0 1327.5,986.5" fill="none" stroke="url(#ge3)" stroke-width="1.7"/>
<text class="s" x="1259.41" y="759.80" font-size="37.5" textLength="61.74" lengthAdjust="spacingAndGlyphs">200</text>
<text class="s" x="1260.05" y="810.80" font-size="37.5" textLength="61.09" lengthAdjust="spacingAndGlyphs">100</text>
<text class="s" x="1237.70" y="912.30" font-size="37.5" textLength="84.06" lengthAdjust="spacingAndGlyphs">−100</text>
<text class="s" x="1237.70" y="963.00" font-size="37.5" textLength="84.06" lengthAdjust="spacingAndGlyphs">−200</text>
<text class="s" x="1080.50" y="887.20" font-size="37.5" textLength="84.78" lengthAdjust="spacingAndGlyphs">−400</text>
<text class="s" x="1182.30" y="887.20" font-size="37.5" textLength="84.06" lengthAdjust="spacingAndGlyphs">−200</text>
<text class="s" x="1397.11" y="887.40" font-size="37.5" textLength="61.74" lengthAdjust="spacingAndGlyphs">200</text>
<text class="s" x="1499.20" y="887.40" font-size="37.5" textLength="60.63" lengthAdjust="spacingAndGlyphs">400</text>
<text class="s" x="1568.10" y="866.50" font-size="49" textLength="25.65" lengthAdjust="spacingAndGlyphs">x</text>
<text class="s" x="1318.10" y="702.50" font-size="56" textLength="16.27" lengthAdjust="spacingAndGlyphs">t</text>
</g>

<!-- 90_captions.svg -->
<g id="captions">
<text class="c" x="172.70" y="510.50" font-size="39.5" textLength="43.63" lengthAdjust="spacingAndGlyphs">(a)</text>
<text class="c" x="232.15" y="510.50" font-size="39.5" textLength="49.46" lengthAdjust="spacingAndGlyphs">3D</text>
<text class="c" x="294.20" y="510.50" font-size="39.5" textLength="69.94" lengthAdjust="spacingAndGlyphs">Plot</text>
<text class="c" x="907.69" y="510.50" font-size="39.5" textLength="46.38" lengthAdjust="spacingAndGlyphs">(b)</text>
<text class="c" x="970.00" y="510.50" font-size="39.5" textLength="48.49" lengthAdjust="spacingAndGlyphs">2D</text>
<text class="c" x="1031.71" y="510.50" font-size="39.5" textLength="69.23" lengthAdjust="spacingAndGlyphs">Plot</text>
<text class="c" x="1600.55" y="510.50" font-size="39.5" textLength="41.65" lengthAdjust="spacingAndGlyphs">(c)</text>
<text class="c" x="1658.75" y="510.50" font-size="39.5" textLength="136.11" lengthAdjust="spacingAndGlyphs">Contour</text>
<text class="c" x="1810.31" y="510.50" font-size="39.5" textLength="69.33" lengthAdjust="spacingAndGlyphs">Plot</text>
<text class="c" x="544.48" y="1045.50" font-size="39.5" textLength="46.80" lengthAdjust="spacingAndGlyphs">(d)</text>
<text class="c" x="607.56" y="1045.50" font-size="39.5" textLength="127.73" lengthAdjust="spacingAndGlyphs">Density</text>
<text class="c" x="748.71" y="1045.50" font-size="39.5" textLength="69.33" lengthAdjust="spacingAndGlyphs">Plot</text>
<text class="c" x="1210.93" y="1045.50" font-size="39.5" textLength="42.49" lengthAdjust="spacingAndGlyphs">(e)</text>
<text class="c" x="1269.14" y="1045.50" font-size="39.5" textLength="88.11" lengthAdjust="spacingAndGlyphs">Polar</text>
<text class="c" x="1372.01" y="1045.50" font-size="39.5" textLength="69.33" lengthAdjust="spacingAndGlyphs">Plot</text>
</g>

</svg>
</body></html>
